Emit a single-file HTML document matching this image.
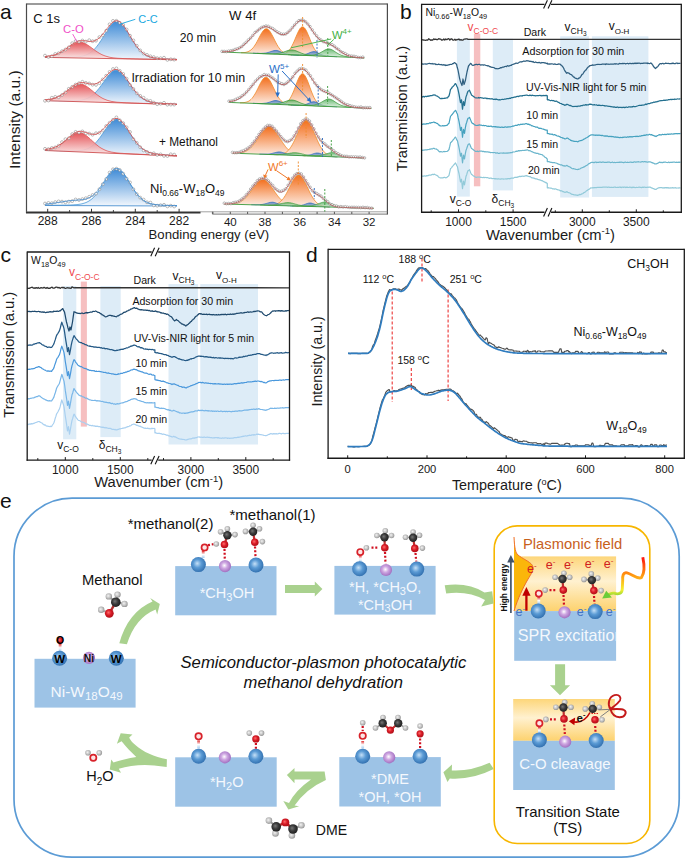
<!DOCTYPE html>
<html><head><meta charset="utf-8"><style>
html,body{margin:0;padding:0;background:#fff;}
svg{display:block;}
text{font-family:"Liberation Sans", sans-serif;}
</style></head><body>
<svg width="685" height="859" viewBox="0 0 685 859" font-family='"Liberation Sans", sans-serif'>
<rect width="685" height="859" fill="#fff"/>
<defs>
<linearGradient id="gRed" x1="0" y1="0" x2="0" y2="1"><stop offset="0" stop-color="#e2464a"/><stop offset="1" stop-color="#fdf1f1"/></linearGradient>
<linearGradient id="gBlue" x1="0" y1="0" x2="0" y2="1"><stop offset="0" stop-color="#3f8bd6"/><stop offset="1" stop-color="#f2f7fd"/></linearGradient>
<linearGradient id="gOr" x1="0" y1="0" x2="0" y2="1"><stop offset="0" stop-color="#f36f1e"/><stop offset="1" stop-color="#fdeee6"/></linearGradient>
<linearGradient id="gGr" x1="0" y1="0" x2="0" y2="1"><stop offset="0" stop-color="#2f9e3c"/><stop offset="1" stop-color="#e4f3e4"/></linearGradient>
<linearGradient id="gBl2" x1="0" y1="0" x2="0" y2="1"><stop offset="0" stop-color="#2060b8"/><stop offset="1" stop-color="#b0c8e8"/></linearGradient>
</defs>
<path d="M45,57.2 L46,57.2 L47,57.2 L48,57.2 L49,57.2 L50,57.2 L51,57.2 L52,57.2 L53,57.2 L54,57.2 L55,57.3 L56,57.3 L57,57.3 L58,57.3 L59,57.3 L60,57.3 L61,57.3 L62,57.3 L63,57.3 L64,57.3 L65,57.3 L66,57.3 L67,57.3 L68,57.3 L69,57.3 L70,57.2 L71,57.2 L72,57.2 L73,57.2 L74,57.1 L75,57.1 L76,57 L77,56.9 L78,56.8 L79,56.7 L80,56.6 L81,56.4 L82,56.2 L83,56 L84,55.7 L85,55.4 L86,55 L87,54.6 L88,54.1 L89,53.6 L90,52.9 L91,52.2 L92,51.4 L93,50.6 L94,49.6 L95,48.6 L96,47.4 L97,46.2 L98,44.9 L99,43.5 L100,42 L101,40.5 L102,38.9 L103,37.2 L104,35.6 L105,33.9 L106,32.3 L107,30.7 L108,29.1 L109,27.6 L110,26.2 L111,25 L112,23.9 L113,22.9 L114,22.2 L115,21.6 L116,21.3 L117,21.2 L118,21.3 L119,21.7 L120,22.3 L121,23.1 L122,24 L123,25.2 L124,26.5 L125,27.9 L126,29.4 L127,31 L128,32.7 L129,34.4 L130,36.1 L131,37.8 L132,39.4 L133,41 L134,42.6 L135,44.1 L136,45.6 L137,46.9 L138,48.2 L139,49.4 L140,50.4 L141,51.4 L142,52.3 L143,53.2 L144,53.9 L145,54.6 L146,55.2 L147,55.7 L148,56.2 L149,56.6 L150,56.9 L151,57.2 L152,57.5 L153,57.7 L154,57.9 L155,58.1 L156,58.3 L157,58.4 L158,58.5 L159,58.6 L160,58.7 L161,58.8 L162,58.8 L163,58.9 L164,59 L165,59 L166,59.1 L167,59.1 L168,59.1 L169,59.2 L170,59.2 L171,59.3 L172,59.3 L173,59.3 L174,59.4 L175,59.4 L176,59.4 L177,59.4 L177,59.8 L176,59.8 L175,59.8 L174,59.7 L173,59.7 L172,59.7 L171,59.7 L170,59.7 L169,59.7 L168,59.6 L167,59.6 L166,59.6 L165,59.6 L164,59.6 L163,59.5 L162,59.5 L161,59.5 L160,59.5 L159,59.5 L158,59.5 L157,59.4 L156,59.4 L155,59.4 L154,59.4 L153,59.4 L152,59.3 L151,59.3 L150,59.3 L149,59.3 L148,59.3 L147,59.3 L146,59.2 L145,59.2 L144,59.2 L143,59.2 L142,59.2 L141,59.1 L140,59.1 L139,59.1 L138,59.1 L137,59.1 L136,59.1 L135,59 L134,59 L133,59 L132,59 L131,59 L130,58.9 L129,58.9 L128,58.9 L127,58.9 L126,58.9 L125,58.9 L124,58.8 L123,58.8 L122,58.8 L121,58.8 L120,58.8 L119,58.7 L118,58.7 L117,58.7 L116,58.7 L115,58.7 L114,58.7 L113,58.6 L112,58.6 L111,58.6 L110,58.6 L109,58.6 L108,58.5 L107,58.5 L106,58.5 L105,58.5 L104,58.5 L103,58.5 L102,58.4 L101,58.4 L100,58.4 L99,58.4 L98,58.4 L97,58.3 L96,58.3 L95,58.3 L94,58.3 L93,58.3 L92,58.3 L91,58.2 L90,58.2 L89,58.2 L88,58.2 L87,58.2 L86,58.1 L85,58.1 L84,58.1 L83,58.1 L82,58.1 L81,58.1 L80,58 L79,58 L78,58 L77,58 L76,58 L75,57.9 L74,57.9 L73,57.9 L72,57.9 L71,57.9 L70,57.9 L69,57.8 L68,57.8 L67,57.8 L66,57.8 L65,57.8 L64,57.7 L63,57.7 L62,57.7 L61,57.7 L60,57.7 L59,57.7 L58,57.6 L57,57.6 L56,57.6 L55,57.6 L54,57.6 L53,57.5 L52,57.5 L51,57.5 L50,57.5 L49,57.5 L48,57.5 L47,57.4 L46,57.4 L45,57.4Z" fill="url(#gBlue)" stroke="none"/>
<polyline points="45,57.2 46,57.2 47,57.2 48,57.2 49,57.2 50,57.2 51,57.2 52,57.2 53,57.2 54,57.2 55,57.3 56,57.3 57,57.3 58,57.3 59,57.3 60,57.3 61,57.3 62,57.3 63,57.3 64,57.3 65,57.3 66,57.3 67,57.3 68,57.3 69,57.3 70,57.2 71,57.2 72,57.2 73,57.2 74,57.1 75,57.1 76,57 77,56.9 78,56.8 79,56.7 80,56.6 81,56.4 82,56.2 83,56 84,55.7 85,55.4 86,55 87,54.6 88,54.1 89,53.6 90,52.9 91,52.2 92,51.4 93,50.6 94,49.6 95,48.6 96,47.4 97,46.2 98,44.9 99,43.5 100,42 101,40.5 102,38.9 103,37.2 104,35.6 105,33.9 106,32.3 107,30.7 108,29.1 109,27.6 110,26.2 111,25 112,23.9 113,22.9 114,22.2 115,21.6 116,21.3 117,21.2 118,21.3 119,21.7 120,22.3 121,23.1 122,24 123,25.2 124,26.5 125,27.9 126,29.4 127,31 128,32.7 129,34.4 130,36.1 131,37.8 132,39.4 133,41 134,42.6 135,44.1 136,45.6 137,46.9 138,48.2 139,49.4 140,50.4 141,51.4 142,52.3 143,53.2 144,53.9 145,54.6 146,55.2 147,55.7 148,56.2 149,56.6 150,56.9 151,57.2 152,57.5 153,57.7 154,57.9 155,58.1 156,58.3 157,58.4 158,58.5 159,58.6 160,58.7 161,58.8 162,58.8 163,58.9 164,59 165,59 166,59.1 167,59.1 168,59.1 169,59.2 170,59.2 171,59.3 172,59.3 173,59.3 174,59.4 175,59.4 176,59.4 177,59.4" fill="none" stroke="#4a9ad8" stroke-width="0.8" stroke-linejoin="round" />
<path d="M45,56.7 L46,56.7 L47,56.6 L48,56.5 L49,56.3 L50,56.2 L51,56 L52,55.8 L53,55.6 L54,55.3 L55,55 L56,54.7 L57,54.3 L58,53.9 L59,53.4 L60,52.9 L61,52.4 L62,51.8 L63,51.2 L64,50.5 L65,49.9 L66,49.2 L67,48.5 L68,47.8 L69,47 L70,46.3 L71,45.7 L72,45 L73,44.4 L74,43.9 L75,43.4 L76,43 L77,42.6 L78,42.4 L79,42.3 L80,42.2 L81,42.3 L82,42.5 L83,42.7 L84,43.1 L85,43.6 L86,44.1 L87,44.7 L88,45.3 L89,46 L90,46.7 L91,47.4 L92,48.2 L93,48.9 L94,49.7 L95,50.4 L96,51.1 L97,51.8 L98,52.4 L99,53.1 L100,53.6 L101,54.2 L102,54.7 L103,55.1 L104,55.5 L105,55.9 L106,56.2 L107,56.5 L108,56.8 L109,57.1 L110,57.3 L111,57.5 L112,57.6 L113,57.8 L114,57.9 L115,58 L116,58.1 L117,58.2 L118,58.3 L119,58.3 L120,58.4 L121,58.4 L122,58.5 L123,58.5 L124,58.6 L125,58.6 L126,58.6 L127,58.7 L128,58.7 L129,58.7 L130,58.7 L131,58.8 L132,58.8 L133,58.8 L134,58.8 L135,58.9 L136,58.9 L137,58.9 L138,58.9 L139,59 L140,59 L141,59 L142,59 L143,59.1 L144,59.1 L145,59.1 L146,59.1 L147,59.1 L148,59.2 L149,59.2 L150,59.2 L151,59.2 L152,59.2 L153,59.3 L154,59.3 L155,59.3 L156,59.3 L157,59.3 L158,59.4 L159,59.4 L160,59.4 L160,59.5 L159,59.5 L158,59.5 L157,59.4 L156,59.4 L155,59.4 L154,59.4 L153,59.4 L152,59.3 L151,59.3 L150,59.3 L149,59.3 L148,59.3 L147,59.3 L146,59.2 L145,59.2 L144,59.2 L143,59.2 L142,59.2 L141,59.1 L140,59.1 L139,59.1 L138,59.1 L137,59.1 L136,59.1 L135,59 L134,59 L133,59 L132,59 L131,59 L130,58.9 L129,58.9 L128,58.9 L127,58.9 L126,58.9 L125,58.9 L124,58.8 L123,58.8 L122,58.8 L121,58.8 L120,58.8 L119,58.7 L118,58.7 L117,58.7 L116,58.7 L115,58.7 L114,58.7 L113,58.6 L112,58.6 L111,58.6 L110,58.6 L109,58.6 L108,58.5 L107,58.5 L106,58.5 L105,58.5 L104,58.5 L103,58.5 L102,58.4 L101,58.4 L100,58.4 L99,58.4 L98,58.4 L97,58.3 L96,58.3 L95,58.3 L94,58.3 L93,58.3 L92,58.3 L91,58.2 L90,58.2 L89,58.2 L88,58.2 L87,58.2 L86,58.1 L85,58.1 L84,58.1 L83,58.1 L82,58.1 L81,58.1 L80,58 L79,58 L78,58 L77,58 L76,58 L75,57.9 L74,57.9 L73,57.9 L72,57.9 L71,57.9 L70,57.9 L69,57.8 L68,57.8 L67,57.8 L66,57.8 L65,57.8 L64,57.7 L63,57.7 L62,57.7 L61,57.7 L60,57.7 L59,57.7 L58,57.6 L57,57.6 L56,57.6 L55,57.6 L54,57.6 L53,57.5 L52,57.5 L51,57.5 L50,57.5 L49,57.5 L48,57.5 L47,57.4 L46,57.4 L45,57.4Z" fill="url(#gRed)" fill-opacity="0.92" stroke="none"/>
<polyline points="45,56.7 46,56.7 47,56.6 48,56.5 49,56.3 50,56.2 51,56 52,55.8 53,55.6 54,55.3 55,55 56,54.7 57,54.3 58,53.9 59,53.4 60,52.9 61,52.4 62,51.8 63,51.2 64,50.5 65,49.9 66,49.2 67,48.5 68,47.8 69,47 70,46.3 71,45.7 72,45 73,44.4 74,43.9 75,43.4 76,43 77,42.6 78,42.4 79,42.3 80,42.2 81,42.3 82,42.5 83,42.7 84,43.1 85,43.6 86,44.1 87,44.7 88,45.3 89,46 90,46.7 91,47.4 92,48.2 93,48.9 94,49.7 95,50.4 96,51.1 97,51.8 98,52.4 99,53.1 100,53.6 101,54.2 102,54.7 103,55.1 104,55.5 105,55.9 106,56.2 107,56.5 108,56.8 109,57.1 110,57.3 111,57.5 112,57.6 113,57.8 114,57.9 115,58 116,58.1 117,58.2 118,58.3 119,58.3 120,58.4 121,58.4 122,58.5 123,58.5 124,58.6 125,58.6 126,58.6 127,58.7 128,58.7 129,58.7 130,58.7 131,58.8 132,58.8 133,58.8 134,58.8 135,58.9 136,58.9 137,58.9 138,58.9 139,59 140,59 141,59 142,59 143,59.1 144,59.1 145,59.1 146,59.1 147,59.1 148,59.2 149,59.2 150,59.2 151,59.2 152,59.2 153,59.3 154,59.3 155,59.3 156,59.3 157,59.3 158,59.4 159,59.4 160,59.4 161,59.4 162,59.5 163,59.5 164,59.5 165,59.5 166,59.5 167,59.5 168,59.6 169,59.6 170,59.6 171,59.6 172,59.6 173,59.7 174,59.7 175,59.7 176,59.7 177,59.7" fill="none" stroke="#e05858" stroke-width="0.8" stroke-linejoin="round" />
<polyline points="45,57.4 177,59.8" fill="none" stroke="#d05050" stroke-width="0.9" stroke-linejoin="round" />
<g fill="#fff" fill-opacity="0.85" stroke="#7a7a7a" stroke-width="0.5"><circle cx="45" cy="55.6" r="1.45"/><circle cx="48.4" cy="57" r="1.45"/><circle cx="51.8" cy="56.2" r="1.45"/><circle cx="55.2" cy="54" r="1.45"/><circle cx="58.6" cy="53.2" r="1.45"/><circle cx="62" cy="51.2" r="1.45"/><circle cx="65.4" cy="49.5" r="1.45"/><circle cx="68.8" cy="47.3" r="1.45"/><circle cx="72.2" cy="43.2" r="1.45"/><circle cx="75.6" cy="41.1" r="1.45"/><circle cx="79" cy="41.8" r="1.45"/><circle cx="82.4" cy="40.5" r="1.45"/><circle cx="85.8" cy="41.6" r="1.45"/><circle cx="89.2" cy="40.2" r="1.45"/><circle cx="92.6" cy="41.2" r="1.45"/><circle cx="96" cy="40.7" r="1.45"/><circle cx="99.4" cy="37.1" r="1.45"/><circle cx="102.8" cy="35.2" r="1.45"/><circle cx="106.2" cy="30.7" r="1.45"/><circle cx="109.6" cy="24.3" r="1.45"/><circle cx="113" cy="20.9" r="1.45"/><circle cx="116.4" cy="20.8" r="1.45"/><circle cx="119.8" cy="22.8" r="1.45"/><circle cx="123.2" cy="24.9" r="1.45"/><circle cx="126.6" cy="29.5" r="1.45"/><circle cx="130" cy="35.7" r="1.45"/><circle cx="133.4" cy="40.4" r="1.45"/><circle cx="136.8" cy="45.8" r="1.45"/><circle cx="140.2" cy="50.4" r="1.45"/><circle cx="143.6" cy="53.5" r="1.45"/><circle cx="147" cy="54.9" r="1.45"/><circle cx="150.4" cy="56.3" r="1.45"/><circle cx="153.8" cy="57.1" r="1.45"/><circle cx="157.2" cy="58.2" r="1.45"/><circle cx="160.6" cy="58.2" r="1.45"/><circle cx="164" cy="57.7" r="1.45"/><circle cx="167.4" cy="59.9" r="1.45"/><circle cx="170.8" cy="59.3" r="1.45"/><circle cx="174.2" cy="59.6" r="1.45"/></g>
<polyline points="45,56.5 46,56.4 47,56.3 48,56.2 49,56 50,55.9 51,55.7 52,55.5 53,55.3 54,55 55,54.7 56,54.3 57,53.9 58,53.5 59,53 60,52.5 61,52 62,51.4 63,50.7 64,50.1 65,49.4 66,48.7 67,48 68,47.2 69,46.5 70,45.7 71,45 72,44.3 73,43.7 74,43.1 75,42.5 76,42 77,41.6 78,41.2 79,41 80,40.8 81,40.7 82,40.6 83,40.6 84,40.7 85,40.8 86,41 87,41.1 88,41.2 89,41.4 90,41.4 91,41.4 92,41.4 93,41.2 94,41 95,40.7 96,40.2 97,39.6 98,38.9 99,38.1 100,37.2 101,36.2 102,35.1 103,33.9 104,32.7 105,31.3 106,30 107,28.7 108,27.4 109,26.1 110,24.9 111,23.8 112,22.9 113,22.1 114,21.4 115,21 116,20.7 117,20.7 118,20.9 119,21.3 120,21.9 121,22.7 122,23.7 123,24.9 124,26.2 125,27.6 126,29.2 127,30.8 128,32.5 129,34.2 130,35.9 131,37.6 132,39.2 133,40.9 134,42.4 135,44 136,45.4 137,46.8 138,48 139,49.2 140,50.3 141,51.3 142,52.2 143,53 144,53.8 145,54.5 146,55.1 147,55.6 148,56 149,56.5 150,56.8 151,57.1 152,57.4 153,57.6 154,57.8 155,58 156,58.2 157,58.3 158,58.4 159,58.5 160,58.6 161,58.7 162,58.8 163,58.8 164,58.9 165,58.9 166,59 167,59 168,59.1 169,59.1 170,59.2 171,59.2 172,59.2 173,59.3 174,59.3 175,59.3 176,59.4 177,59.4" fill="none" stroke="#d84848" stroke-width="0.75" stroke-linejoin="round" />
<path d="M45,100.5 L46,100.5 L47,100.5 L48,100.5 L49,100.6 L50,100.6 L51,100.6 L52,100.6 L53,100.7 L54,100.7 L55,100.7 L56,100.7 L57,100.7 L58,100.7 L59,100.8 L60,100.8 L61,100.8 L62,100.8 L63,100.8 L64,100.8 L65,100.9 L66,100.9 L67,100.9 L68,100.9 L69,100.9 L70,100.9 L71,100.9 L72,100.8 L73,100.8 L74,100.8 L75,100.8 L76,100.7 L77,100.6 L78,100.6 L79,100.5 L80,100.3 L81,100.2 L82,100 L83,99.8 L84,99.5 L85,99.2 L86,98.9 L87,98.5 L88,98.1 L89,97.5 L90,97 L91,96.3 L92,95.6 L93,94.8 L94,93.9 L95,93 L96,91.9 L97,90.8 L98,89.6 L99,88.4 L100,87.1 L101,85.7 L102,84.3 L103,82.9 L104,81.5 L105,80.1 L106,78.7 L107,77.3 L108,76 L109,74.8 L110,73.7 L111,72.7 L112,71.8 L113,71.1 L114,70.6 L115,70.3 L116,70.2 L117,70.2 L118,70.5 L119,71 L120,71.6 L121,72.4 L122,73.4 L123,74.5 L124,75.7 L125,77 L126,78.4 L127,79.8 L128,81.3 L129,82.8 L130,84.3 L131,85.7 L132,87.2 L133,88.6 L134,89.9 L135,91.2 L136,92.4 L137,93.5 L138,94.6 L139,95.6 L140,96.5 L141,97.3 L142,98.1 L143,98.7 L144,99.4 L145,99.9 L146,100.4 L147,100.8 L148,101.2 L149,101.5 L150,101.8 L151,102.1 L152,102.3 L153,102.5 L154,102.7 L155,102.8 L156,103 L157,103.1 L158,103.2 L159,103.3 L160,103.4 L161,103.4 L162,103.5 L163,103.6 L164,103.6 L165,103.7 L166,103.7 L167,103.8 L168,103.8 L169,103.9 L170,103.9 L171,104 L172,104 L173,104 L174,104.1 L175,104.1 L176,104.2 L177,104.2 L177,104.5 L176,104.5 L175,104.4 L174,104.4 L173,104.4 L172,104.4 L171,104.3 L170,104.3 L169,104.3 L168,104.2 L167,104.2 L166,104.2 L165,104.2 L164,104.1 L163,104.1 L162,104.1 L161,104 L160,104 L159,104 L158,104 L157,103.9 L156,103.9 L155,103.9 L154,103.8 L153,103.8 L152,103.8 L151,103.8 L150,103.7 L149,103.7 L148,103.7 L147,103.6 L146,103.6 L145,103.6 L144,103.5 L143,103.5 L142,103.5 L141,103.5 L140,103.4 L139,103.4 L138,103.4 L137,103.3 L136,103.3 L135,103.3 L134,103.3 L133,103.2 L132,103.2 L131,103.2 L130,103.1 L129,103.1 L128,103.1 L127,103.1 L126,103 L125,103 L124,103 L123,102.9 L122,102.9 L121,102.9 L120,102.9 L119,102.8 L118,102.8 L117,102.8 L116,102.7 L115,102.7 L114,102.7 L113,102.7 L112,102.6 L111,102.6 L110,102.6 L109,102.5 L108,102.5 L107,102.5 L106,102.5 L105,102.4 L104,102.4 L103,102.4 L102,102.3 L101,102.3 L100,102.3 L99,102.3 L98,102.2 L97,102.2 L96,102.2 L95,102.1 L94,102.1 L93,102.1 L92,102.1 L91,102 L90,102 L89,102 L88,101.9 L87,101.9 L86,101.9 L85,101.9 L84,101.8 L83,101.8 L82,101.8 L81,101.7 L80,101.7 L79,101.7 L78,101.7 L77,101.6 L76,101.6 L75,101.6 L74,101.5 L73,101.5 L72,101.5 L71,101.4 L70,101.4 L69,101.4 L68,101.4 L67,101.3 L66,101.3 L65,101.3 L64,101.2 L63,101.2 L62,101.2 L61,101.2 L60,101.1 L59,101.1 L58,101.1 L57,101 L56,101 L55,101 L54,101 L53,100.9 L52,100.9 L51,100.9 L50,100.8 L49,100.8 L48,100.8 L47,100.8 L46,100.7 L45,100.7Z" fill="url(#gBlue)" stroke="none"/>
<polyline points="45,100.5 46,100.5 47,100.5 48,100.5 49,100.6 50,100.6 51,100.6 52,100.6 53,100.7 54,100.7 55,100.7 56,100.7 57,100.7 58,100.7 59,100.8 60,100.8 61,100.8 62,100.8 63,100.8 64,100.8 65,100.9 66,100.9 67,100.9 68,100.9 69,100.9 70,100.9 71,100.9 72,100.8 73,100.8 74,100.8 75,100.8 76,100.7 77,100.6 78,100.6 79,100.5 80,100.3 81,100.2 82,100 83,99.8 84,99.5 85,99.2 86,98.9 87,98.5 88,98.1 89,97.5 90,97 91,96.3 92,95.6 93,94.8 94,93.9 95,93 96,91.9 97,90.8 98,89.6 99,88.4 100,87.1 101,85.7 102,84.3 103,82.9 104,81.5 105,80.1 106,78.7 107,77.3 108,76 109,74.8 110,73.7 111,72.7 112,71.8 113,71.1 114,70.6 115,70.3 116,70.2 117,70.2 118,70.5 119,71 120,71.6 121,72.4 122,73.4 123,74.5 124,75.7 125,77 126,78.4 127,79.8 128,81.3 129,82.8 130,84.3 131,85.7 132,87.2 133,88.6 134,89.9 135,91.2 136,92.4 137,93.5 138,94.6 139,95.6 140,96.5 141,97.3 142,98.1 143,98.7 144,99.4 145,99.9 146,100.4 147,100.8 148,101.2 149,101.5 150,101.8 151,102.1 152,102.3 153,102.5 154,102.7 155,102.8 156,103 157,103.1 158,103.2 159,103.3 160,103.4 161,103.4 162,103.5 163,103.6 164,103.6 165,103.7 166,103.7 167,103.8 168,103.8 169,103.9 170,103.9 171,104 172,104 173,104 174,104.1 175,104.1 176,104.2 177,104.2" fill="none" stroke="#4a9ad8" stroke-width="0.8" stroke-linejoin="round" />
<path d="M45,100 L46,99.9 L47,99.8 L48,99.7 L49,99.6 L50,99.4 L51,99.3 L52,99.1 L53,98.8 L54,98.5 L55,98.2 L56,97.9 L57,97.5 L58,97 L59,96.5 L60,96 L61,95.4 L62,94.8 L63,94.1 L64,93.4 L65,92.7 L66,92 L67,91.2 L68,90.4 L69,89.6 L70,88.8 L71,88.1 L72,87.4 L73,86.7 L74,86.1 L75,85.5 L76,85 L77,84.6 L78,84.4 L79,84.2 L80,84.1 L81,84.2 L82,84.3 L83,84.6 L84,85 L85,85.5 L86,86 L87,86.7 L88,87.4 L89,88.1 L90,88.9 L91,89.8 L92,90.6 L93,91.4 L94,92.3 L95,93.1 L96,93.9 L97,94.7 L98,95.4 L99,96.1 L100,96.8 L101,97.4 L102,98 L103,98.5 L104,99 L105,99.4 L106,99.8 L107,100.2 L108,100.5 L109,100.8 L110,101 L111,101.3 L112,101.5 L113,101.6 L114,101.8 L115,101.9 L116,102.1 L117,102.2 L118,102.3 L119,102.3 L120,102.4 L121,102.5 L122,102.5 L123,102.6 L124,102.7 L125,102.7 L126,102.8 L127,102.8 L128,102.8 L129,102.9 L130,102.9 L131,103 L132,103 L133,103 L134,103.1 L135,103.1 L136,103.1 L137,103.2 L138,103.2 L139,103.2 L140,103.3 L141,103.3 L142,103.3 L143,103.4 L144,103.4 L145,103.4 L146,103.5 L147,103.5 L148,103.5 L149,103.6 L150,103.6 L151,103.6 L152,103.7 L153,103.7 L154,103.7 L155,103.8 L156,103.8 L157,103.8 L158,103.9 L159,103.9 L160,103.9 L161,104 L162,104 L163,104 L164,104 L165,104.1 L165,104.2 L164,104.1 L163,104.1 L162,104.1 L161,104 L160,104 L159,104 L158,104 L157,103.9 L156,103.9 L155,103.9 L154,103.8 L153,103.8 L152,103.8 L151,103.8 L150,103.7 L149,103.7 L148,103.7 L147,103.6 L146,103.6 L145,103.6 L144,103.5 L143,103.5 L142,103.5 L141,103.5 L140,103.4 L139,103.4 L138,103.4 L137,103.3 L136,103.3 L135,103.3 L134,103.3 L133,103.2 L132,103.2 L131,103.2 L130,103.1 L129,103.1 L128,103.1 L127,103.1 L126,103 L125,103 L124,103 L123,102.9 L122,102.9 L121,102.9 L120,102.9 L119,102.8 L118,102.8 L117,102.8 L116,102.7 L115,102.7 L114,102.7 L113,102.7 L112,102.6 L111,102.6 L110,102.6 L109,102.5 L108,102.5 L107,102.5 L106,102.5 L105,102.4 L104,102.4 L103,102.4 L102,102.3 L101,102.3 L100,102.3 L99,102.3 L98,102.2 L97,102.2 L96,102.2 L95,102.1 L94,102.1 L93,102.1 L92,102.1 L91,102 L90,102 L89,102 L88,101.9 L87,101.9 L86,101.9 L85,101.9 L84,101.8 L83,101.8 L82,101.8 L81,101.7 L80,101.7 L79,101.7 L78,101.7 L77,101.6 L76,101.6 L75,101.6 L74,101.5 L73,101.5 L72,101.5 L71,101.4 L70,101.4 L69,101.4 L68,101.4 L67,101.3 L66,101.3 L65,101.3 L64,101.2 L63,101.2 L62,101.2 L61,101.2 L60,101.1 L59,101.1 L58,101.1 L57,101 L56,101 L55,101 L54,101 L53,100.9 L52,100.9 L51,100.9 L50,100.8 L49,100.8 L48,100.8 L47,100.8 L46,100.7 L45,100.7Z" fill="url(#gRed)" fill-opacity="0.92" stroke="none"/>
<polyline points="45,100 46,99.9 47,99.8 48,99.7 49,99.6 50,99.4 51,99.3 52,99.1 53,98.8 54,98.5 55,98.2 56,97.9 57,97.5 58,97 59,96.5 60,96 61,95.4 62,94.8 63,94.1 64,93.4 65,92.7 66,92 67,91.2 68,90.4 69,89.6 70,88.8 71,88.1 72,87.4 73,86.7 74,86.1 75,85.5 76,85 77,84.6 78,84.4 79,84.2 80,84.1 81,84.2 82,84.3 83,84.6 84,85 85,85.5 86,86 87,86.7 88,87.4 89,88.1 90,88.9 91,89.8 92,90.6 93,91.4 94,92.3 95,93.1 96,93.9 97,94.7 98,95.4 99,96.1 100,96.8 101,97.4 102,98 103,98.5 104,99 105,99.4 106,99.8 107,100.2 108,100.5 109,100.8 110,101 111,101.3 112,101.5 113,101.6 114,101.8 115,101.9 116,102.1 117,102.2 118,102.3 119,102.3 120,102.4 121,102.5 122,102.5 123,102.6 124,102.7 125,102.7 126,102.8 127,102.8 128,102.8 129,102.9 130,102.9 131,103 132,103 133,103 134,103.1 135,103.1 136,103.1 137,103.2 138,103.2 139,103.2 140,103.3 141,103.3 142,103.3 143,103.4 144,103.4 145,103.4 146,103.5 147,103.5 148,103.5 149,103.6 150,103.6 151,103.6 152,103.7 153,103.7 154,103.7 155,103.8 156,103.8 157,103.8 158,103.9 159,103.9 160,103.9 161,104 162,104 163,104 164,104 165,104.1 166,104.1 167,104.1 168,104.2 169,104.2 170,104.2 171,104.3 172,104.3 173,104.3 174,104.3 175,104.4 176,104.4 177,104.4" fill="none" stroke="#e05858" stroke-width="0.8" stroke-linejoin="round" />
<polyline points="45,100.7 177,104.5" fill="none" stroke="#d05050" stroke-width="0.9" stroke-linejoin="round" />
<g fill="#fff" fill-opacity="0.85" stroke="#7a7a7a" stroke-width="0.5"><circle cx="45" cy="100.8" r="1.45"/><circle cx="48.4" cy="100.5" r="1.45"/><circle cx="51.8" cy="97.8" r="1.45"/><circle cx="55.2" cy="96.9" r="1.45"/><circle cx="58.6" cy="97.2" r="1.45"/><circle cx="62" cy="95" r="1.45"/><circle cx="65.4" cy="92.4" r="1.45"/><circle cx="68.8" cy="88.8" r="1.45"/><circle cx="72.2" cy="86.8" r="1.45"/><circle cx="75.6" cy="84.6" r="1.45"/><circle cx="79" cy="83.2" r="1.45"/><circle cx="82.4" cy="81.8" r="1.45"/><circle cx="85.8" cy="82.9" r="1.45"/><circle cx="89.2" cy="83.5" r="1.45"/><circle cx="92.6" cy="84.7" r="1.45"/><circle cx="96" cy="84.9" r="1.45"/><circle cx="99.4" cy="83.1" r="1.45"/><circle cx="102.8" cy="79.4" r="1.45"/><circle cx="106.2" cy="75.7" r="1.45"/><circle cx="109.6" cy="71.9" r="1.45"/><circle cx="113" cy="69" r="1.45"/><circle cx="116.4" cy="68.4" r="1.45"/><circle cx="119.8" cy="70.9" r="1.45"/><circle cx="123.2" cy="73.9" r="1.45"/><circle cx="126.6" cy="78.7" r="1.45"/><circle cx="130" cy="85" r="1.45"/><circle cx="133.4" cy="89" r="1.45"/><circle cx="136.8" cy="93.3" r="1.45"/><circle cx="140.2" cy="95.9" r="1.45"/><circle cx="143.6" cy="97.8" r="1.45"/><circle cx="147" cy="100.3" r="1.45"/><circle cx="150.4" cy="100.9" r="1.45"/><circle cx="153.8" cy="102.6" r="1.45"/><circle cx="157.2" cy="104.2" r="1.45"/><circle cx="160.6" cy="103.7" r="1.45"/><circle cx="164" cy="102.8" r="1.45"/><circle cx="167.4" cy="104.7" r="1.45"/><circle cx="170.8" cy="104.6" r="1.45"/><circle cx="174.2" cy="104.6" r="1.45"/></g>
<polyline points="45,99.8 46,99.7 47,99.6 48,99.5 49,99.3 50,99.2 51,99 52,98.8 53,98.5 54,98.2 55,97.9 56,97.6 57,97.1 58,96.7 59,96.2 60,95.6 61,95.1 62,94.4 63,93.7 64,93 65,92.3 66,91.5 67,90.7 68,89.9 69,89.1 70,88.3 71,87.5 72,86.7 73,86 74,85.3 75,84.7 76,84.1 77,83.7 78,83.3 79,83 80,82.7 81,82.6 82,82.6 83,82.6 84,82.7 85,82.9 86,83.1 87,83.3 88,83.5 89,83.7 90,83.9 91,84.1 92,84.1 93,84.2 94,84.1 95,83.9 96,83.7 97,83.3 98,82.8 99,82.3 100,81.6 101,80.8 102,80 103,79.1 104,78.1 105,77.1 106,76 107,75 108,74 109,73 110,72.1 111,71.3 112,70.7 113,70.1 114,69.7 115,69.5 116,69.5 117,69.6 118,69.9 119,70.5 120,71.1 121,72 122,73 123,74.1 124,75.4 125,76.7 126,78.1 127,79.6 128,81.1 129,82.6 130,84.1 131,85.5 132,87 133,88.4 134,89.7 135,91 136,92.2 137,93.4 138,94.4 139,95.4 140,96.3 141,97.2 142,97.9 143,98.6 144,99.2 145,99.8 146,100.3 147,100.7 148,101.1 149,101.4 150,101.7 151,102 152,102.2 153,102.4 154,102.6 155,102.7 156,102.9 157,103 158,103.1 159,103.2 160,103.3 161,103.3 162,103.4 163,103.5 164,103.5 165,103.6 166,103.6 167,103.7 168,103.8 169,103.8 170,103.8 171,103.9 172,103.9 173,104 174,104 175,104.1 176,104.1 177,104.1" fill="none" stroke="#d84848" stroke-width="0.75" stroke-linejoin="round" />
<path d="M45,150.3 L46,150.3 L47,150.3 L48,150.4 L49,150.4 L50,150.4 L51,150.5 L52,150.5 L53,150.5 L54,150.6 L55,150.6 L56,150.6 L57,150.7 L58,150.7 L59,150.7 L60,150.8 L61,150.8 L62,150.8 L63,150.8 L64,150.9 L65,150.9 L66,150.9 L67,150.9 L68,151 L69,151 L70,151 L71,151 L72,151 L73,151 L74,151 L75,150.9 L76,150.9 L77,150.9 L78,150.8 L79,150.7 L80,150.6 L81,150.5 L82,150.3 L83,150.1 L84,149.9 L85,149.6 L86,149.3 L87,148.9 L88,148.5 L89,148 L90,147.4 L91,146.8 L92,146.1 L93,145.3 L94,144.4 L95,143.4 L96,142.4 L97,141.3 L98,140.1 L99,138.8 L100,137.5 L101,136.1 L102,134.6 L103,133.2 L104,131.7 L105,130.2 L106,128.7 L107,127.2 L108,125.8 L109,124.5 L110,123.3 L111,122.2 L112,121.2 L113,120.4 L114,119.8 L115,119.4 L116,119.1 L117,119.1 L118,119.3 L119,119.7 L120,120.3 L121,121.1 L122,122 L123,123.1 L124,124.4 L125,125.7 L126,127.2 L127,128.7 L128,130.2 L129,131.8 L130,133.4 L131,134.9 L132,136.5 L133,138 L134,139.4 L135,140.8 L136,142.2 L137,143.4 L138,144.6 L139,145.7 L140,146.7 L141,147.6 L142,148.4 L143,149.2 L144,149.9 L145,150.5 L146,151.1 L147,151.6 L148,152 L149,152.4 L150,152.7 L151,153 L152,153.3 L153,153.5 L154,153.7 L155,153.9 L156,154.1 L157,154.2 L158,154.4 L159,154.5 L160,154.6 L161,154.7 L162,154.8 L163,154.8 L164,154.9 L165,155 L166,155 L167,155.1 L168,155.2 L169,155.2 L170,155.3 L171,155.4 L172,155.4 L173,155.5 L174,155.5 L175,155.6 L176,155.6 L177,155.7 L177,156 L176,156 L175,155.9 L174,155.9 L173,155.8 L172,155.8 L171,155.8 L170,155.7 L169,155.7 L168,155.6 L167,155.6 L166,155.5 L165,155.5 L164,155.5 L163,155.4 L162,155.4 L161,155.3 L160,155.3 L159,155.2 L158,155.2 L157,155.2 L156,155.1 L155,155.1 L154,155 L153,155 L152,155 L151,154.9 L150,154.9 L149,154.8 L148,154.8 L147,154.8 L146,154.7 L145,154.7 L144,154.6 L143,154.6 L142,154.5 L141,154.5 L140,154.5 L139,154.4 L138,154.4 L137,154.3 L136,154.3 L135,154.2 L134,154.2 L133,154.2 L132,154.1 L131,154.1 L130,154 L129,154 L128,154 L127,153.9 L126,153.9 L125,153.8 L124,153.8 L123,153.8 L122,153.7 L121,153.7 L120,153.6 L119,153.6 L118,153.5 L117,153.5 L116,153.5 L115,153.4 L114,153.4 L113,153.3 L112,153.3 L111,153.2 L110,153.2 L109,153.2 L108,153.1 L107,153.1 L106,153 L105,153 L104,153 L103,152.9 L102,152.9 L101,152.8 L100,152.8 L99,152.8 L98,152.7 L97,152.7 L96,152.6 L95,152.6 L94,152.5 L93,152.5 L92,152.5 L91,152.4 L90,152.4 L89,152.3 L88,152.3 L87,152.2 L86,152.2 L85,152.2 L84,152.1 L83,152.1 L82,152 L81,152 L80,152 L79,151.9 L78,151.9 L77,151.8 L76,151.8 L75,151.8 L74,151.7 L73,151.7 L72,151.6 L71,151.6 L70,151.5 L69,151.5 L68,151.5 L67,151.4 L66,151.4 L65,151.3 L64,151.3 L63,151.2 L62,151.2 L61,151.2 L60,151.1 L59,151.1 L58,151 L57,151 L56,151 L55,150.9 L54,150.9 L53,150.8 L52,150.8 L51,150.8 L50,150.7 L49,150.7 L48,150.6 L47,150.6 L46,150.5 L45,150.5Z" fill="url(#gBlue)" stroke="none"/>
<polyline points="45,150.3 46,150.3 47,150.3 48,150.4 49,150.4 50,150.4 51,150.5 52,150.5 53,150.5 54,150.6 55,150.6 56,150.6 57,150.7 58,150.7 59,150.7 60,150.8 61,150.8 62,150.8 63,150.8 64,150.9 65,150.9 66,150.9 67,150.9 68,151 69,151 70,151 71,151 72,151 73,151 74,151 75,150.9 76,150.9 77,150.9 78,150.8 79,150.7 80,150.6 81,150.5 82,150.3 83,150.1 84,149.9 85,149.6 86,149.3 87,148.9 88,148.5 89,148 90,147.4 91,146.8 92,146.1 93,145.3 94,144.4 95,143.4 96,142.4 97,141.3 98,140.1 99,138.8 100,137.5 101,136.1 102,134.6 103,133.2 104,131.7 105,130.2 106,128.7 107,127.2 108,125.8 109,124.5 110,123.3 111,122.2 112,121.2 113,120.4 114,119.8 115,119.4 116,119.1 117,119.1 118,119.3 119,119.7 120,120.3 121,121.1 122,122 123,123.1 124,124.4 125,125.7 126,127.2 127,128.7 128,130.2 129,131.8 130,133.4 131,134.9 132,136.5 133,138 134,139.4 135,140.8 136,142.2 137,143.4 138,144.6 139,145.7 140,146.7 141,147.6 142,148.4 143,149.2 144,149.9 145,150.5 146,151.1 147,151.6 148,152 149,152.4 150,152.7 151,153 152,153.3 153,153.5 154,153.7 155,153.9 156,154.1 157,154.2 158,154.4 159,154.5 160,154.6 161,154.7 162,154.8 163,154.8 164,154.9 165,155 166,155 167,155.1 168,155.2 169,155.2 170,155.3 171,155.4 172,155.4 173,155.5 174,155.5 175,155.6 176,155.6 177,155.7" fill="none" stroke="#4a9ad8" stroke-width="0.8" stroke-linejoin="round" />
<path d="M45,149.6 L46,149.5 L47,149.4 L48,149.3 L49,149.1 L50,149 L51,148.8 L52,148.5 L53,148.2 L54,147.9 L55,147.5 L56,147.1 L57,146.6 L58,146.1 L59,145.5 L60,144.9 L61,144.2 L62,143.5 L63,142.8 L64,142 L65,141.2 L66,140.3 L67,139.5 L68,138.6 L69,137.8 L70,137 L71,136.2 L72,135.4 L73,134.8 L74,134.1 L75,133.6 L76,133.2 L77,132.9 L78,132.7 L79,132.6 L80,132.7 L81,132.9 L82,133.2 L83,133.6 L84,134.1 L85,134.7 L86,135.4 L87,136.2 L88,137.1 L89,137.9 L90,138.8 L91,139.8 L92,140.7 L93,141.6 L94,142.5 L95,143.4 L96,144.3 L97,145.1 L98,145.9 L99,146.7 L100,147.4 L101,148 L102,148.6 L103,149.1 L104,149.6 L105,150.1 L106,150.5 L107,150.9 L108,151.2 L109,151.5 L110,151.7 L111,152 L112,152.2 L113,152.3 L114,152.5 L115,152.6 L116,152.8 L117,152.9 L118,153 L119,153.1 L120,153.2 L121,153.3 L122,153.3 L123,153.4 L124,153.5 L125,153.5 L126,153.6 L127,153.6 L128,153.7 L129,153.7 L130,153.8 L131,153.9 L132,153.9 L133,154 L134,154 L135,154.1 L136,154.1 L137,154.1 L138,154.2 L139,154.2 L140,154.3 L141,154.3 L142,154.4 L143,154.4 L144,154.5 L145,154.5 L146,154.6 L147,154.6 L148,154.7 L149,154.7 L150,154.7 L151,154.8 L152,154.8 L153,154.9 L154,154.9 L155,155 L156,155 L157,155.1 L158,155.1 L159,155.2 L160,155.2 L161,155.2 L162,155.3 L163,155.3 L164,155.4 L165,155.4 L166,155.5 L167,155.5 L168,155.5 L168,155.6 L167,155.6 L166,155.5 L165,155.5 L164,155.5 L163,155.4 L162,155.4 L161,155.3 L160,155.3 L159,155.2 L158,155.2 L157,155.2 L156,155.1 L155,155.1 L154,155 L153,155 L152,155 L151,154.9 L150,154.9 L149,154.8 L148,154.8 L147,154.8 L146,154.7 L145,154.7 L144,154.6 L143,154.6 L142,154.5 L141,154.5 L140,154.5 L139,154.4 L138,154.4 L137,154.3 L136,154.3 L135,154.2 L134,154.2 L133,154.2 L132,154.1 L131,154.1 L130,154 L129,154 L128,154 L127,153.9 L126,153.9 L125,153.8 L124,153.8 L123,153.8 L122,153.7 L121,153.7 L120,153.6 L119,153.6 L118,153.5 L117,153.5 L116,153.5 L115,153.4 L114,153.4 L113,153.3 L112,153.3 L111,153.2 L110,153.2 L109,153.2 L108,153.1 L107,153.1 L106,153 L105,153 L104,153 L103,152.9 L102,152.9 L101,152.8 L100,152.8 L99,152.8 L98,152.7 L97,152.7 L96,152.6 L95,152.6 L94,152.5 L93,152.5 L92,152.5 L91,152.4 L90,152.4 L89,152.3 L88,152.3 L87,152.2 L86,152.2 L85,152.2 L84,152.1 L83,152.1 L82,152 L81,152 L80,152 L79,151.9 L78,151.9 L77,151.8 L76,151.8 L75,151.8 L74,151.7 L73,151.7 L72,151.6 L71,151.6 L70,151.5 L69,151.5 L68,151.5 L67,151.4 L66,151.4 L65,151.3 L64,151.3 L63,151.2 L62,151.2 L61,151.2 L60,151.1 L59,151.1 L58,151 L57,151 L56,151 L55,150.9 L54,150.9 L53,150.8 L52,150.8 L51,150.8 L50,150.7 L49,150.7 L48,150.6 L47,150.6 L46,150.5 L45,150.5Z" fill="url(#gRed)" fill-opacity="0.92" stroke="none"/>
<polyline points="45,149.6 46,149.5 47,149.4 48,149.3 49,149.1 50,149 51,148.8 52,148.5 53,148.2 54,147.9 55,147.5 56,147.1 57,146.6 58,146.1 59,145.5 60,144.9 61,144.2 62,143.5 63,142.8 64,142 65,141.2 66,140.3 67,139.5 68,138.6 69,137.8 70,137 71,136.2 72,135.4 73,134.8 74,134.1 75,133.6 76,133.2 77,132.9 78,132.7 79,132.6 80,132.7 81,132.9 82,133.2 83,133.6 84,134.1 85,134.7 86,135.4 87,136.2 88,137.1 89,137.9 90,138.8 91,139.8 92,140.7 93,141.6 94,142.5 95,143.4 96,144.3 97,145.1 98,145.9 99,146.7 100,147.4 101,148 102,148.6 103,149.1 104,149.6 105,150.1 106,150.5 107,150.9 108,151.2 109,151.5 110,151.7 111,152 112,152.2 113,152.3 114,152.5 115,152.6 116,152.8 117,152.9 118,153 119,153.1 120,153.2 121,153.3 122,153.3 123,153.4 124,153.5 125,153.5 126,153.6 127,153.6 128,153.7 129,153.7 130,153.8 131,153.9 132,153.9 133,154 134,154 135,154.1 136,154.1 137,154.1 138,154.2 139,154.2 140,154.3 141,154.3 142,154.4 143,154.4 144,154.5 145,154.5 146,154.6 147,154.6 148,154.7 149,154.7 150,154.7 151,154.8 152,154.8 153,154.9 154,154.9 155,155 156,155 157,155.1 158,155.1 159,155.2 160,155.2 161,155.2 162,155.3 163,155.3 164,155.4 165,155.4 166,155.5 167,155.5 168,155.5 169,155.6 170,155.6 171,155.7 172,155.7 173,155.8 174,155.8 175,155.8 176,155.9 177,155.9" fill="none" stroke="#e05858" stroke-width="0.8" stroke-linejoin="round" />
<polyline points="45,150.5 177,156" fill="none" stroke="#d05050" stroke-width="0.9" stroke-linejoin="round" />
<g fill="#fff" fill-opacity="0.85" stroke="#7a7a7a" stroke-width="0.5"><circle cx="45" cy="148.8" r="1.45"/><circle cx="48.4" cy="149.1" r="1.45"/><circle cx="51.8" cy="148" r="1.45"/><circle cx="55.2" cy="147.4" r="1.45"/><circle cx="58.6" cy="145.7" r="1.45"/><circle cx="62" cy="142.1" r="1.45"/><circle cx="65.4" cy="139.2" r="1.45"/><circle cx="68.8" cy="138.2" r="1.45"/><circle cx="72.2" cy="134.1" r="1.45"/><circle cx="75.6" cy="131.9" r="1.45"/><circle cx="79" cy="132.6" r="1.45"/><circle cx="82.4" cy="131.4" r="1.45"/><circle cx="85.8" cy="133.2" r="1.45"/><circle cx="89.2" cy="133.6" r="1.45"/><circle cx="92.6" cy="134.7" r="1.45"/><circle cx="96" cy="133.2" r="1.45"/><circle cx="99.4" cy="132.8" r="1.45"/><circle cx="102.8" cy="130.5" r="1.45"/><circle cx="106.2" cy="126" r="1.45"/><circle cx="109.6" cy="122.8" r="1.45"/><circle cx="113" cy="119.8" r="1.45"/><circle cx="116.4" cy="117.4" r="1.45"/><circle cx="119.8" cy="120.3" r="1.45"/><circle cx="123.2" cy="123.2" r="1.45"/><circle cx="126.6" cy="127.3" r="1.45"/><circle cx="130" cy="132" r="1.45"/><circle cx="133.4" cy="139.2" r="1.45"/><circle cx="136.8" cy="142.9" r="1.45"/><circle cx="140.2" cy="147.2" r="1.45"/><circle cx="143.6" cy="150.4" r="1.45"/><circle cx="147" cy="151.9" r="1.45"/><circle cx="150.4" cy="153.7" r="1.45"/><circle cx="153.8" cy="153.3" r="1.45"/><circle cx="157.2" cy="154.9" r="1.45"/><circle cx="160.6" cy="154.4" r="1.45"/><circle cx="164" cy="155.9" r="1.45"/><circle cx="167.4" cy="156" r="1.45"/><circle cx="170.8" cy="154.3" r="1.45"/><circle cx="174.2" cy="154.6" r="1.45"/></g>
<polyline points="45,149.4 46,149.3 47,149.2 48,149.1 49,148.9 50,148.7 51,148.5 52,148.2 53,147.9 54,147.6 55,147.2 56,146.8 57,146.3 58,145.7 59,145.2 60,144.5 61,143.9 62,143.1 63,142.4 64,141.6 65,140.7 66,139.9 67,139 68,138.1 69,137.3 70,136.4 71,135.6 72,134.8 73,134.1 74,133.4 75,132.8 76,132.3 77,131.9 78,131.6 79,131.4 80,131.3 81,131.3 82,131.4 83,131.6 84,131.9 85,132.2 86,132.5 87,132.9 88,133.2 89,133.6 90,133.9 91,134.1 92,134.3 93,134.4 94,134.4 95,134.3 96,134.1 97,133.7 98,133.3 99,132.7 100,132 101,131.2 102,130.3 103,129.4 104,128.3 105,127.2 106,126.1 107,125 108,123.9 109,122.8 110,121.8 111,120.9 112,120.1 113,119.4 114,118.9 115,118.6 116,118.4 117,118.5 118,118.7 119,119.2 120,119.8 121,120.7 122,121.6 123,122.8 124,124 125,125.4 126,126.9 127,128.4 128,129.9 129,131.5 130,133.1 131,134.7 132,136.3 133,137.8 134,139.2 135,140.6 136,142 137,143.2 138,144.4 139,145.5 140,146.5 141,147.4 142,148.3 143,149.1 144,149.8 145,150.4 146,150.9 147,151.4 148,151.9 149,152.3 150,152.6 151,152.9 152,153.2 153,153.4 154,153.6 155,153.8 156,154 157,154.1 158,154.2 159,154.4 160,154.5 161,154.6 162,154.7 163,154.7 164,154.8 165,154.9 166,155 167,155 168,155.1 169,155.2 170,155.2 171,155.3 172,155.3 173,155.4 174,155.4 175,155.5 176,155.6 177,155.6" fill="none" stroke="#d84848" stroke-width="0.75" stroke-linejoin="round" />
<path d="M45,205.3 L46,205.2 L47,205.2 L48,205.2 L49,205.2 L50,205.2 L51,205.2 L52,205.2 L53,205.2 L54,205.2 L55,205.2 L56,205.2 L57,205.2 L58,205.2 L59,205.2 L60,205.2 L61,205.2 L62,205.1 L63,205.1 L64,205.1 L65,205.1 L66,205.1 L67,205.1 L68,205 L69,205 L70,205 L71,205 L72,204.9 L73,204.9 L74,204.8 L75,204.7 L76,204.7 L77,204.6 L78,204.5 L79,204.3 L80,204.2 L81,204 L82,203.8 L83,203.5 L84,203.2 L85,202.9 L86,202.5 L87,202.1 L88,201.5 L89,201 L90,200.3 L91,199.6 L92,198.8 L93,197.9 L94,196.9 L95,195.8 L96,194.7 L97,193.4 L98,192.1 L99,190.7 L100,189.2 L101,187.7 L102,186.1 L103,184.5 L104,182.8 L105,181.2 L106,179.5 L107,177.9 L108,176.4 L109,174.9 L110,173.6 L111,172.3 L112,171.3 L113,170.4 L114,169.6 L115,169.1 L116,168.8 L117,168.8 L118,168.9 L119,169.3 L120,169.9 L121,170.7 L122,171.7 L123,172.9 L124,174.2 L125,175.6 L126,177.1 L127,178.6 L128,180.3 L129,181.9 L130,183.6 L131,185.2 L132,186.9 L133,188.4 L134,190 L135,191.4 L136,192.8 L137,194.1 L138,195.3 L139,196.4 L140,197.5 L141,198.4 L142,199.3 L143,200.1 L144,200.8 L145,201.4 L146,202 L147,202.5 L148,202.9 L149,203.3 L150,203.6 L151,203.9 L152,204.1 L153,204.3 L154,204.5 L155,204.7 L156,204.8 L157,204.9 L158,205 L159,205.1 L160,205.2 L161,205.2 L162,205.3 L163,205.3 L164,205.4 L165,205.4 L166,205.4 L167,205.5 L168,205.5 L169,205.5 L170,205.5 L171,205.6 L172,205.6 L173,205.6 L174,205.6 L175,205.6 L176,205.6 L177,205.7 L177,206 L176,206 L175,206 L174,206 L173,206 L172,206 L171,206 L170,206 L169,206 L168,206 L167,206 L166,206 L165,206 L164,206 L163,205.9 L162,205.9 L161,205.9 L160,205.9 L159,205.9 L158,205.9 L157,205.9 L156,205.9 L155,205.9 L154,205.9 L153,205.9 L152,205.9 L151,205.9 L150,205.9 L149,205.9 L148,205.9 L147,205.9 L146,205.9 L145,205.9 L144,205.9 L143,205.9 L142,205.9 L141,205.9 L140,205.9 L139,205.9 L138,205.9 L137,205.8 L136,205.8 L135,205.8 L134,205.8 L133,205.8 L132,205.8 L131,205.8 L130,205.8 L129,205.8 L128,205.8 L127,205.8 L126,205.8 L125,205.8 L124,205.8 L123,205.8 L122,205.8 L121,205.8 L120,205.8 L119,205.8 L118,205.8 L117,205.8 L116,205.8 L115,205.8 L114,205.8 L113,205.8 L112,205.8 L111,205.8 L110,205.7 L109,205.7 L108,205.7 L107,205.7 L106,205.7 L105,205.7 L104,205.7 L103,205.7 L102,205.7 L101,205.7 L100,205.7 L99,205.7 L98,205.7 L97,205.7 L96,205.7 L95,205.7 L94,205.7 L93,205.7 L92,205.7 L91,205.7 L90,205.7 L89,205.7 L88,205.7 L87,205.7 L86,205.7 L85,205.7 L84,205.6 L83,205.6 L82,205.6 L81,205.6 L80,205.6 L79,205.6 L78,205.6 L77,205.6 L76,205.6 L75,205.6 L74,205.6 L73,205.6 L72,205.6 L71,205.6 L70,205.6 L69,205.6 L68,205.6 L67,205.6 L66,205.6 L65,205.6 L64,205.6 L63,205.6 L62,205.6 L61,205.6 L60,205.6 L59,205.6 L58,205.5 L57,205.5 L56,205.5 L55,205.5 L54,205.5 L53,205.5 L52,205.5 L51,205.5 L50,205.5 L49,205.5 L48,205.5 L47,205.5 L46,205.5 L45,205.5Z" fill="url(#gBlue)" stroke="none"/>
<polyline points="45,205.3 46,205.2 47,205.2 48,205.2 49,205.2 50,205.2 51,205.2 52,205.2 53,205.2 54,205.2 55,205.2 56,205.2 57,205.2 58,205.2 59,205.2 60,205.2 61,205.2 62,205.1 63,205.1 64,205.1 65,205.1 66,205.1 67,205.1 68,205 69,205 70,205 71,205 72,204.9 73,204.9 74,204.8 75,204.7 76,204.7 77,204.6 78,204.5 79,204.3 80,204.2 81,204 82,203.8 83,203.5 84,203.2 85,202.9 86,202.5 87,202.1 88,201.5 89,201 90,200.3 91,199.6 92,198.8 93,197.9 94,196.9 95,195.8 96,194.7 97,193.4 98,192.1 99,190.7 100,189.2 101,187.7 102,186.1 103,184.5 104,182.8 105,181.2 106,179.5 107,177.9 108,176.4 109,174.9 110,173.6 111,172.3 112,171.3 113,170.4 114,169.6 115,169.1 116,168.8 117,168.8 118,168.9 119,169.3 120,169.9 121,170.7 122,171.7 123,172.9 124,174.2 125,175.6 126,177.1 127,178.6 128,180.3 129,181.9 130,183.6 131,185.2 132,186.9 133,188.4 134,190 135,191.4 136,192.8 137,194.1 138,195.3 139,196.4 140,197.5 141,198.4 142,199.3 143,200.1 144,200.8 145,201.4 146,202 147,202.5 148,202.9 149,203.3 150,203.6 151,203.9 152,204.1 153,204.3 154,204.5 155,204.7 156,204.8 157,204.9 158,205 159,205.1 160,205.2 161,205.2 162,205.3 163,205.3 164,205.4 165,205.4 166,205.4 167,205.5 168,205.5 169,205.5 170,205.5 171,205.6 172,205.6 173,205.6 174,205.6 175,205.6 176,205.6 177,205.7" fill="none" stroke="#4a9ad8" stroke-width="0.8" stroke-linejoin="round" />
<polyline points="45,205.5 177,206" fill="none" stroke="#4a90d0" stroke-width="0.9" stroke-linejoin="round" />
<g fill="#fff" fill-opacity="0.85" stroke="#7a7a7a" stroke-width="0.5"><circle cx="45" cy="203.5" r="1.45"/><circle cx="48.4" cy="202.9" r="1.45"/><circle cx="51.8" cy="203.2" r="1.45"/><circle cx="55.2" cy="202.1" r="1.45"/><circle cx="58.6" cy="201.4" r="1.45"/><circle cx="62" cy="201.6" r="1.45"/><circle cx="65.4" cy="202.3" r="1.45"/><circle cx="68.8" cy="201.6" r="1.45"/><circle cx="72.2" cy="201.1" r="1.45"/><circle cx="75.6" cy="199.5" r="1.45"/><circle cx="79" cy="200" r="1.45"/><circle cx="82.4" cy="199.1" r="1.45"/><circle cx="85.8" cy="198.2" r="1.45"/><circle cx="89.2" cy="196.8" r="1.45"/><circle cx="92.6" cy="195" r="1.45"/><circle cx="96" cy="193.6" r="1.45"/><circle cx="99.4" cy="189.2" r="1.45"/><circle cx="102.8" cy="184.2" r="1.45"/><circle cx="106.2" cy="179" r="1.45"/><circle cx="109.6" cy="172.6" r="1.45"/><circle cx="113" cy="169.3" r="1.45"/><circle cx="116.4" cy="168.7" r="1.45"/><circle cx="119.8" cy="170" r="1.45"/><circle cx="123.2" cy="173.7" r="1.45"/><circle cx="126.6" cy="178.7" r="1.45"/><circle cx="130" cy="182.4" r="1.45"/><circle cx="133.4" cy="189.2" r="1.45"/><circle cx="136.8" cy="194.1" r="1.45"/><circle cx="140.2" cy="197.6" r="1.45"/><circle cx="143.6" cy="199.6" r="1.45"/><circle cx="147" cy="202.3" r="1.45"/><circle cx="150.4" cy="202.6" r="1.45"/><circle cx="153.8" cy="205.4" r="1.45"/><circle cx="157.2" cy="205.7" r="1.45"/><circle cx="160.6" cy="205.2" r="1.45"/><circle cx="164" cy="204.8" r="1.45"/><circle cx="167.4" cy="206.4" r="1.45"/><circle cx="170.8" cy="205.7" r="1.45"/><circle cx="174.2" cy="206.5" r="1.45"/></g>
<polyline points="45,204.2 46,204.1 47,204 48,203.9 49,203.8 50,203.6 51,203.5 52,203.4 53,203.2 54,203.1 55,203 56,202.8 57,202.7 58,202.5 59,202.3 60,202.2 61,202 62,201.8 63,201.7 64,201.5 65,201.4 66,201.2 67,201.1 68,200.9 69,200.8 70,200.7 71,200.6 72,200.5 73,200.4 74,200.3 75,200.2 76,200.2 77,200.1 78,200 79,200 80,199.9 81,199.8 82,199.7 83,199.5 84,199.4 85,199.2 86,198.9 87,198.6 88,198.2 89,197.8 90,197.3 91,196.7 92,196.1 93,195.4 94,194.5 95,193.6 96,192.6 97,191.5 98,190.3 99,189 100,187.6 101,186.2 102,184.7 103,183.2 104,181.7 105,180.1 106,178.5 107,177 108,175.5 109,174.2 110,172.9 111,171.7 112,170.7 113,169.8 114,169.1 115,168.7 116,168.4 117,168.4 118,168.6 119,169 120,169.6 121,170.4 122,171.4 123,172.6 124,173.9 125,175.3 126,176.9 127,178.4 128,180.1 129,181.7 130,183.4 131,185.1 132,186.7 133,188.3 134,189.8 135,191.3 136,192.7 137,194 138,195.2 139,196.3 140,197.4 141,198.3 142,199.2 143,200 144,200.7 145,201.3 146,201.9 147,202.4 148,202.8 149,203.2 150,203.5 151,203.8 152,204 153,204.2 154,204.4 155,204.6 156,204.7 157,204.8 158,204.9 159,205 160,205.1 161,205.2 162,205.2 163,205.3 164,205.3 165,205.3 166,205.4 167,205.4 168,205.4 169,205.4 170,205.5 171,205.5 172,205.5 173,205.5 174,205.6 175,205.6 176,205.6 177,205.6" fill="none" stroke="#3b88d0" stroke-width="0.75" stroke-linejoin="round" />
<text x="33.3" y="23.3" font-size="13" fill="#111" text-anchor="start" >C 1s</text>
<text x="63" y="32.5" font-size="11.3" fill="#f050c8" text-anchor="start" >C-O</text>
<line x1="72.7" y1="34.1" x2="76.7" y2="41.3" stroke="#f050c8" stroke-width="0.9" />
<text x="138.2" y="22.5" font-size="11" fill="#19a7e0" text-anchor="start" >C-C</text>
<line x1="120" y1="24.1" x2="135.3" y2="19.3" stroke="#19a7e0" stroke-width="0.9" />
<text x="179.7" y="41.9" font-size="12.4" fill="#111" text-anchor="start" textLength="36.4" lengthAdjust="spacingAndGlyphs" >20 min</text>
<text x="131.4" y="81.8" font-size="12.3" fill="#111" text-anchor="start" textLength="113.7" lengthAdjust="spacingAndGlyphs" >Irradiation  for 10 min</text>
<text x="159" y="146.3" font-size="12" fill="#111" text-anchor="start" textLength="59" lengthAdjust="spacingAndGlyphs" >+ Methanol</text>
<text x="150" y="192.8" font-size="13" fill="#111" text-anchor="start" >Ni<tspan font-size="8.5" dy="3">0.66</tspan><tspan dy="-3">-W</tspan><tspan font-size="8.5" dy="3">18</tspan><tspan dy="-3">O</tspan><tspan font-size="8.5" dy="3">49</tspan></text>
<path d="M241,52.7 L242,52.7 L243,52.6 L244,52.6 L245,52.5 L246,52.3 L247,52 L248,51.7 L249,51.2 L250,50.6 L251,49.9 L252,49 L253,47.9 L254,46.6 L255,45.1 L256,43.5 L257,41.7 L258,39.8 L259,37.8 L260,35.9 L261,34.1 L262,32.4 L263,31 L264,29.8 L265,29.1 L266,28.8 L267,28.8 L268,29.3 L269,30.3 L270,31.5 L271,33.1 L272,34.9 L273,36.8 L274,38.8 L275,40.9 L276,42.8 L277,44.7 L278,46.4 L279,47.9 L280,49.2 L281,50.4 L282,51.4 L283,52.2 L284,52.8 L285,53.3 L286,53.7 L287,54 L288,54.3 L289,54.5 L290,54.6 L291,54.7 L292,54.8 L292,54.9 L291,54.9 L290,54.8 L289,54.8 L288,54.7 L287,54.7 L286,54.6 L285,54.6 L284,54.6 L283,54.5 L282,54.5 L281,54.4 L280,54.4 L279,54.4 L278,54.3 L277,54.3 L276,54.2 L275,54.2 L274,54.2 L273,54.1 L272,54.1 L271,54 L270,54 L269,53.9 L268,53.9 L267,53.9 L266,53.8 L265,53.8 L264,53.7 L263,53.7 L262,53.7 L261,53.6 L260,53.6 L259,53.5 L258,53.5 L257,53.4 L256,53.4 L255,53.4 L254,53.3 L253,53.3 L252,53.2 L251,53.2 L250,53.2 L249,53.1 L248,53.1 L247,53 L246,53 L245,53 L244,52.9 L243,52.9 L242,52.8 L241,52.8Z" fill="url(#gOr)" stroke="none"/>
<polyline points="241,52.7 242,52.7 243,52.6 244,52.6 245,52.5 246,52.3 247,52 248,51.7 249,51.2 250,50.6 251,49.9 252,49 253,47.9 254,46.6 255,45.1 256,43.5 257,41.7 258,39.8 259,37.8 260,35.9 261,34.1 262,32.4 263,31 264,29.8 265,29.1 266,28.8 267,28.8 268,29.3 269,30.3 270,31.5 271,33.1 272,34.9 273,36.8 274,38.8 275,40.9 276,42.8 277,44.7 278,46.4 279,47.9 280,49.2 281,50.4 282,51.4 283,52.2 284,52.8 285,53.3 286,53.7 287,54 288,54.3 289,54.5 290,54.6 291,54.7 292,54.8" fill="none" stroke="#f08a2a" stroke-width="0.8" stroke-linejoin="round" />
<path d="M279,54.3 L280,54.2 L281,54.2 L282,54.1 L283,54 L284,53.7 L285,53.4 L286,52.9 L287,52.3 L288,51.5 L289,50.4 L290,49.2 L291,47.6 L292,45.8 L293,43.8 L294,41.6 L295,39.2 L296,36.8 L297,34.4 L298,32.2 L299,30.2 L300,28.6 L301,27.5 L302,26.9 L303,26.9 L304,27.5 L305,28.6 L306,30.1 L307,32.1 L308,34.4 L309,36.8 L310,39.3 L311,41.8 L312,44.1 L313,46.3 L314,48.2 L315,49.9 L316,51.3 L317,52.5 L318,53.4 L319,54.2 L320,54.8 L321,55.2 L322,55.5 L323,55.8 L324,56 L325,56.1 L326,56.2 L326,56.3 L325,56.3 L324,56.2 L323,56.2 L322,56.1 L321,56.1 L320,56.1 L319,56 L318,56 L317,55.9 L316,55.9 L315,55.9 L314,55.8 L313,55.8 L312,55.7 L311,55.7 L310,55.6 L309,55.6 L308,55.6 L307,55.5 L306,55.5 L305,55.4 L304,55.4 L303,55.4 L302,55.3 L301,55.3 L300,55.2 L299,55.2 L298,55.1 L297,55.1 L296,55.1 L295,55 L294,55 L293,54.9 L292,54.9 L291,54.9 L290,54.8 L289,54.8 L288,54.7 L287,54.7 L286,54.6 L285,54.6 L284,54.6 L283,54.5 L282,54.5 L281,54.4 L280,54.4 L279,54.4Z" fill="url(#gOr)" stroke="none"/>
<polyline points="279,54.3 280,54.2 281,54.2 282,54.1 283,54 284,53.7 285,53.4 286,52.9 287,52.3 288,51.5 289,50.4 290,49.2 291,47.6 292,45.8 293,43.8 294,41.6 295,39.2 296,36.8 297,34.4 298,32.2 299,30.2 300,28.6 301,27.5 302,26.9 303,26.9 304,27.5 305,28.6 306,30.1 307,32.1 308,34.4 309,36.8 310,39.3 311,41.8 312,44.1 313,46.3 314,48.2 315,49.9 316,51.3 317,52.5 318,53.4 319,54.2 320,54.8 321,55.2 322,55.5 323,55.8 324,56 325,56.1 326,56.2" fill="none" stroke="#f08a2a" stroke-width="0.8" stroke-linejoin="round" />
<path d="M253,53.2 L254,53.2 L255,53.3 L256,53.3 L257,53.3 L258,53.3 L259,53.4 L260,53.4 L261,53.4 L262,53.3 L263,53.3 L264,53.2 L265,53.1 L266,53 L267,52.8 L268,52.5 L269,52.2 L270,51.9 L271,51.5 L272,51.2 L273,50.9 L274,50.6 L275,50.5 L276,50.4 L277,50.5 L278,50.8 L279,51.1 L280,51.5 L281,52 L282,52.4 L283,52.8 L284,53.2 L285,53.5 L286,53.8 L287,54 L288,54.2 L289,54.4 L290,54.5 L291,54.6 L292,54.7 L293,54.8 L294,54.8 L295,54.9 L296,55 L297,55 L298,55.1 L299,55.1 L299,55.2 L298,55.1 L297,55.1 L296,55.1 L295,55 L294,55 L293,54.9 L292,54.9 L291,54.9 L290,54.8 L289,54.8 L288,54.7 L287,54.7 L286,54.6 L285,54.6 L284,54.6 L283,54.5 L282,54.5 L281,54.4 L280,54.4 L279,54.4 L278,54.3 L277,54.3 L276,54.2 L275,54.2 L274,54.2 L273,54.1 L272,54.1 L271,54 L270,54 L269,53.9 L268,53.9 L267,53.9 L266,53.8 L265,53.8 L264,53.7 L263,53.7 L262,53.7 L261,53.6 L260,53.6 L259,53.5 L258,53.5 L257,53.4 L256,53.4 L255,53.4 L254,53.3 L253,53.3Z" fill="url(#gBl2)" fill-opacity="0.7" stroke="none"/>
<polyline points="253,53.2 254,53.2 255,53.3 256,53.3 257,53.3 258,53.3 259,53.4 260,53.4 261,53.4 262,53.3 263,53.3 264,53.2 265,53.1 266,53 267,52.8 268,52.5 269,52.2 270,51.9 271,51.5 272,51.2 273,50.9 274,50.6 275,50.5 276,50.4 277,50.5 278,50.8 279,51.1 280,51.5 281,52 282,52.4 283,52.8 284,53.2 285,53.5 286,53.8 287,54 288,54.2 289,54.4 290,54.5 291,54.6 292,54.7 293,54.8 294,54.8 295,54.9 296,55 297,55 298,55.1 299,55.1" fill="none" stroke="#2a68c0" stroke-width="0.7" stroke-linejoin="round" />
<path d="M291,54.8 L292,54.8 L293,54.8 L294,54.9 L295,54.9 L296,54.9 L297,55 L298,55 L299,55 L300,55 L301,54.9 L302,54.9 L303,54.8 L304,54.6 L305,54.4 L306,54.2 L307,53.8 L308,53.5 L309,53 L310,52.6 L311,52.2 L312,51.9 L313,51.7 L314,51.6 L315,51.7 L316,52 L317,52.5 L318,52.9 L319,53.5 L320,54 L321,54.4 L322,54.8 L323,55.2 L324,55.5 L325,55.7 L326,55.9 L327,56 L328,56.1 L329,56.2 L330,56.3 L331,56.4 L332,56.4 L333,56.5 L334,56.5 L335,56.6 L336,56.6 L337,56.7 L337,56.8 L336,56.7 L335,56.7 L334,56.6 L333,56.6 L332,56.6 L331,56.5 L330,56.5 L329,56.4 L328,56.4 L327,56.3 L326,56.3 L325,56.3 L324,56.2 L323,56.2 L322,56.1 L321,56.1 L320,56.1 L319,56 L318,56 L317,55.9 L316,55.9 L315,55.9 L314,55.8 L313,55.8 L312,55.7 L311,55.7 L310,55.6 L309,55.6 L308,55.6 L307,55.5 L306,55.5 L305,55.4 L304,55.4 L303,55.4 L302,55.3 L301,55.3 L300,55.2 L299,55.2 L298,55.1 L297,55.1 L296,55.1 L295,55 L294,55 L293,54.9 L292,54.9 L291,54.9Z" fill="url(#gBl2)" fill-opacity="0.7" stroke="none"/>
<polyline points="291,54.8 292,54.8 293,54.8 294,54.9 295,54.9 296,54.9 297,55 298,55 299,55 300,55 301,54.9 302,54.9 303,54.8 304,54.6 305,54.4 306,54.2 307,53.8 308,53.5 309,53 310,52.6 311,52.2 312,51.9 313,51.7 314,51.6 315,51.7 316,52 317,52.5 318,52.9 319,53.5 320,54 321,54.4 322,54.8 323,55.2 324,55.5 325,55.7 326,55.9 327,56 328,56.1 329,56.2 330,56.3 331,56.4 332,56.4 333,56.5 334,56.5 335,56.6 336,56.6 337,56.7" fill="none" stroke="#2a68c0" stroke-width="0.7" stroke-linejoin="round" />
<path d="M257,53.4 L258,53.4 L259,53.4 L260,53.5 L261,53.5 L262,53.5 L263,53.6 L264,53.6 L265,53.6 L266,53.7 L267,53.7 L268,53.7 L269,53.7 L270,53.8 L271,53.8 L272,53.8 L273,53.8 L274,53.7 L275,53.7 L276,53.6 L277,53.5 L278,53.4 L279,53.2 L280,53 L281,52.8 L282,52.5 L283,52.2 L284,51.9 L285,51.5 L286,51.2 L287,50.8 L288,50.5 L289,50.2 L290,50 L291,49.9 L292,49.9 L293,50 L294,50.2 L295,50.5 L296,50.8 L297,51.2 L298,51.7 L299,52.1 L300,52.5 L301,53 L302,53.3 L303,53.7 L304,54 L305,54.3 L306,54.5 L307,54.8 L308,54.9 L309,55.1 L310,55.2 L311,55.3 L312,55.4 L313,55.5 L314,55.6 L315,55.6 L316,55.7 L317,55.8 L318,55.8 L319,55.9 L320,55.9 L321,56 L322,56 L323,56.1 L324,56.1 L325,56.2 L326,56.2 L327,56.3 L327,56.3 L326,56.3 L325,56.3 L324,56.2 L323,56.2 L322,56.1 L321,56.1 L320,56.1 L319,56 L318,56 L317,55.9 L316,55.9 L315,55.9 L314,55.8 L313,55.8 L312,55.7 L311,55.7 L310,55.6 L309,55.6 L308,55.6 L307,55.5 L306,55.5 L305,55.4 L304,55.4 L303,55.4 L302,55.3 L301,55.3 L300,55.2 L299,55.2 L298,55.1 L297,55.1 L296,55.1 L295,55 L294,55 L293,54.9 L292,54.9 L291,54.9 L290,54.8 L289,54.8 L288,54.7 L287,54.7 L286,54.6 L285,54.6 L284,54.6 L283,54.5 L282,54.5 L281,54.4 L280,54.4 L279,54.4 L278,54.3 L277,54.3 L276,54.2 L275,54.2 L274,54.2 L273,54.1 L272,54.1 L271,54 L270,54 L269,53.9 L268,53.9 L267,53.9 L266,53.8 L265,53.8 L264,53.7 L263,53.7 L262,53.7 L261,53.6 L260,53.6 L259,53.5 L258,53.5 L257,53.4Z" fill="url(#gGr)" fill-opacity="0.7" stroke="none"/>
<polyline points="257,53.4 258,53.4 259,53.4 260,53.5 261,53.5 262,53.5 263,53.6 264,53.6 265,53.6 266,53.7 267,53.7 268,53.7 269,53.7 270,53.8 271,53.8 272,53.8 273,53.8 274,53.7 275,53.7 276,53.6 277,53.5 278,53.4 279,53.2 280,53 281,52.8 282,52.5 283,52.2 284,51.9 285,51.5 286,51.2 287,50.8 288,50.5 289,50.2 290,50 291,49.9 292,49.9 293,50 294,50.2 295,50.5 296,50.8 297,51.2 298,51.7 299,52.1 300,52.5 301,53 302,53.3 303,53.7 304,54 305,54.3 306,54.5 307,54.8 308,54.9 309,55.1 310,55.2 311,55.3 312,55.4 313,55.5 314,55.6 315,55.6 316,55.7 317,55.8 318,55.8 319,55.9 320,55.9 321,56 322,56 323,56.1 324,56.1 325,56.2 326,56.2 327,56.3" fill="none" stroke="#3a9a3a" stroke-width="0.7" stroke-linejoin="round" />
<path d="M288,54.7 L289,54.7 L290,54.7 L291,54.8 L292,54.8 L293,54.8 L294,54.9 L295,54.9 L296,54.9 L297,55 L298,55 L299,55 L300,55.1 L301,55.1 L302,55.1 L303,55.2 L304,55.2 L305,55.2 L306,55.2 L307,55.2 L308,55.2 L309,55.2 L310,55.2 L311,55.2 L312,55.1 L313,55 L314,54.9 L315,54.7 L316,54.4 L317,54.1 L318,53.8 L319,53.4 L320,52.9 L321,52.3 L322,51.8 L323,51.2 L324,50.6 L325,50 L326,49.6 L327,49.2 L328,49 L329,48.9 L330,49.1 L331,49.4 L332,49.8 L333,50.4 L334,51 L335,51.7 L336,52.4 L337,53 L338,53.6 L339,54.2 L340,54.7 L341,55.1 L342,55.5 L343,55.8 L344,56.1 L345,56.3 L346,56.5 L347,56.6 L348,56.8 L349,56.9 L350,57 L351,57.1 L352,57.1 L353,57.2 L354,57.3 L355,57.3 L356,57.4 L357,57.4 L358,57.5 L359,57.5 L360,57.6 L361,57.6 L362,57.7 L363,57.7 L364,57.8 L364,57.9 L363,57.8 L362,57.8 L361,57.8 L360,57.7 L359,57.7 L358,57.6 L357,57.6 L356,57.5 L355,57.5 L354,57.5 L353,57.4 L352,57.4 L351,57.3 L350,57.3 L349,57.3 L348,57.2 L347,57.2 L346,57.1 L345,57.1 L344,57.1 L343,57 L342,57 L341,56.9 L340,56.9 L339,56.8 L338,56.8 L337,56.8 L336,56.7 L335,56.7 L334,56.6 L333,56.6 L332,56.6 L331,56.5 L330,56.5 L329,56.4 L328,56.4 L327,56.3 L326,56.3 L325,56.3 L324,56.2 L323,56.2 L322,56.1 L321,56.1 L320,56.1 L319,56 L318,56 L317,55.9 L316,55.9 L315,55.9 L314,55.8 L313,55.8 L312,55.7 L311,55.7 L310,55.6 L309,55.6 L308,55.6 L307,55.5 L306,55.5 L305,55.4 L304,55.4 L303,55.4 L302,55.3 L301,55.3 L300,55.2 L299,55.2 L298,55.1 L297,55.1 L296,55.1 L295,55 L294,55 L293,54.9 L292,54.9 L291,54.9 L290,54.8 L289,54.8 L288,54.7Z" fill="url(#gGr)" fill-opacity="0.7" stroke="none"/>
<polyline points="288,54.7 289,54.7 290,54.7 291,54.8 292,54.8 293,54.8 294,54.9 295,54.9 296,54.9 297,55 298,55 299,55 300,55.1 301,55.1 302,55.1 303,55.2 304,55.2 305,55.2 306,55.2 307,55.2 308,55.2 309,55.2 310,55.2 311,55.2 312,55.1 313,55 314,54.9 315,54.7 316,54.4 317,54.1 318,53.8 319,53.4 320,52.9 321,52.3 322,51.8 323,51.2 324,50.6 325,50 326,49.6 327,49.2 328,49 329,48.9 330,49.1 331,49.4 332,49.8 333,50.4 334,51 335,51.7 336,52.4 337,53 338,53.6 339,54.2 340,54.7 341,55.1 342,55.5 343,55.8 344,56.1 345,56.3 346,56.5 347,56.6 348,56.8 349,56.9 350,57 351,57.1 352,57.1 353,57.2 354,57.3 355,57.3 356,57.4 357,57.4 358,57.5 359,57.5 360,57.6 361,57.6 362,57.7 363,57.7 364,57.8" fill="none" stroke="#3a9a3a" stroke-width="0.7" stroke-linejoin="round" />
<polyline points="222,52 364.5,57.9" fill="none" stroke="#3a9a3a" stroke-width="0.9" stroke-linejoin="round" />
<g fill="#fff" fill-opacity="0.85" stroke="#7a7a7a" stroke-width="0.5"><circle cx="222" cy="51.4" r="1.3"/><circle cx="224.2" cy="51.4" r="1.3"/><circle cx="226.4" cy="51.6" r="1.3"/><circle cx="228.6" cy="51.1" r="1.3"/><circle cx="230.8" cy="50.8" r="1.3"/><circle cx="233" cy="50.4" r="1.3"/><circle cx="235.2" cy="49.4" r="1.3"/><circle cx="237.4" cy="48.8" r="1.3"/><circle cx="239.6" cy="47.8" r="1.3"/><circle cx="241.8" cy="46.5" r="1.3"/><circle cx="244" cy="44.2" r="1.3"/><circle cx="246.2" cy="42.3" r="1.3"/><circle cx="248.4" cy="39.9" r="1.3"/><circle cx="250.6" cy="38" r="1.3"/><circle cx="252.8" cy="35.4" r="1.3"/><circle cx="255" cy="32.5" r="1.3"/><circle cx="257.2" cy="31" r="1.3"/><circle cx="259.4" cy="29.1" r="1.3"/><circle cx="261.6" cy="27.5" r="1.3"/><circle cx="263.8" cy="26.6" r="1.3"/><circle cx="266" cy="26" r="1.3"/><circle cx="268.2" cy="26.3" r="1.3"/><circle cx="270.4" cy="27.6" r="1.3"/><circle cx="272.6" cy="28.5" r="1.3"/><circle cx="274.8" cy="30.2" r="1.3"/><circle cx="277" cy="31.8" r="1.3"/><circle cx="279.2" cy="32.9" r="1.3"/><circle cx="281.4" cy="34.1" r="1.3"/><circle cx="283.6" cy="34.2" r="1.3"/><circle cx="285.8" cy="33.9" r="1.3"/><circle cx="288" cy="32.2" r="1.3"/><circle cx="290.2" cy="30.2" r="1.3"/><circle cx="292.4" cy="27.6" r="1.3"/><circle cx="294.6" cy="25" r="1.3"/><circle cx="296.8" cy="22.5" r="1.3"/><circle cx="299" cy="20.6" r="1.3"/><circle cx="301.2" cy="20.3" r="1.3"/><circle cx="303.4" cy="20.5" r="1.3"/><circle cx="305.6" cy="21.8" r="1.3"/><circle cx="307.8" cy="24" r="1.3"/><circle cx="310" cy="26.6" r="1.3"/><circle cx="312.2" cy="29.9" r="1.3"/><circle cx="314.4" cy="33.1" r="1.3"/><circle cx="316.6" cy="35.8" r="1.3"/><circle cx="318.8" cy="38.6" r="1.3"/><circle cx="321" cy="40" r="1.3"/><circle cx="323.2" cy="41.6" r="1.3"/><circle cx="325.4" cy="42.1" r="1.3"/><circle cx="327.6" cy="43.4" r="1.3"/><circle cx="329.8" cy="44.1" r="1.3"/><circle cx="332" cy="44.6" r="1.3"/><circle cx="334.2" cy="46.1" r="1.3"/><circle cx="336.4" cy="48.2" r="1.3"/><circle cx="338.6" cy="49.5" r="1.3"/><circle cx="340.8" cy="51.6" r="1.3"/><circle cx="343" cy="52.6" r="1.3"/><circle cx="345.2" cy="53.6" r="1.3"/><circle cx="347.4" cy="55" r="1.3"/><circle cx="349.6" cy="55.9" r="1.3"/><circle cx="351.8" cy="56.1" r="1.3"/><circle cx="354" cy="56.3" r="1.3"/><circle cx="356.2" cy="56.8" r="1.3"/><circle cx="358.4" cy="57.5" r="1.3"/><circle cx="360.6" cy="57.5" r="1.3"/><circle cx="362.8" cy="57.1" r="1.3"/></g>
<polyline points="222,51.8 223,51.8 224,51.8 225,51.7 226,51.7 227,51.6 228,51.6 229,51.5 230,51.3 231,51.2 232,51 233,50.7 234,50.5 235,50.2 236,49.8 237,49.4 238,48.9 239,48.4 240,47.8 241,47.2 242,46.5 243,45.7 244,44.9 245,44 246,43.1 247,42.1 248,41 249,40 250,38.9 251,37.7 252,36.6 253,35.5 254,34.3 255,33.3 256,32.2 257,31.2 258,30.3 259,29.5 260,28.7 261,28.1 262,27.5 263,27.1 264,26.9 265,26.7 266,26.7 267,26.8 268,27 269,27.3 270,27.8 271,28.3 272,28.9 273,29.6 274,30.3 275,31 276,31.7 277,32.4 278,33 279,33.6 280,34.1 281,34.4 282,34.6 283,34.7 284,34.6 285,34.4 286,33.9 287,33.4 288,32.6 289,31.7 290,30.7 291,29.6 292,28.5 293,27.2 294,26 295,24.8 296,23.7 297,22.7 298,21.8 299,21.1 300,20.6 301,20.3 302,20.2 303,20.4 304,20.8 305,21.4 306,22.3 307,23.3 308,24.5 309,25.8 310,27.2 311,28.7 312,30.2 313,31.7 314,33.1 315,34.5 316,35.8 317,37 318,38.1 319,39 320,39.8 321,40.5 322,41.1 323,41.6 324,42.1 325,42.5 326,42.8 327,43.2 328,43.5 329,43.9 330,44.4 331,44.8 332,45.4 333,46 334,46.6 335,47.3 336,48 337,48.7 338,49.5 339,50.2 340,51 341,51.7 342,52.4 343,53.1 344,53.7 345,54.2 346,54.7 347,55.2 348,55.6 349,55.9 350,56.2 351,56.5 352,56.7 353,56.9 354,57.1 355,57.2 356,57.3 357,57.4 358,57.5 359,57.6 360,57.6 361,57.7 362,57.8 363,57.8 364,57.9" fill="none" stroke="#b04848" stroke-width="0.75" stroke-linejoin="round" />
<path d="M240,102.8 L241,102.8 L242,102.7 L243,102.7 L244,102.6 L245,102.4 L246,102.2 L247,101.9 L248,101.5 L249,101 L250,100.3 L251,99.4 L252,98.4 L253,97.1 L254,95.6 L255,94 L256,92.2 L257,90.2 L258,88.2 L259,86.1 L260,84.1 L261,82.2 L262,80.5 L263,79.1 L264,78 L265,77.4 L266,77.2 L267,77.5 L268,78.2 L269,79.3 L270,80.8 L271,82.6 L272,84.6 L273,86.7 L274,88.8 L275,91 L276,93 L277,94.9 L278,96.6 L279,98.2 L280,99.5 L281,100.7 L282,101.6 L283,102.4 L284,103 L285,103.5 L286,103.9 L287,104.2 L288,104.4 L289,104.6 L290,104.7 L291,104.8 L292,104.9 L292,105 L291,105 L290,104.9 L289,104.9 L288,104.8 L287,104.8 L286,104.8 L285,104.7 L284,104.7 L283,104.6 L282,104.6 L281,104.6 L280,104.5 L279,104.5 L278,104.4 L277,104.4 L276,104.3 L275,104.3 L274,104.3 L273,104.2 L272,104.2 L271,104.1 L270,104.1 L269,104.1 L268,104 L267,104 L266,103.9 L265,103.9 L264,103.8 L263,103.8 L262,103.8 L261,103.7 L260,103.7 L259,103.6 L258,103.6 L257,103.6 L256,103.5 L255,103.5 L254,103.4 L253,103.4 L252,103.4 L251,103.3 L250,103.3 L249,103.2 L248,103.2 L247,103.1 L246,103.1 L245,103.1 L244,103 L243,103 L242,102.9 L241,102.9 L240,102.9Z" fill="url(#gOr)" stroke="none"/>
<polyline points="240,102.8 241,102.8 242,102.7 243,102.7 244,102.6 245,102.4 246,102.2 247,101.9 248,101.5 249,101 250,100.3 251,99.4 252,98.4 253,97.1 254,95.6 255,94 256,92.2 257,90.2 258,88.2 259,86.1 260,84.1 261,82.2 262,80.5 263,79.1 264,78 265,77.4 266,77.2 267,77.5 268,78.2 269,79.3 270,80.8 271,82.6 272,84.6 273,86.7 274,88.8 275,91 276,93 277,94.9 278,96.6 279,98.2 280,99.5 281,100.7 282,101.6 283,102.4 284,103 285,103.5 286,103.9 287,104.2 288,104.4 289,104.6 290,104.7 291,104.8 292,104.9" fill="none" stroke="#f08a2a" stroke-width="0.8" stroke-linejoin="round" />
<path d="M279,104.4 L280,104.3 L281,104.3 L282,104.2 L283,104 L284,103.7 L285,103.4 L286,102.8 L287,102.1 L288,101.2 L289,100.1 L290,98.6 L291,96.9 L292,94.9 L293,92.6 L294,90.2 L295,87.5 L296,84.8 L297,82.2 L298,79.7 L299,77.5 L300,75.7 L301,74.5 L302,73.8 L303,73.8 L304,74.4 L305,75.7 L306,77.4 L307,79.6 L308,82.1 L309,84.8 L310,87.6 L311,90.3 L312,92.9 L313,95.3 L314,97.5 L315,99.3 L316,100.9 L317,102.2 L318,103.3 L319,104.1 L320,104.7 L321,105.2 L322,105.6 L323,105.8 L324,106 L325,106.2 L326,106.3 L326,106.4 L325,106.4 L324,106.3 L323,106.3 L322,106.3 L321,106.2 L320,106.2 L319,106.1 L318,106.1 L317,106 L316,106 L315,106 L314,105.9 L313,105.9 L312,105.8 L311,105.8 L310,105.8 L309,105.7 L308,105.7 L307,105.6 L306,105.6 L305,105.5 L304,105.5 L303,105.5 L302,105.4 L301,105.4 L300,105.3 L299,105.3 L298,105.3 L297,105.2 L296,105.2 L295,105.1 L294,105.1 L293,105 L292,105 L291,105 L290,104.9 L289,104.9 L288,104.8 L287,104.8 L286,104.8 L285,104.7 L284,104.7 L283,104.6 L282,104.6 L281,104.6 L280,104.5 L279,104.5Z" fill="url(#gOr)" stroke="none"/>
<polyline points="279,104.4 280,104.3 281,104.3 282,104.2 283,104 284,103.7 285,103.4 286,102.8 287,102.1 288,101.2 289,100.1 290,98.6 291,96.9 292,94.9 293,92.6 294,90.2 295,87.5 296,84.8 297,82.2 298,79.7 299,77.5 300,75.7 301,74.5 302,73.8 303,73.8 304,74.4 305,75.7 306,77.4 307,79.6 308,82.1 309,84.8 310,87.6 311,90.3 312,92.9 313,95.3 314,97.5 315,99.3 316,100.9 317,102.2 318,103.3 319,104.1 320,104.7 321,105.2 322,105.6 323,105.8 324,106 325,106.2 326,106.3" fill="none" stroke="#f08a2a" stroke-width="0.8" stroke-linejoin="round" />
<path d="M253,103.3 L254,103.3 L255,103.4 L256,103.4 L257,103.4 L258,103.5 L259,103.5 L260,103.5 L261,103.5 L262,103.5 L263,103.4 L264,103.3 L265,103.2 L266,103.1 L267,102.9 L268,102.6 L269,102.3 L270,102 L271,101.7 L272,101.3 L273,101 L274,100.7 L275,100.6 L276,100.5 L277,100.7 L278,100.9 L279,101.2 L280,101.6 L281,102.1 L282,102.5 L283,102.9 L284,103.3 L285,103.6 L286,103.9 L287,104.1 L288,104.3 L289,104.5 L290,104.6 L291,104.7 L292,104.8 L293,104.9 L294,104.9 L295,105 L296,105.1 L297,105.1 L298,105.2 L299,105.2 L299,105.3 L298,105.3 L297,105.2 L296,105.2 L295,105.1 L294,105.1 L293,105 L292,105 L291,105 L290,104.9 L289,104.9 L288,104.8 L287,104.8 L286,104.8 L285,104.7 L284,104.7 L283,104.6 L282,104.6 L281,104.6 L280,104.5 L279,104.5 L278,104.4 L277,104.4 L276,104.3 L275,104.3 L274,104.3 L273,104.2 L272,104.2 L271,104.1 L270,104.1 L269,104.1 L268,104 L267,104 L266,103.9 L265,103.9 L264,103.8 L263,103.8 L262,103.8 L261,103.7 L260,103.7 L259,103.6 L258,103.6 L257,103.6 L256,103.5 L255,103.5 L254,103.4 L253,103.4Z" fill="url(#gBl2)" fill-opacity="0.7" stroke="none"/>
<polyline points="253,103.3 254,103.3 255,103.4 256,103.4 257,103.4 258,103.5 259,103.5 260,103.5 261,103.5 262,103.5 263,103.4 264,103.3 265,103.2 266,103.1 267,102.9 268,102.6 269,102.3 270,102 271,101.7 272,101.3 273,101 274,100.7 275,100.6 276,100.5 277,100.7 278,100.9 279,101.2 280,101.6 281,102.1 282,102.5 283,102.9 284,103.3 285,103.6 286,103.9 287,104.1 288,104.3 289,104.5 290,104.6 291,104.7 292,104.8 293,104.9 294,104.9 295,105 296,105.1 297,105.1 298,105.2 299,105.2" fill="none" stroke="#2a68c0" stroke-width="0.7" stroke-linejoin="round" />
<path d="M291,104.9 L292,104.9 L293,105 L294,105 L295,105 L296,105 L297,105.1 L298,105.1 L299,105.1 L300,105.1 L301,105 L302,105 L303,104.9 L304,104.7 L305,104.5 L306,104.3 L307,104 L308,103.6 L309,103.2 L310,102.7 L311,102.3 L312,102 L313,101.8 L314,101.7 L315,101.9 L316,102.1 L317,102.6 L318,103.1 L319,103.6 L320,104.1 L321,104.5 L322,104.9 L323,105.3 L324,105.6 L325,105.8 L326,106 L327,106.1 L328,106.2 L329,106.3 L330,106.4 L331,106.5 L332,106.5 L333,106.6 L334,106.6 L335,106.7 L336,106.7 L337,106.8 L337,106.9 L336,106.8 L335,106.8 L334,106.7 L333,106.7 L332,106.7 L331,106.6 L330,106.6 L329,106.5 L328,106.5 L327,106.5 L326,106.4 L325,106.4 L324,106.3 L323,106.3 L322,106.3 L321,106.2 L320,106.2 L319,106.1 L318,106.1 L317,106 L316,106 L315,106 L314,105.9 L313,105.9 L312,105.8 L311,105.8 L310,105.8 L309,105.7 L308,105.7 L307,105.6 L306,105.6 L305,105.5 L304,105.5 L303,105.5 L302,105.4 L301,105.4 L300,105.3 L299,105.3 L298,105.3 L297,105.2 L296,105.2 L295,105.1 L294,105.1 L293,105 L292,105 L291,105Z" fill="url(#gBl2)" fill-opacity="0.7" stroke="none"/>
<polyline points="291,104.9 292,104.9 293,105 294,105 295,105 296,105 297,105.1 298,105.1 299,105.1 300,105.1 301,105 302,105 303,104.9 304,104.7 305,104.5 306,104.3 307,104 308,103.6 309,103.2 310,102.7 311,102.3 312,102 313,101.8 314,101.7 315,101.9 316,102.1 317,102.6 318,103.1 319,103.6 320,104.1 321,104.5 322,104.9 323,105.3 324,105.6 325,105.8 326,106 327,106.1 328,106.2 329,106.3 330,106.4 331,106.5 332,106.5 333,106.6 334,106.6 335,106.7 336,106.7 337,106.8" fill="none" stroke="#2a68c0" stroke-width="0.7" stroke-linejoin="round" />
<path d="M257,103.5 L258,103.5 L259,103.5 L260,103.6 L261,103.6 L262,103.7 L263,103.7 L264,103.7 L265,103.8 L266,103.8 L267,103.8 L268,103.8 L269,103.9 L270,103.9 L271,103.9 L272,103.9 L273,103.9 L274,103.8 L275,103.8 L276,103.7 L277,103.6 L278,103.5 L279,103.3 L280,103.1 L281,102.9 L282,102.6 L283,102.3 L284,102 L285,101.6 L286,101.3 L287,100.9 L288,100.6 L289,100.3 L290,100.1 L291,100 L292,100 L293,100.1 L294,100.3 L295,100.6 L296,100.9 L297,101.3 L298,101.8 L299,102.2 L300,102.7 L301,103.1 L302,103.5 L303,103.8 L304,104.1 L305,104.4 L306,104.7 L307,104.9 L308,105 L309,105.2 L310,105.3 L311,105.4 L312,105.5 L313,105.6 L314,105.7 L315,105.8 L316,105.8 L317,105.9 L318,105.9 L319,106 L320,106 L321,106.1 L322,106.1 L323,106.2 L324,106.2 L325,106.3 L326,106.3 L327,106.4 L327,106.5 L326,106.4 L325,106.4 L324,106.3 L323,106.3 L322,106.3 L321,106.2 L320,106.2 L319,106.1 L318,106.1 L317,106 L316,106 L315,106 L314,105.9 L313,105.9 L312,105.8 L311,105.8 L310,105.8 L309,105.7 L308,105.7 L307,105.6 L306,105.6 L305,105.5 L304,105.5 L303,105.5 L302,105.4 L301,105.4 L300,105.3 L299,105.3 L298,105.3 L297,105.2 L296,105.2 L295,105.1 L294,105.1 L293,105 L292,105 L291,105 L290,104.9 L289,104.9 L288,104.8 L287,104.8 L286,104.8 L285,104.7 L284,104.7 L283,104.6 L282,104.6 L281,104.6 L280,104.5 L279,104.5 L278,104.4 L277,104.4 L276,104.3 L275,104.3 L274,104.3 L273,104.2 L272,104.2 L271,104.1 L270,104.1 L269,104.1 L268,104 L267,104 L266,103.9 L265,103.9 L264,103.8 L263,103.8 L262,103.8 L261,103.7 L260,103.7 L259,103.6 L258,103.6 L257,103.6Z" fill="url(#gGr)" fill-opacity="0.7" stroke="none"/>
<polyline points="257,103.5 258,103.5 259,103.5 260,103.6 261,103.6 262,103.7 263,103.7 264,103.7 265,103.8 266,103.8 267,103.8 268,103.8 269,103.9 270,103.9 271,103.9 272,103.9 273,103.9 274,103.8 275,103.8 276,103.7 277,103.6 278,103.5 279,103.3 280,103.1 281,102.9 282,102.6 283,102.3 284,102 285,101.6 286,101.3 287,100.9 288,100.6 289,100.3 290,100.1 291,100 292,100 293,100.1 294,100.3 295,100.6 296,100.9 297,101.3 298,101.8 299,102.2 300,102.7 301,103.1 302,103.5 303,103.8 304,104.1 305,104.4 306,104.7 307,104.9 308,105 309,105.2 310,105.3 311,105.4 312,105.5 313,105.6 314,105.7 315,105.8 316,105.8 317,105.9 318,105.9 319,106 320,106 321,106.1 322,106.1 323,106.2 324,106.2 325,106.3 326,106.3 327,106.4" fill="none" stroke="#3a9a3a" stroke-width="0.7" stroke-linejoin="round" />
<path d="M288,104.8 L289,104.8 L290,104.8 L291,104.9 L292,104.9 L293,104.9 L294,105 L295,105 L296,105 L297,105.1 L298,105.1 L299,105.1 L300,105.2 L301,105.2 L302,105.2 L303,105.3 L304,105.3 L305,105.3 L306,105.3 L307,105.3 L308,105.3 L309,105.3 L310,105.3 L311,105.3 L312,105.2 L313,105.1 L314,105 L315,104.8 L316,104.5 L317,104.2 L318,103.9 L319,103.5 L320,103 L321,102.5 L322,101.9 L323,101.3 L324,100.7 L325,100.2 L326,99.7 L327,99.3 L328,99.1 L329,99 L330,99.2 L331,99.5 L332,99.9 L333,100.5 L334,101.1 L335,101.8 L336,102.5 L337,103.1 L338,103.7 L339,104.3 L340,104.8 L341,105.2 L342,105.6 L343,105.9 L344,106.2 L345,106.4 L346,106.6 L347,106.8 L348,106.9 L349,107 L350,107.1 L351,107.2 L352,107.2 L353,107.3 L354,107.4 L355,107.4 L356,107.5 L357,107.5 L358,107.6 L359,107.6 L360,107.7 L361,107.7 L362,107.8 L363,107.8 L364,107.9 L365,107.9 L366,108 L367,108 L368,108.1 L369,108.1 L370,108.2 L370,108.2 L369,108.2 L368,108.2 L367,108.1 L366,108.1 L365,108 L364,108 L363,107.9 L362,107.9 L361,107.9 L360,107.8 L359,107.8 L358,107.7 L357,107.7 L356,107.7 L355,107.6 L354,107.6 L353,107.5 L352,107.5 L351,107.5 L350,107.4 L349,107.4 L348,107.3 L347,107.3 L346,107.2 L345,107.2 L344,107.2 L343,107.1 L342,107.1 L341,107 L340,107 L339,107 L338,106.9 L337,106.9 L336,106.8 L335,106.8 L334,106.7 L333,106.7 L332,106.7 L331,106.6 L330,106.6 L329,106.5 L328,106.5 L327,106.5 L326,106.4 L325,106.4 L324,106.3 L323,106.3 L322,106.3 L321,106.2 L320,106.2 L319,106.1 L318,106.1 L317,106 L316,106 L315,106 L314,105.9 L313,105.9 L312,105.8 L311,105.8 L310,105.8 L309,105.7 L308,105.7 L307,105.6 L306,105.6 L305,105.5 L304,105.5 L303,105.5 L302,105.4 L301,105.4 L300,105.3 L299,105.3 L298,105.3 L297,105.2 L296,105.2 L295,105.1 L294,105.1 L293,105 L292,105 L291,105 L290,104.9 L289,104.9 L288,104.8Z" fill="url(#gGr)" fill-opacity="0.7" stroke="none"/>
<polyline points="288,104.8 289,104.8 290,104.8 291,104.9 292,104.9 293,104.9 294,105 295,105 296,105 297,105.1 298,105.1 299,105.1 300,105.2 301,105.2 302,105.2 303,105.3 304,105.3 305,105.3 306,105.3 307,105.3 308,105.3 309,105.3 310,105.3 311,105.3 312,105.2 313,105.1 314,105 315,104.8 316,104.5 317,104.2 318,103.9 319,103.5 320,103 321,102.5 322,101.9 323,101.3 324,100.7 325,100.2 326,99.7 327,99.3 328,99.1 329,99 330,99.2 331,99.5 332,99.9 333,100.5 334,101.1 335,101.8 336,102.5 337,103.1 338,103.7 339,104.3 340,104.8 341,105.2 342,105.6 343,105.9 344,106.2 345,106.4 346,106.6 347,106.8 348,106.9 349,107 350,107.1 351,107.2 352,107.2 353,107.3 354,107.4 355,107.4 356,107.5 357,107.5 358,107.6 359,107.6 360,107.7 361,107.7 362,107.8 363,107.8 364,107.9 365,107.9 366,108 367,108 368,108.1 369,108.1 370,108.2" fill="none" stroke="#3a9a3a" stroke-width="0.7" stroke-linejoin="round" />
<polyline points="229,102.4 371.5,108.3" fill="none" stroke="#3a9a3a" stroke-width="0.9" stroke-linejoin="round" />
<g fill="#fff" fill-opacity="0.85" stroke="#7a7a7a" stroke-width="0.5"><circle cx="229" cy="101.2" r="1.3"/><circle cx="231.2" cy="101" r="1.3"/><circle cx="233.4" cy="100.6" r="1.3"/><circle cx="235.6" cy="99.5" r="1.3"/><circle cx="237.8" cy="98.4" r="1.3"/><circle cx="240" cy="97.5" r="1.3"/><circle cx="242.2" cy="95.8" r="1.3"/><circle cx="244.4" cy="94.3" r="1.3"/><circle cx="246.6" cy="92" r="1.3"/><circle cx="248.8" cy="89.5" r="1.3"/><circle cx="251" cy="86.8" r="1.3"/><circle cx="253.2" cy="84.2" r="1.3"/><circle cx="255.4" cy="81.2" r="1.3"/><circle cx="257.6" cy="79.1" r="1.3"/><circle cx="259.8" cy="76.9" r="1.3"/><circle cx="262" cy="76.1" r="1.3"/><circle cx="264.2" cy="74.6" r="1.3"/><circle cx="266.4" cy="75.2" r="1.3"/><circle cx="268.6" cy="75.2" r="1.3"/><circle cx="270.8" cy="76.9" r="1.3"/><circle cx="273" cy="78.2" r="1.3"/><circle cx="275.2" cy="80" r="1.3"/><circle cx="277.4" cy="82.1" r="1.3"/><circle cx="279.6" cy="82.9" r="1.3"/><circle cx="281.8" cy="83.7" r="1.3"/><circle cx="284" cy="84.5" r="1.3"/><circle cx="286.2" cy="83.3" r="1.3"/><circle cx="288.4" cy="81.4" r="1.3"/><circle cx="290.6" cy="79.7" r="1.3"/><circle cx="292.8" cy="76.9" r="1.3"/><circle cx="295" cy="73.3" r="1.3"/><circle cx="297.2" cy="71.1" r="1.3"/><circle cx="299.4" cy="69" r="1.3"/><circle cx="301.6" cy="68.4" r="1.3"/><circle cx="303.8" cy="69" r="1.3"/><circle cx="306" cy="70.2" r="1.3"/><circle cx="308.2" cy="73.2" r="1.3"/><circle cx="310.4" cy="75.8" r="1.3"/><circle cx="312.6" cy="79.3" r="1.3"/><circle cx="314.8" cy="83" r="1.3"/><circle cx="317" cy="85.6" r="1.3"/><circle cx="319.2" cy="87.9" r="1.3"/><circle cx="321.4" cy="89.7" r="1.3"/><circle cx="323.6" cy="90.8" r="1.3"/><circle cx="325.8" cy="91.7" r="1.3"/><circle cx="328" cy="92.4" r="1.3"/><circle cx="330.2" cy="94" r="1.3"/><circle cx="332.4" cy="95.4" r="1.3"/><circle cx="334.6" cy="96.9" r="1.3"/><circle cx="336.8" cy="98.3" r="1.3"/><circle cx="339" cy="99.8" r="1.3"/><circle cx="341.2" cy="101.4" r="1.3"/><circle cx="343.4" cy="103.1" r="1.3"/><circle cx="345.6" cy="104.4" r="1.3"/><circle cx="347.8" cy="104.9" r="1.3"/><circle cx="350" cy="105.7" r="1.3"/><circle cx="352.2" cy="106.3" r="1.3"/><circle cx="354.4" cy="106.8" r="1.3"/><circle cx="356.6" cy="107.3" r="1.3"/><circle cx="358.8" cy="107.3" r="1.3"/><circle cx="361" cy="107" r="1.3"/><circle cx="363.2" cy="107.8" r="1.3"/><circle cx="365.4" cy="107.6" r="1.3"/><circle cx="367.6" cy="107.7" r="1.3"/><circle cx="369.8" cy="107.6" r="1.3"/></g>
<polyline points="229,101.6 230,101.5 231,101.3 232,101.2 233,100.9 234,100.7 235,100.4 236,100 237,99.6 238,99.1 239,98.6 240,98 241,97.3 242,96.5 243,95.7 244,94.9 245,93.9 246,92.9 247,91.9 248,90.7 249,89.6 250,88.4 251,87.2 252,86 253,84.7 254,83.5 255,82.3 256,81.2 257,80.1 258,79.1 259,78.2 260,77.4 261,76.7 262,76.2 263,75.7 264,75.4 265,75.3 266,75.3 267,75.4 268,75.7 269,76.1 270,76.6 271,77.3 272,78 273,78.7 274,79.5 275,80.4 276,81.2 277,81.9 278,82.7 279,83.3 280,83.8 281,84.3 282,84.5 283,84.6 284,84.5 285,84.3 286,83.8 287,83.2 288,82.4 289,81.5 290,80.4 291,79.2 292,78 293,76.7 294,75.3 295,74 296,72.8 297,71.7 298,70.8 299,70 300,69.4 301,69 302,68.9 303,69.1 304,69.4 305,70.1 306,70.9 307,71.9 308,73.2 309,74.5 310,75.9 311,77.5 312,79 313,80.5 314,82 315,83.5 316,84.8 317,86 318,87.2 319,88.1 320,89 321,89.7 322,90.4 323,91 324,91.4 325,91.9 326,92.3 327,92.7 328,93.1 329,93.6 330,94.1 331,94.6 332,95.2 333,95.8 334,96.5 335,97.2 336,98 337,98.7 338,99.5 339,100.3 340,101.1 341,101.8 342,102.5 343,103.1 344,103.7 345,104.3 346,104.8 347,105.3 348,105.7 349,106 350,106.3 351,106.6 352,106.8 353,107 354,107.2 355,107.3 356,107.4 357,107.5 358,107.6 359,107.7 360,107.8 361,107.8 362,107.9 363,107.9 364,108 365,108 366,108.1 367,108.1 368,108.2 369,108.2 370,108.2 371,108.3" fill="none" stroke="#b04848" stroke-width="0.75" stroke-linejoin="round" />
<path d="M233.5,153.1 L234.5,153.1 L235.5,153.1 L236.5,153.1 L237.5,153.1 L238.5,153 L239.5,152.9 L240.5,152.8 L241.5,152.6 L242.5,152.4 L243.5,152.1 L244.5,151.8 L245.5,151.4 L246.5,150.9 L247.5,150.3 L248.5,149.6 L249.5,148.9 L250.5,148 L251.5,147 L252.5,145.9 L253.5,144.7 L254.5,143.4 L255.5,142 L256.5,140.5 L257.5,139 L258.5,137.5 L259.5,135.9 L260.5,134.4 L261.5,132.9 L262.5,131.6 L263.5,130.3 L264.5,129.2 L265.5,128.3 L266.5,127.6 L267.5,127.1 L268.5,126.8 L269.5,126.8 L270.5,127.1 L271.5,127.5 L272.5,128.2 L273.5,129.1 L274.5,130.2 L275.5,131.5 L276.5,132.9 L277.5,134.4 L278.5,136 L279.5,137.6 L280.5,139.2 L281.5,140.8 L282.5,142.3 L283.5,143.8 L284.5,145.2 L285.5,146.6 L286.5,147.8 L287.5,148.9 L288.5,149.9 L289.5,150.8 L290.5,151.6 L291.5,152.3 L292.5,152.8 L293.5,153.4 L294.5,153.8 L295.5,154.2 L296.5,154.5 L297.5,154.7 L298.5,154.9 L299.5,155.1 L300.5,155.3 L301.5,155.4 L302.5,155.5 L303.5,155.6 L304.5,155.7 L305.5,155.7 L305.5,155.8 L304.5,155.8 L303.5,155.7 L302.5,155.7 L301.5,155.7 L300.5,155.6 L299.5,155.6 L298.5,155.6 L297.5,155.5 L296.5,155.5 L295.5,155.4 L294.5,155.4 L293.5,155.4 L292.5,155.3 L291.5,155.3 L290.5,155.3 L289.5,155.2 L288.5,155.2 L287.5,155.2 L286.5,155.1 L285.5,155.1 L284.5,155.1 L283.5,155 L282.5,155 L281.5,154.9 L280.5,154.9 L279.5,154.9 L278.5,154.8 L277.5,154.8 L276.5,154.8 L275.5,154.7 L274.5,154.7 L273.5,154.7 L272.5,154.6 L271.5,154.6 L270.5,154.6 L269.5,154.5 L268.5,154.5 L267.5,154.4 L266.5,154.4 L265.5,154.4 L264.5,154.3 L263.5,154.3 L262.5,154.3 L261.5,154.2 L260.5,154.2 L259.5,154.2 L258.5,154.1 L257.5,154.1 L256.5,154.1 L255.5,154 L254.5,154 L253.5,153.9 L252.5,153.9 L251.5,153.9 L250.5,153.8 L249.5,153.8 L248.5,153.8 L247.5,153.7 L246.5,153.7 L245.5,153.7 L244.5,153.6 L243.5,153.6 L242.5,153.6 L241.5,153.5 L240.5,153.5 L239.5,153.4 L238.5,153.4 L237.5,153.4 L236.5,153.3 L235.5,153.3 L234.5,153.3 L233.5,153.2Z" fill="url(#gOr)" stroke="none"/>
<polyline points="233.5,153.1 234.5,153.1 235.5,153.1 236.5,153.1 237.5,153.1 238.5,153 239.5,152.9 240.5,152.8 241.5,152.6 242.5,152.4 243.5,152.1 244.5,151.8 245.5,151.4 246.5,150.9 247.5,150.3 248.5,149.6 249.5,148.9 250.5,148 251.5,147 252.5,145.9 253.5,144.7 254.5,143.4 255.5,142 256.5,140.5 257.5,139 258.5,137.5 259.5,135.9 260.5,134.4 261.5,132.9 262.5,131.6 263.5,130.3 264.5,129.2 265.5,128.3 266.5,127.6 267.5,127.1 268.5,126.8 269.5,126.8 270.5,127.1 271.5,127.5 272.5,128.2 273.5,129.1 274.5,130.2 275.5,131.5 276.5,132.9 277.5,134.4 278.5,136 279.5,137.6 280.5,139.2 281.5,140.8 282.5,142.3 283.5,143.8 284.5,145.2 285.5,146.6 286.5,147.8 287.5,148.9 288.5,149.9 289.5,150.8 290.5,151.6 291.5,152.3 292.5,152.8 293.5,153.4 294.5,153.8 295.5,154.2 296.5,154.5 297.5,154.7 298.5,154.9 299.5,155.1 300.5,155.3 301.5,155.4 302.5,155.5 303.5,155.6 304.5,155.7 305.5,155.7" fill="none" stroke="#f08a2a" stroke-width="0.8" stroke-linejoin="round" />
<path d="M275.5,154.6 L276.5,154.6 L277.5,154.6 L278.5,154.5 L279.5,154.5 L280.5,154.3 L281.5,154.2 L282.5,153.9 L283.5,153.6 L284.5,153.2 L285.5,152.6 L286.5,152 L287.5,151.1 L288.5,150.2 L289.5,149 L290.5,147.6 L291.5,146.1 L292.5,144.3 L293.5,142.4 L294.5,140.3 L295.5,138 L296.5,135.7 L297.5,133.3 L298.5,131 L299.5,128.7 L300.5,126.6 L301.5,124.8 L302.5,123.2 L303.5,121.9 L304.5,121 L305.5,120.6 L306.5,120.6 L307.5,121 L308.5,121.9 L309.5,123.1 L310.5,124.7 L311.5,126.6 L312.5,128.8 L313.5,131.1 L314.5,133.5 L315.5,135.9 L316.5,138.3 L317.5,140.6 L318.5,142.8 L319.5,144.9 L320.5,146.7 L321.5,148.4 L322.5,149.9 L323.5,151.2 L324.5,152.3 L325.5,153.2 L326.5,154 L327.5,154.6 L328.5,155.1 L329.5,155.5 L330.5,155.9 L331.5,156.1 L332.5,156.3 L333.5,156.5 L334.5,156.6 L335.5,156.7 L336.5,156.8 L336.5,156.9 L335.5,156.9 L334.5,156.8 L333.5,156.8 L332.5,156.8 L331.5,156.7 L330.5,156.7 L329.5,156.7 L328.5,156.6 L327.5,156.6 L326.5,156.5 L325.5,156.5 L324.5,156.5 L323.5,156.4 L322.5,156.4 L321.5,156.4 L320.5,156.3 L319.5,156.3 L318.5,156.3 L317.5,156.2 L316.5,156.2 L315.5,156.2 L314.5,156.1 L313.5,156.1 L312.5,156 L311.5,156 L310.5,156 L309.5,155.9 L308.5,155.9 L307.5,155.9 L306.5,155.8 L305.5,155.8 L304.5,155.8 L303.5,155.7 L302.5,155.7 L301.5,155.7 L300.5,155.6 L299.5,155.6 L298.5,155.6 L297.5,155.5 L296.5,155.5 L295.5,155.4 L294.5,155.4 L293.5,155.4 L292.5,155.3 L291.5,155.3 L290.5,155.3 L289.5,155.2 L288.5,155.2 L287.5,155.2 L286.5,155.1 L285.5,155.1 L284.5,155.1 L283.5,155 L282.5,155 L281.5,154.9 L280.5,154.9 L279.5,154.9 L278.5,154.8 L277.5,154.8 L276.5,154.8 L275.5,154.7Z" fill="url(#gOr)" stroke="none"/>
<polyline points="275.5,154.6 276.5,154.6 277.5,154.6 278.5,154.5 279.5,154.5 280.5,154.3 281.5,154.2 282.5,153.9 283.5,153.6 284.5,153.2 285.5,152.6 286.5,152 287.5,151.1 288.5,150.2 289.5,149 290.5,147.6 291.5,146.1 292.5,144.3 293.5,142.4 294.5,140.3 295.5,138 296.5,135.7 297.5,133.3 298.5,131 299.5,128.7 300.5,126.6 301.5,124.8 302.5,123.2 303.5,121.9 304.5,121 305.5,120.6 306.5,120.6 307.5,121 308.5,121.9 309.5,123.1 310.5,124.7 311.5,126.6 312.5,128.8 313.5,131.1 314.5,133.5 315.5,135.9 316.5,138.3 317.5,140.6 318.5,142.8 319.5,144.9 320.5,146.7 321.5,148.4 322.5,149.9 323.5,151.2 324.5,152.3 325.5,153.2 326.5,154 327.5,154.6 328.5,155.1 329.5,155.5 330.5,155.9 331.5,156.1 332.5,156.3 333.5,156.5 334.5,156.6 335.5,156.7 336.5,156.8" fill="none" stroke="#f08a2a" stroke-width="0.8" stroke-linejoin="round" />
<path d="M259.5,154.1 L260.5,154.1 L261.5,154.1 L262.5,154.1 L263.5,154.1 L264.5,154.1 L265.5,154.1 L266.5,154.1 L267.5,154.1 L268.5,154 L269.5,153.9 L270.5,153.7 L271.5,153.5 L272.5,153.3 L273.5,153 L274.5,152.8 L275.5,152.5 L276.5,152.3 L277.5,152.1 L278.5,151.9 L279.5,151.9 L280.5,152 L281.5,152.2 L282.5,152.5 L283.5,152.8 L284.5,153.1 L285.5,153.5 L286.5,153.8 L287.5,154.1 L288.5,154.3 L289.5,154.6 L290.5,154.8 L291.5,154.9 L292.5,155 L293.5,155.1 L294.5,155.2 L295.5,155.3 L296.5,155.3 L297.5,155.4 L298.5,155.5 L299.5,155.5 L299.5,155.6 L298.5,155.6 L297.5,155.5 L296.5,155.5 L295.5,155.4 L294.5,155.4 L293.5,155.4 L292.5,155.3 L291.5,155.3 L290.5,155.3 L289.5,155.2 L288.5,155.2 L287.5,155.2 L286.5,155.1 L285.5,155.1 L284.5,155.1 L283.5,155 L282.5,155 L281.5,154.9 L280.5,154.9 L279.5,154.9 L278.5,154.8 L277.5,154.8 L276.5,154.8 L275.5,154.7 L274.5,154.7 L273.5,154.7 L272.5,154.6 L271.5,154.6 L270.5,154.6 L269.5,154.5 L268.5,154.5 L267.5,154.4 L266.5,154.4 L265.5,154.4 L264.5,154.3 L263.5,154.3 L262.5,154.3 L261.5,154.2 L260.5,154.2 L259.5,154.2Z" fill="url(#gBl2)" fill-opacity="0.7" stroke="none"/>
<polyline points="259.5,154.1 260.5,154.1 261.5,154.1 262.5,154.1 263.5,154.1 264.5,154.1 265.5,154.1 266.5,154.1 267.5,154.1 268.5,154 269.5,153.9 270.5,153.7 271.5,153.5 272.5,153.3 273.5,153 274.5,152.8 275.5,152.5 276.5,152.3 277.5,152.1 278.5,151.9 279.5,151.9 280.5,152 281.5,152.2 282.5,152.5 283.5,152.8 284.5,153.1 285.5,153.5 286.5,153.8 287.5,154.1 288.5,154.3 289.5,154.6 290.5,154.8 291.5,154.9 292.5,155 293.5,155.1 294.5,155.2 295.5,155.3 296.5,155.3 297.5,155.4 298.5,155.5 299.5,155.5" fill="none" stroke="#2a68c0" stroke-width="0.7" stroke-linejoin="round" />
<path d="M297.5,155.4 L298.5,155.5 L299.5,155.5 L300.5,155.5 L301.5,155.5 L302.5,155.5 L303.5,155.5 L304.5,155.5 L305.5,155.5 L306.5,155.4 L307.5,155.3 L308.5,155.1 L309.5,154.9 L310.5,154.7 L311.5,154.4 L312.5,154.1 L313.5,153.7 L314.5,153.4 L315.5,153.2 L316.5,153 L317.5,153 L318.5,153.1 L319.5,153.3 L320.5,153.6 L321.5,154 L322.5,154.4 L323.5,154.8 L324.5,155.2 L325.5,155.5 L326.5,155.8 L327.5,156 L328.5,156.2 L329.5,156.3 L330.5,156.4 L331.5,156.5 L332.5,156.6 L333.5,156.7 L334.5,156.7 L335.5,156.8 L336.5,156.8 L337.5,156.9 L337.5,156.9 L336.5,156.9 L335.5,156.9 L334.5,156.8 L333.5,156.8 L332.5,156.8 L331.5,156.7 L330.5,156.7 L329.5,156.7 L328.5,156.6 L327.5,156.6 L326.5,156.5 L325.5,156.5 L324.5,156.5 L323.5,156.4 L322.5,156.4 L321.5,156.4 L320.5,156.3 L319.5,156.3 L318.5,156.3 L317.5,156.2 L316.5,156.2 L315.5,156.2 L314.5,156.1 L313.5,156.1 L312.5,156 L311.5,156 L310.5,156 L309.5,155.9 L308.5,155.9 L307.5,155.9 L306.5,155.8 L305.5,155.8 L304.5,155.8 L303.5,155.7 L302.5,155.7 L301.5,155.7 L300.5,155.6 L299.5,155.6 L298.5,155.6 L297.5,155.5Z" fill="url(#gBl2)" fill-opacity="0.7" stroke="none"/>
<polyline points="297.5,155.4 298.5,155.5 299.5,155.5 300.5,155.5 301.5,155.5 302.5,155.5 303.5,155.5 304.5,155.5 305.5,155.5 306.5,155.4 307.5,155.3 308.5,155.1 309.5,154.9 310.5,154.7 311.5,154.4 312.5,154.1 313.5,153.7 314.5,153.4 315.5,153.2 316.5,153 317.5,153 318.5,153.1 319.5,153.3 320.5,153.6 321.5,154 322.5,154.4 323.5,154.8 324.5,155.2 325.5,155.5 326.5,155.8 327.5,156 328.5,156.2 329.5,156.3 330.5,156.4 331.5,156.5 332.5,156.6 333.5,156.7 334.5,156.7 335.5,156.8 336.5,156.8 337.5,156.9" fill="none" stroke="#2a68c0" stroke-width="0.7" stroke-linejoin="round" />
<path d="M269.5,154.4 L270.5,154.5 L271.5,154.5 L272.5,154.5 L273.5,154.5 L274.5,154.6 L275.5,154.6 L276.5,154.6 L277.5,154.6 L278.5,154.6 L279.5,154.5 L280.5,154.5 L281.5,154.4 L282.5,154.4 L283.5,154.3 L284.5,154.1 L285.5,154 L286.5,153.8 L287.5,153.7 L288.5,153.5 L289.5,153.3 L290.5,153.1 L291.5,153 L292.5,152.8 L293.5,152.7 L294.5,152.7 L295.5,152.7 L296.5,152.8 L297.5,152.9 L298.5,153.1 L299.5,153.3 L300.5,153.5 L301.5,153.7 L302.5,154 L303.5,154.2 L304.5,154.5 L305.5,154.7 L306.5,154.9 L307.5,155.1 L308.5,155.3 L309.5,155.4 L310.5,155.6 L311.5,155.7 L312.5,155.8 L313.5,155.8 L314.5,155.9 L315.5,156 L316.5,156 L317.5,156.1 L318.5,156.2 L319.5,156.2 L320.5,156.2 L321.5,156.3 L321.5,156.4 L320.5,156.3 L319.5,156.3 L318.5,156.3 L317.5,156.2 L316.5,156.2 L315.5,156.2 L314.5,156.1 L313.5,156.1 L312.5,156 L311.5,156 L310.5,156 L309.5,155.9 L308.5,155.9 L307.5,155.9 L306.5,155.8 L305.5,155.8 L304.5,155.8 L303.5,155.7 L302.5,155.7 L301.5,155.7 L300.5,155.6 L299.5,155.6 L298.5,155.6 L297.5,155.5 L296.5,155.5 L295.5,155.4 L294.5,155.4 L293.5,155.4 L292.5,155.3 L291.5,155.3 L290.5,155.3 L289.5,155.2 L288.5,155.2 L287.5,155.2 L286.5,155.1 L285.5,155.1 L284.5,155.1 L283.5,155 L282.5,155 L281.5,154.9 L280.5,154.9 L279.5,154.9 L278.5,154.8 L277.5,154.8 L276.5,154.8 L275.5,154.7 L274.5,154.7 L273.5,154.7 L272.5,154.6 L271.5,154.6 L270.5,154.6 L269.5,154.5Z" fill="url(#gGr)" fill-opacity="0.7" stroke="none"/>
<polyline points="269.5,154.4 270.5,154.5 271.5,154.5 272.5,154.5 273.5,154.5 274.5,154.6 275.5,154.6 276.5,154.6 277.5,154.6 278.5,154.6 279.5,154.5 280.5,154.5 281.5,154.4 282.5,154.4 283.5,154.3 284.5,154.1 285.5,154 286.5,153.8 287.5,153.7 288.5,153.5 289.5,153.3 290.5,153.1 291.5,153 292.5,152.8 293.5,152.7 294.5,152.7 295.5,152.7 296.5,152.8 297.5,152.9 298.5,153.1 299.5,153.3 300.5,153.5 301.5,153.7 302.5,154 303.5,154.2 304.5,154.5 305.5,154.7 306.5,154.9 307.5,155.1 308.5,155.3 309.5,155.4 310.5,155.6 311.5,155.7 312.5,155.8 313.5,155.8 314.5,155.9 315.5,156 316.5,156 317.5,156.1 318.5,156.2 319.5,156.2 320.5,156.2 321.5,156.3" fill="none" stroke="#3a9a3a" stroke-width="0.7" stroke-linejoin="round" />
<path d="M302.5,155.6 L303.5,155.6 L304.5,155.7 L305.5,155.7 L306.5,155.7 L307.5,155.8 L308.5,155.8 L309.5,155.8 L310.5,155.8 L311.5,155.8 L312.5,155.8 L313.5,155.8 L314.5,155.8 L315.5,155.8 L316.5,155.8 L317.5,155.7 L318.5,155.6 L319.5,155.5 L320.5,155.3 L321.5,155.2 L322.5,154.9 L323.5,154.7 L324.5,154.4 L325.5,154.1 L326.5,153.8 L327.5,153.5 L328.5,153.2 L329.5,152.9 L330.5,152.8 L331.5,152.7 L332.5,152.6 L333.5,152.7 L334.5,152.9 L335.5,153.2 L336.5,153.5 L337.5,153.8 L338.5,154.2 L339.5,154.6 L340.5,155 L341.5,155.3 L342.5,155.7 L343.5,155.9 L344.5,156.2 L345.5,156.4 L346.5,156.6 L347.5,156.8 L348.5,156.9 L349.5,157 L350.5,157.1 L351.5,157.2 L352.5,157.3 L353.5,157.3 L354.5,157.4 L355.5,157.4 L356.5,157.5 L357.5,157.5 L358.5,157.6 L359.5,157.6 L360.5,157.7 L361.5,157.7 L362.5,157.7 L362.5,157.8 L361.5,157.8 L360.5,157.8 L359.5,157.7 L358.5,157.7 L357.5,157.7 L356.5,157.6 L355.5,157.6 L354.5,157.5 L353.5,157.5 L352.5,157.5 L351.5,157.4 L350.5,157.4 L349.5,157.4 L348.5,157.3 L347.5,157.3 L346.5,157.3 L345.5,157.2 L344.5,157.2 L343.5,157.2 L342.5,157.1 L341.5,157.1 L340.5,157 L339.5,157 L338.5,157 L337.5,156.9 L336.5,156.9 L335.5,156.9 L334.5,156.8 L333.5,156.8 L332.5,156.8 L331.5,156.7 L330.5,156.7 L329.5,156.7 L328.5,156.6 L327.5,156.6 L326.5,156.5 L325.5,156.5 L324.5,156.5 L323.5,156.4 L322.5,156.4 L321.5,156.4 L320.5,156.3 L319.5,156.3 L318.5,156.3 L317.5,156.2 L316.5,156.2 L315.5,156.2 L314.5,156.1 L313.5,156.1 L312.5,156 L311.5,156 L310.5,156 L309.5,155.9 L308.5,155.9 L307.5,155.9 L306.5,155.8 L305.5,155.8 L304.5,155.8 L303.5,155.7 L302.5,155.7Z" fill="url(#gGr)" fill-opacity="0.7" stroke="none"/>
<polyline points="302.5,155.6 303.5,155.6 304.5,155.7 305.5,155.7 306.5,155.7 307.5,155.8 308.5,155.8 309.5,155.8 310.5,155.8 311.5,155.8 312.5,155.8 313.5,155.8 314.5,155.8 315.5,155.8 316.5,155.8 317.5,155.7 318.5,155.6 319.5,155.5 320.5,155.3 321.5,155.2 322.5,154.9 323.5,154.7 324.5,154.4 325.5,154.1 326.5,153.8 327.5,153.5 328.5,153.2 329.5,152.9 330.5,152.8 331.5,152.7 332.5,152.6 333.5,152.7 334.5,152.9 335.5,153.2 336.5,153.5 337.5,153.8 338.5,154.2 339.5,154.6 340.5,155 341.5,155.3 342.5,155.7 343.5,155.9 344.5,156.2 345.5,156.4 346.5,156.6 347.5,156.8 348.5,156.9 349.5,157 350.5,157.1 351.5,157.2 352.5,157.3 353.5,157.3 354.5,157.4 355.5,157.4 356.5,157.5 357.5,157.5 358.5,157.6 359.5,157.6 360.5,157.7 361.5,157.7 362.5,157.7" fill="none" stroke="#3a9a3a" stroke-width="0.7" stroke-linejoin="round" />
<polyline points="232.5,153.2 364.5,157.9" fill="none" stroke="#3a9a3a" stroke-width="0.9" stroke-linejoin="round" />
<g fill="#fff" fill-opacity="0.85" stroke="#7a7a7a" stroke-width="0.5"><circle cx="232.5" cy="152.4" r="1.3"/><circle cx="234.7" cy="152.7" r="1.3"/><circle cx="236.9" cy="152.6" r="1.3"/><circle cx="239.1" cy="152.4" r="1.3"/><circle cx="241.3" cy="151.4" r="1.3"/><circle cx="243.5" cy="150.7" r="1.3"/><circle cx="245.7" cy="149.5" r="1.3"/><circle cx="247.9" cy="148.1" r="1.3"/><circle cx="250.1" cy="146.5" r="1.3"/><circle cx="252.3" cy="143.6" r="1.3"/><circle cx="254.5" cy="141.1" r="1.3"/><circle cx="256.7" cy="137.7" r="1.3"/><circle cx="258.9" cy="134.5" r="1.3"/><circle cx="261.1" cy="131.6" r="1.3"/><circle cx="263.3" cy="129.2" r="1.3"/><circle cx="265.5" cy="127" r="1.3"/><circle cx="267.7" cy="125.4" r="1.3"/><circle cx="269.9" cy="125.5" r="1.3"/><circle cx="272.1" cy="126.3" r="1.3"/><circle cx="274.3" cy="128.6" r="1.3"/><circle cx="276.5" cy="131" r="1.3"/><circle cx="278.7" cy="133.9" r="1.3"/><circle cx="280.9" cy="136.7" r="1.3"/><circle cx="283.1" cy="139.1" r="1.3"/><circle cx="285.3" cy="141" r="1.3"/><circle cx="287.5" cy="141.6" r="1.3"/><circle cx="289.7" cy="140.6" r="1.3"/><circle cx="291.9" cy="139.2" r="1.3"/><circle cx="294.1" cy="135.9" r="1.3"/><circle cx="296.3" cy="132.3" r="1.3"/><circle cx="298.5" cy="127.9" r="1.3"/><circle cx="300.7" cy="123.8" r="1.3"/><circle cx="302.9" cy="120.8" r="1.3"/><circle cx="305.1" cy="119.3" r="1.3"/><circle cx="307.3" cy="119.3" r="1.3"/><circle cx="309.5" cy="121.1" r="1.3"/><circle cx="311.7" cy="124.9" r="1.3"/><circle cx="313.9" cy="128.9" r="1.3"/><circle cx="316.1" cy="133.3" r="1.3"/><circle cx="318.3" cy="137" r="1.3"/><circle cx="320.5" cy="140" r="1.3"/><circle cx="322.7" cy="142.6" r="1.3"/><circle cx="324.9" cy="144" r="1.3"/><circle cx="327.1" cy="146.1" r="1.3"/><circle cx="329.3" cy="147.5" r="1.3"/><circle cx="331.5" cy="149" r="1.3"/><circle cx="333.7" cy="150.8" r="1.3"/><circle cx="335.9" cy="152.7" r="1.3"/><circle cx="338.1" cy="153.8" r="1.3"/><circle cx="340.3" cy="155.1" r="1.3"/><circle cx="342.5" cy="156" r="1.3"/><circle cx="344.7" cy="156.3" r="1.3"/><circle cx="346.9" cy="156.4" r="1.3"/><circle cx="349.1" cy="156.9" r="1.3"/><circle cx="351.3" cy="156.8" r="1.3"/><circle cx="353.5" cy="156.9" r="1.3"/><circle cx="355.7" cy="156.9" r="1.3"/><circle cx="357.9" cy="157.2" r="1.3"/><circle cx="360.1" cy="157" r="1.3"/><circle cx="362.3" cy="157.5" r="1.3"/><circle cx="364.5" cy="157.9" r="1.3"/></g>
<polyline points="232.5,153 233.5,153 234.5,153 235.5,152.9 236.5,152.9 237.5,152.8 238.5,152.6 239.5,152.5 240.5,152.2 241.5,152 242.5,151.7 243.5,151.3 244.5,150.8 245.5,150.3 246.5,149.7 247.5,149 248.5,148.2 249.5,147.3 250.5,146.3 251.5,145.2 252.5,144 253.5,142.8 254.5,141.5 255.5,140.1 256.5,138.6 257.5,137.2 258.5,135.7 259.5,134.2 260.5,132.8 261.5,131.5 262.5,130.2 263.5,129.1 264.5,128.1 265.5,127.3 266.5,126.7 267.5,126.2 268.5,126 269.5,126 270.5,126.2 271.5,126.6 272.5,127.2 273.5,128 274.5,128.9 275.5,130 276.5,131.2 277.5,132.5 278.5,133.8 279.5,135.1 280.5,136.4 281.5,137.6 282.5,138.7 283.5,139.7 284.5,140.6 285.5,141.2 286.5,141.6 287.5,141.8 288.5,141.7 289.5,141.3 290.5,140.7 291.5,139.8 292.5,138.6 293.5,137.3 294.5,135.7 295.5,133.9 296.5,132.1 297.5,130.1 298.5,128.2 299.5,126.4 300.5,124.6 301.5,123 302.5,121.7 303.5,120.7 304.5,120 305.5,119.6 306.5,119.6 307.5,120 308.5,120.7 309.5,121.8 310.5,123.1 311.5,124.7 312.5,126.5 313.5,128.3 314.5,130.3 315.5,132.2 316.5,134.1 317.5,135.9 318.5,137.5 319.5,139 320.5,140.4 321.5,141.6 322.5,142.6 323.5,143.6 324.5,144.4 325.5,145.2 326.5,145.9 327.5,146.7 328.5,147.4 329.5,148.1 330.5,148.9 331.5,149.7 332.5,150.5 333.5,151.3 334.5,152 335.5,152.8 336.5,153.5 337.5,154.1 338.5,154.7 339.5,155.2 340.5,155.6 341.5,156 342.5,156.3 343.5,156.5 344.5,156.7 345.5,156.9 346.5,157 347.5,157.1 348.5,157.2 349.5,157.3 350.5,157.4 351.5,157.4 352.5,157.5 353.5,157.5 354.5,157.5 355.5,157.6 356.5,157.6 357.5,157.6 358.5,157.7 359.5,157.7 360.5,157.8 361.5,157.8 362.5,157.8 363.5,157.9 364.5,157.9" fill="none" stroke="#b04848" stroke-width="0.75" stroke-linejoin="round" />
<path d="M227.3,204 L228.3,204 L229.3,204 L230.3,203.9 L231.3,203.9 L232.3,203.8 L233.3,203.7 L234.3,203.6 L235.3,203.4 L236.3,203.2 L237.3,203 L238.3,202.7 L239.3,202.3 L240.3,201.8 L241.3,201.3 L242.3,200.6 L243.3,199.9 L244.3,199.1 L245.3,198.1 L246.3,197.1 L247.3,196 L248.3,194.7 L249.3,193.4 L250.3,192.1 L251.3,190.7 L252.3,189.3 L253.3,187.8 L254.3,186.4 L255.3,185.1 L256.3,183.8 L257.3,182.7 L258.3,181.7 L259.3,180.8 L260.3,180.2 L261.3,179.8 L262.3,179.5 L263.3,179.5 L264.3,179.8 L265.3,180.2 L266.3,180.9 L267.3,181.7 L268.3,182.8 L269.3,183.9 L270.3,185.2 L271.3,186.6 L272.3,188.1 L273.3,189.6 L274.3,191.1 L275.3,192.5 L276.3,194 L277.3,195.3 L278.3,196.6 L279.3,197.8 L280.3,198.9 L281.3,199.9 L282.3,200.8 L283.3,201.7 L284.3,202.4 L285.3,203 L286.3,203.5 L287.3,204 L288.3,204.4 L289.3,204.7 L290.3,205 L291.3,205.2 L292.3,205.4 L293.3,205.6 L294.3,205.7 L295.3,205.8 L296.3,205.9 L297.3,206 L298.3,206 L298.3,206.1 L297.3,206.1 L296.3,206.1 L295.3,206 L294.3,206 L293.3,206 L292.3,206 L291.3,205.9 L290.3,205.9 L289.3,205.9 L288.3,205.8 L287.3,205.8 L286.3,205.8 L285.3,205.8 L284.3,205.7 L283.3,205.7 L282.3,205.7 L281.3,205.6 L280.3,205.6 L279.3,205.6 L278.3,205.6 L277.3,205.5 L276.3,205.5 L275.3,205.5 L274.3,205.4 L273.3,205.4 L272.3,205.4 L271.3,205.4 L270.3,205.3 L269.3,205.3 L268.3,205.3 L267.3,205.2 L266.3,205.2 L265.3,205.2 L264.3,205.2 L263.3,205.1 L262.3,205.1 L261.3,205.1 L260.3,205 L259.3,205 L258.3,205 L257.3,204.9 L256.3,204.9 L255.3,204.9 L254.3,204.9 L253.3,204.8 L252.3,204.8 L251.3,204.8 L250.3,204.7 L249.3,204.7 L248.3,204.7 L247.3,204.7 L246.3,204.6 L245.3,204.6 L244.3,204.6 L243.3,204.5 L242.3,204.5 L241.3,204.5 L240.3,204.5 L239.3,204.4 L238.3,204.4 L237.3,204.4 L236.3,204.3 L235.3,204.3 L234.3,204.3 L233.3,204.3 L232.3,204.2 L231.3,204.2 L230.3,204.2 L229.3,204.1 L228.3,204.1 L227.3,204.1Z" fill="url(#gOr)" stroke="none"/>
<polyline points="227.3,204 228.3,204 229.3,204 230.3,203.9 231.3,203.9 232.3,203.8 233.3,203.7 234.3,203.6 235.3,203.4 236.3,203.2 237.3,203 238.3,202.7 239.3,202.3 240.3,201.8 241.3,201.3 242.3,200.6 243.3,199.9 244.3,199.1 245.3,198.1 246.3,197.1 247.3,196 248.3,194.7 249.3,193.4 250.3,192.1 251.3,190.7 252.3,189.3 253.3,187.8 254.3,186.4 255.3,185.1 256.3,183.8 257.3,182.7 258.3,181.7 259.3,180.8 260.3,180.2 261.3,179.8 262.3,179.5 263.3,179.5 264.3,179.8 265.3,180.2 266.3,180.9 267.3,181.7 268.3,182.8 269.3,183.9 270.3,185.2 271.3,186.6 272.3,188.1 273.3,189.6 274.3,191.1 275.3,192.5 276.3,194 277.3,195.3 278.3,196.6 279.3,197.8 280.3,198.9 281.3,199.9 282.3,200.8 283.3,201.7 284.3,202.4 285.3,203 286.3,203.5 287.3,204 288.3,204.4 289.3,204.7 290.3,205 291.3,205.2 292.3,205.4 293.3,205.6 294.3,205.7 295.3,205.8 296.3,205.9 297.3,206 298.3,206" fill="none" stroke="#f08a2a" stroke-width="0.8" stroke-linejoin="round" />
<path d="M268.3,205.2 L269.3,205.2 L270.3,205.1 L271.3,205.1 L272.3,205 L273.3,204.9 L274.3,204.7 L275.3,204.4 L276.3,204.1 L277.3,203.7 L278.3,203.2 L279.3,202.6 L280.3,201.8 L281.3,200.9 L282.3,199.8 L283.3,198.5 L284.3,197.1 L285.3,195.5 L286.3,193.7 L287.3,191.8 L288.3,189.8 L289.3,187.8 L290.3,185.7 L291.3,183.6 L292.3,181.6 L293.3,179.8 L294.3,178.2 L295.3,176.9 L296.3,175.9 L297.3,175.2 L298.3,174.9 L299.3,175.1 L300.3,175.5 L301.3,176.4 L302.3,177.6 L303.3,179.1 L304.3,180.9 L305.3,182.8 L306.3,184.9 L307.3,187 L308.3,189.1 L309.3,191.3 L310.3,193.3 L311.3,195.2 L312.3,196.9 L313.3,198.5 L314.3,200 L315.3,201.2 L316.3,202.3 L317.3,203.2 L318.3,204 L319.3,204.6 L320.3,205.1 L321.3,205.6 L322.3,205.9 L323.3,206.2 L324.3,206.4 L325.3,206.6 L326.3,206.7 L327.3,206.8 L328.3,206.9 L329.3,206.9 L329.3,207 L328.3,207 L327.3,207 L326.3,206.9 L325.3,206.9 L324.3,206.9 L323.3,206.8 L322.3,206.8 L321.3,206.8 L320.3,206.8 L319.3,206.7 L318.3,206.7 L317.3,206.7 L316.3,206.6 L315.3,206.6 L314.3,206.6 L313.3,206.6 L312.3,206.5 L311.3,206.5 L310.3,206.5 L309.3,206.4 L308.3,206.4 L307.3,206.4 L306.3,206.4 L305.3,206.3 L304.3,206.3 L303.3,206.3 L302.3,206.2 L301.3,206.2 L300.3,206.2 L299.3,206.2 L298.3,206.1 L297.3,206.1 L296.3,206.1 L295.3,206 L294.3,206 L293.3,206 L292.3,206 L291.3,205.9 L290.3,205.9 L289.3,205.9 L288.3,205.8 L287.3,205.8 L286.3,205.8 L285.3,205.8 L284.3,205.7 L283.3,205.7 L282.3,205.7 L281.3,205.6 L280.3,205.6 L279.3,205.6 L278.3,205.6 L277.3,205.5 L276.3,205.5 L275.3,205.5 L274.3,205.4 L273.3,205.4 L272.3,205.4 L271.3,205.4 L270.3,205.3 L269.3,205.3 L268.3,205.3Z" fill="url(#gOr)" stroke="none"/>
<polyline points="268.3,205.2 269.3,205.2 270.3,205.1 271.3,205.1 272.3,205 273.3,204.9 274.3,204.7 275.3,204.4 276.3,204.1 277.3,203.7 278.3,203.2 279.3,202.6 280.3,201.8 281.3,200.9 282.3,199.8 283.3,198.5 284.3,197.1 285.3,195.5 286.3,193.7 287.3,191.8 288.3,189.8 289.3,187.8 290.3,185.7 291.3,183.6 292.3,181.6 293.3,179.8 294.3,178.2 295.3,176.9 296.3,175.9 297.3,175.2 298.3,174.9 299.3,175.1 300.3,175.5 301.3,176.4 302.3,177.6 303.3,179.1 304.3,180.9 305.3,182.8 306.3,184.9 307.3,187 308.3,189.1 309.3,191.3 310.3,193.3 311.3,195.2 312.3,196.9 313.3,198.5 314.3,200 315.3,201.2 316.3,202.3 317.3,203.2 318.3,204 319.3,204.6 320.3,205.1 321.3,205.6 322.3,205.9 323.3,206.2 324.3,206.4 325.3,206.6 326.3,206.7 327.3,206.8 328.3,206.9 329.3,206.9" fill="none" stroke="#f08a2a" stroke-width="0.8" stroke-linejoin="round" />
<path d="M251.3,204.7 L252.3,204.7 L253.3,204.7 L254.3,204.7 L255.3,204.8 L256.3,204.8 L257.3,204.7 L258.3,204.7 L259.3,204.7 L260.3,204.6 L261.3,204.5 L262.3,204.4 L263.3,204.2 L264.3,204 L265.3,203.7 L266.3,203.5 L267.3,203.2 L268.3,202.9 L269.3,202.6 L270.3,202.4 L271.3,202.3 L272.3,202.2 L273.3,202.3 L274.3,202.5 L275.3,202.8 L276.3,203.2 L277.3,203.5 L278.3,203.9 L279.3,204.2 L280.3,204.5 L281.3,204.8 L282.3,205 L283.3,205.2 L284.3,205.3 L285.3,205.4 L286.3,205.5 L287.3,205.6 L288.3,205.7 L289.3,205.7 L290.3,205.8 L291.3,205.8 L292.3,205.9 L293.3,205.9 L293.3,206 L292.3,206 L291.3,205.9 L290.3,205.9 L289.3,205.9 L288.3,205.8 L287.3,205.8 L286.3,205.8 L285.3,205.8 L284.3,205.7 L283.3,205.7 L282.3,205.7 L281.3,205.6 L280.3,205.6 L279.3,205.6 L278.3,205.6 L277.3,205.5 L276.3,205.5 L275.3,205.5 L274.3,205.4 L273.3,205.4 L272.3,205.4 L271.3,205.4 L270.3,205.3 L269.3,205.3 L268.3,205.3 L267.3,205.2 L266.3,205.2 L265.3,205.2 L264.3,205.2 L263.3,205.1 L262.3,205.1 L261.3,205.1 L260.3,205 L259.3,205 L258.3,205 L257.3,204.9 L256.3,204.9 L255.3,204.9 L254.3,204.9 L253.3,204.8 L252.3,204.8 L251.3,204.8Z" fill="url(#gBl2)" fill-opacity="0.7" stroke="none"/>
<polyline points="251.3,204.7 252.3,204.7 253.3,204.7 254.3,204.7 255.3,204.8 256.3,204.8 257.3,204.7 258.3,204.7 259.3,204.7 260.3,204.6 261.3,204.5 262.3,204.4 263.3,204.2 264.3,204 265.3,203.7 266.3,203.5 267.3,203.2 268.3,202.9 269.3,202.6 270.3,202.4 271.3,202.3 272.3,202.2 273.3,202.3 274.3,202.5 275.3,202.8 276.3,203.2 277.3,203.5 278.3,203.9 279.3,204.2 280.3,204.5 281.3,204.8 282.3,205 283.3,205.2 284.3,205.3 285.3,205.4 286.3,205.5 287.3,205.6 288.3,205.7 289.3,205.7 290.3,205.8 291.3,205.8 292.3,205.9 293.3,205.9" fill="none" stroke="#2a68c0" stroke-width="0.7" stroke-linejoin="round" />
<path d="M290.3,205.8 L291.3,205.8 L292.3,205.8 L293.3,205.9 L294.3,205.9 L295.3,205.9 L296.3,205.8 L297.3,205.8 L298.3,205.8 L299.3,205.7 L300.3,205.5 L301.3,205.4 L302.3,205.1 L303.3,204.9 L304.3,204.5 L305.3,204.2 L306.3,203.8 L307.3,203.5 L308.3,203.2 L309.3,203 L310.3,203 L311.3,203.1 L312.3,203.4 L313.3,203.7 L314.3,204.1 L315.3,204.5 L316.3,205 L317.3,205.3 L318.3,205.6 L319.3,205.9 L320.3,206.1 L321.3,206.3 L322.3,206.5 L323.3,206.6 L324.3,206.7 L325.3,206.7 L326.3,206.8 L327.3,206.8 L328.3,206.9 L329.3,206.9 L330.3,207 L330.3,207 L329.3,207 L328.3,207 L327.3,207 L326.3,206.9 L325.3,206.9 L324.3,206.9 L323.3,206.8 L322.3,206.8 L321.3,206.8 L320.3,206.8 L319.3,206.7 L318.3,206.7 L317.3,206.7 L316.3,206.6 L315.3,206.6 L314.3,206.6 L313.3,206.6 L312.3,206.5 L311.3,206.5 L310.3,206.5 L309.3,206.4 L308.3,206.4 L307.3,206.4 L306.3,206.4 L305.3,206.3 L304.3,206.3 L303.3,206.3 L302.3,206.2 L301.3,206.2 L300.3,206.2 L299.3,206.2 L298.3,206.1 L297.3,206.1 L296.3,206.1 L295.3,206 L294.3,206 L293.3,206 L292.3,206 L291.3,205.9 L290.3,205.9Z" fill="url(#gBl2)" fill-opacity="0.7" stroke="none"/>
<polyline points="290.3,205.8 291.3,205.8 292.3,205.8 293.3,205.9 294.3,205.9 295.3,205.9 296.3,205.8 297.3,205.8 298.3,205.8 299.3,205.7 300.3,205.5 301.3,205.4 302.3,205.1 303.3,204.9 304.3,204.5 305.3,204.2 306.3,203.8 307.3,203.5 308.3,203.2 309.3,203 310.3,203 311.3,203.1 312.3,203.4 313.3,203.7 314.3,204.1 315.3,204.5 316.3,205 317.3,205.3 318.3,205.6 319.3,205.9 320.3,206.1 321.3,206.3 322.3,206.5 323.3,206.6 324.3,206.7 325.3,206.7 326.3,206.8 327.3,206.8 328.3,206.9 329.3,206.9 330.3,207" fill="none" stroke="#2a68c0" stroke-width="0.7" stroke-linejoin="round" />
<path d="M260.3,205 L261.3,205 L262.3,205 L263.3,205 L264.3,205 L265.3,205 L266.3,205.1 L267.3,205.1 L268.3,205.1 L269.3,205.1 L270.3,205 L271.3,205 L272.3,205 L273.3,204.9 L274.3,204.8 L275.3,204.7 L276.3,204.6 L277.3,204.4 L278.3,204.3 L279.3,204.1 L280.3,203.8 L281.3,203.6 L282.3,203.4 L283.3,203.2 L284.3,203 L285.3,202.8 L286.3,202.7 L287.3,202.6 L288.3,202.6 L289.3,202.7 L290.3,202.8 L291.3,203 L292.3,203.2 L293.3,203.5 L294.3,203.8 L295.3,204.1 L296.3,204.3 L297.3,204.6 L298.3,204.9 L299.3,205.1 L300.3,205.3 L301.3,205.5 L302.3,205.6 L303.3,205.8 L304.3,205.9 L305.3,206 L306.3,206.1 L307.3,206.2 L308.3,206.2 L309.3,206.3 L310.3,206.3 L311.3,206.4 L312.3,206.4 L313.3,206.5 L314.3,206.5 L315.3,206.5 L316.3,206.6 L316.3,206.6 L315.3,206.6 L314.3,206.6 L313.3,206.6 L312.3,206.5 L311.3,206.5 L310.3,206.5 L309.3,206.4 L308.3,206.4 L307.3,206.4 L306.3,206.4 L305.3,206.3 L304.3,206.3 L303.3,206.3 L302.3,206.2 L301.3,206.2 L300.3,206.2 L299.3,206.2 L298.3,206.1 L297.3,206.1 L296.3,206.1 L295.3,206 L294.3,206 L293.3,206 L292.3,206 L291.3,205.9 L290.3,205.9 L289.3,205.9 L288.3,205.8 L287.3,205.8 L286.3,205.8 L285.3,205.8 L284.3,205.7 L283.3,205.7 L282.3,205.7 L281.3,205.6 L280.3,205.6 L279.3,205.6 L278.3,205.6 L277.3,205.5 L276.3,205.5 L275.3,205.5 L274.3,205.4 L273.3,205.4 L272.3,205.4 L271.3,205.4 L270.3,205.3 L269.3,205.3 L268.3,205.3 L267.3,205.2 L266.3,205.2 L265.3,205.2 L264.3,205.2 L263.3,205.1 L262.3,205.1 L261.3,205.1 L260.3,205Z" fill="url(#gGr)" fill-opacity="0.7" stroke="none"/>
<polyline points="260.3,205 261.3,205 262.3,205 263.3,205 264.3,205 265.3,205 266.3,205.1 267.3,205.1 268.3,205.1 269.3,205.1 270.3,205 271.3,205 272.3,205 273.3,204.9 274.3,204.8 275.3,204.7 276.3,204.6 277.3,204.4 278.3,204.3 279.3,204.1 280.3,203.8 281.3,203.6 282.3,203.4 283.3,203.2 284.3,203 285.3,202.8 286.3,202.7 287.3,202.6 288.3,202.6 289.3,202.7 290.3,202.8 291.3,203 292.3,203.2 293.3,203.5 294.3,203.8 295.3,204.1 296.3,204.3 297.3,204.6 298.3,204.9 299.3,205.1 300.3,205.3 301.3,205.5 302.3,205.6 303.3,205.8 304.3,205.9 305.3,206 306.3,206.1 307.3,206.2 308.3,206.2 309.3,206.3 310.3,206.3 311.3,206.4 312.3,206.4 313.3,206.5 314.3,206.5 315.3,206.5 316.3,206.6" fill="none" stroke="#3a9a3a" stroke-width="0.7" stroke-linejoin="round" />
<path d="M292.3,205.9 L293.3,205.9 L294.3,205.9 L295.3,205.9 L296.3,206 L297.3,206 L298.3,206 L299.3,206 L300.3,206 L301.3,206.1 L302.3,206.1 L303.3,206.1 L304.3,206.1 L305.3,206.1 L306.3,206.1 L307.3,206 L308.3,206 L309.3,205.9 L310.3,205.8 L311.3,205.7 L312.3,205.6 L313.3,205.4 L314.3,205.1 L315.3,204.9 L316.3,204.5 L317.3,204.2 L318.3,203.8 L319.3,203.4 L320.3,203.1 L321.3,202.7 L322.3,202.4 L323.3,202.2 L324.3,202 L325.3,202 L326.3,202.1 L327.3,202.3 L328.3,202.6 L329.3,203 L330.3,203.4 L331.3,203.9 L332.3,204.3 L333.3,204.7 L334.3,205.1 L335.3,205.5 L336.3,205.8 L337.3,206.1 L338.3,206.3 L339.3,206.6 L340.3,206.7 L341.3,206.9 L342.3,207 L343.3,207.1 L344.3,207.2 L345.3,207.2 L346.3,207.3 L347.3,207.4 L348.3,207.4 L349.3,207.4 L350.3,207.5 L351.3,207.5 L352.3,207.6 L353.3,207.6 L354.3,207.6 L355.3,207.7 L356.3,207.7 L357.3,207.7 L358.3,207.8 L358.3,207.9 L357.3,207.8 L356.3,207.8 L355.3,207.8 L354.3,207.7 L353.3,207.7 L352.3,207.7 L351.3,207.7 L350.3,207.6 L349.3,207.6 L348.3,207.6 L347.3,207.5 L346.3,207.5 L345.3,207.5 L344.3,207.5 L343.3,207.4 L342.3,207.4 L341.3,207.4 L340.3,207.3 L339.3,207.3 L338.3,207.3 L337.3,207.3 L336.3,207.2 L335.3,207.2 L334.3,207.2 L333.3,207.1 L332.3,207.1 L331.3,207.1 L330.3,207 L329.3,207 L328.3,207 L327.3,207 L326.3,206.9 L325.3,206.9 L324.3,206.9 L323.3,206.8 L322.3,206.8 L321.3,206.8 L320.3,206.8 L319.3,206.7 L318.3,206.7 L317.3,206.7 L316.3,206.6 L315.3,206.6 L314.3,206.6 L313.3,206.6 L312.3,206.5 L311.3,206.5 L310.3,206.5 L309.3,206.4 L308.3,206.4 L307.3,206.4 L306.3,206.4 L305.3,206.3 L304.3,206.3 L303.3,206.3 L302.3,206.2 L301.3,206.2 L300.3,206.2 L299.3,206.2 L298.3,206.1 L297.3,206.1 L296.3,206.1 L295.3,206 L294.3,206 L293.3,206 L292.3,206Z" fill="url(#gGr)" fill-opacity="0.7" stroke="none"/>
<polyline points="292.3,205.9 293.3,205.9 294.3,205.9 295.3,205.9 296.3,206 297.3,206 298.3,206 299.3,206 300.3,206 301.3,206.1 302.3,206.1 303.3,206.1 304.3,206.1 305.3,206.1 306.3,206.1 307.3,206 308.3,206 309.3,205.9 310.3,205.8 311.3,205.7 312.3,205.6 313.3,205.4 314.3,205.1 315.3,204.9 316.3,204.5 317.3,204.2 318.3,203.8 319.3,203.4 320.3,203.1 321.3,202.7 322.3,202.4 323.3,202.2 324.3,202 325.3,202 326.3,202.1 327.3,202.3 328.3,202.6 329.3,203 330.3,203.4 331.3,203.9 332.3,204.3 333.3,204.7 334.3,205.1 335.3,205.5 336.3,205.8 337.3,206.1 338.3,206.3 339.3,206.6 340.3,206.7 341.3,206.9 342.3,207 343.3,207.1 344.3,207.2 345.3,207.2 346.3,207.3 347.3,207.4 348.3,207.4 349.3,207.4 350.3,207.5 351.3,207.5 352.3,207.6 353.3,207.6 354.3,207.6 355.3,207.7 356.3,207.7 357.3,207.7 358.3,207.8" fill="none" stroke="#3a9a3a" stroke-width="0.7" stroke-linejoin="round" />
<polyline points="224.3,204 373.8,208.3" fill="none" stroke="#3a9a3a" stroke-width="0.9" stroke-linejoin="round" />
<g fill="#fff" fill-opacity="0.85" stroke="#7a7a7a" stroke-width="0.5"><circle cx="224.3" cy="203.2" r="1.3"/><circle cx="226.5" cy="203.7" r="1.3"/><circle cx="228.7" cy="203.5" r="1.3"/><circle cx="230.9" cy="203.6" r="1.3"/><circle cx="233.1" cy="202.8" r="1.3"/><circle cx="235.3" cy="202.3" r="1.3"/><circle cx="237.5" cy="201.9" r="1.3"/><circle cx="239.7" cy="200.7" r="1.3"/><circle cx="241.9" cy="199" r="1.3"/><circle cx="244.1" cy="197.4" r="1.3"/><circle cx="246.3" cy="194.8" r="1.3"/><circle cx="248.5" cy="192.4" r="1.3"/><circle cx="250.7" cy="189" r="1.3"/><circle cx="252.9" cy="186" r="1.3"/><circle cx="255.1" cy="183.7" r="1.3"/><circle cx="257.3" cy="180.8" r="1.3"/><circle cx="259.5" cy="179" r="1.3"/><circle cx="261.7" cy="178.4" r="1.3"/><circle cx="263.9" cy="178.3" r="1.3"/><circle cx="266.1" cy="178.8" r="1.3"/><circle cx="268.3" cy="180.9" r="1.3"/><circle cx="270.5" cy="183.3" r="1.3"/><circle cx="272.7" cy="185.4" r="1.3"/><circle cx="274.9" cy="188.3" r="1.3"/><circle cx="277.1" cy="189.9" r="1.3"/><circle cx="279.3" cy="191.3" r="1.3"/><circle cx="281.5" cy="191.2" r="1.3"/><circle cx="283.7" cy="190.3" r="1.3"/><circle cx="285.9" cy="188.8" r="1.3"/><circle cx="288.1" cy="185.2" r="1.3"/><circle cx="290.3" cy="182.1" r="1.3"/><circle cx="292.5" cy="178.1" r="1.3"/><circle cx="294.7" cy="175.2" r="1.3"/><circle cx="296.9" cy="173.6" r="1.3"/><circle cx="299.1" cy="173.2" r="1.3"/><circle cx="301.3" cy="174" r="1.3"/><circle cx="303.5" cy="177" r="1.3"/><circle cx="305.7" cy="180.5" r="1.3"/><circle cx="307.9" cy="183.9" r="1.3"/><circle cx="310.1" cy="187.2" r="1.3"/><circle cx="312.3" cy="190.6" r="1.3"/><circle cx="314.5" cy="192.3" r="1.3"/><circle cx="316.7" cy="193.5" r="1.3"/><circle cx="318.9" cy="195" r="1.3"/><circle cx="321.1" cy="196.2" r="1.3"/><circle cx="323.3" cy="198.4" r="1.3"/><circle cx="325.5" cy="200.1" r="1.3"/><circle cx="327.7" cy="201.7" r="1.3"/><circle cx="329.9" cy="204" r="1.3"/><circle cx="332.1" cy="204.7" r="1.3"/><circle cx="334.3" cy="205.7" r="1.3"/><circle cx="336.5" cy="206" r="1.3"/><circle cx="338.7" cy="206.9" r="1.3"/><circle cx="340.9" cy="206.6" r="1.3"/><circle cx="343.1" cy="207" r="1.3"/><circle cx="345.3" cy="206.7" r="1.3"/><circle cx="347.5" cy="207.1" r="1.3"/><circle cx="349.7" cy="207.4" r="1.3"/><circle cx="351.9" cy="207.3" r="1.3"/><circle cx="354.1" cy="207.3" r="1.3"/><circle cx="356.3" cy="207.4" r="1.3"/><circle cx="358.5" cy="207.4" r="1.3"/><circle cx="360.7" cy="207.6" r="1.3"/><circle cx="362.9" cy="207.3" r="1.3"/><circle cx="365.1" cy="207.6" r="1.3"/><circle cx="367.3" cy="207.5" r="1.3"/><circle cx="369.5" cy="208.1" r="1.3"/><circle cx="371.7" cy="208.2" r="1.3"/></g>
<polyline points="224.3,203.9 225.3,203.9 226.3,203.9 227.3,203.9 228.3,203.8 229.3,203.8 230.3,203.7 231.3,203.6 232.3,203.5 233.3,203.3 234.3,203.1 235.3,202.8 236.3,202.5 237.3,202.2 238.3,201.7 239.3,201.2 240.3,200.6 241.3,200 242.3,199.2 243.3,198.4 244.3,197.4 245.3,196.4 246.3,195.3 247.3,194.1 248.3,192.9 249.3,191.6 250.3,190.2 251.3,188.8 252.3,187.5 253.3,186.1 254.3,184.8 255.3,183.5 256.3,182.4 257.3,181.3 258.3,180.4 259.3,179.7 260.3,179.1 261.3,178.7 262.3,178.5 263.3,178.5 264.3,178.7 265.3,179.1 266.3,179.6 267.3,180.4 268.3,181.2 269.3,182.2 270.3,183.3 271.3,184.5 272.3,185.6 273.3,186.8 274.3,187.9 275.3,189 276.3,189.9 277.3,190.7 278.3,191.4 279.3,191.8 280.3,192 281.3,192 282.3,191.7 283.3,191.2 284.3,190.5 285.3,189.5 286.3,188.3 287.3,186.9 288.3,185.4 289.3,183.8 290.3,182.1 291.3,180.4 292.3,178.8 293.3,177.3 294.3,176 295.3,174.9 296.3,174.1 297.3,173.6 298.3,173.4 299.3,173.5 300.3,173.9 301.3,174.7 302.3,175.7 303.3,177 304.3,178.5 305.3,180.1 306.3,181.8 307.3,183.5 308.3,185.2 309.3,186.8 310.3,188.2 311.3,189.5 312.3,190.7 313.3,191.7 314.3,192.5 315.3,193.3 316.3,193.9 317.3,194.5 318.3,195.1 319.3,195.7 320.3,196.3 321.3,197 322.3,197.8 323.3,198.6 324.3,199.5 325.3,200.3 326.3,201.2 327.3,202.1 328.3,202.9 329.3,203.7 330.3,204.4 331.3,205 332.3,205.5 333.3,205.9 334.3,206.3 335.3,206.5 336.3,206.8 337.3,206.9 338.3,207.1 339.3,207.2 340.3,207.2 341.3,207.3 342.3,207.4 343.3,207.4 344.3,207.4 345.3,207.5 346.3,207.5 347.3,207.5 348.3,207.6 349.3,207.6 350.3,207.6 351.3,207.7 352.3,207.7 353.3,207.7 354.3,207.7 355.3,207.8 356.3,207.8 357.3,207.8 358.3,207.9 359.3,207.9 360.3,207.9 361.3,207.9 362.3,208 363.3,208 364.3,208 365.3,208.1 366.3,208.1 367.3,208.1 368.3,208.1 369.3,208.2 370.3,208.2 371.3,208.2 372.3,208.3 373.3,208.3" fill="none" stroke="#b04848" stroke-width="0.75" stroke-linejoin="round" />
<line x1="302.6" y1="17" x2="302.6" y2="48" stroke="#f08a2a" stroke-width="0.9" stroke-dasharray="2,1.5"/>
<line x1="317" y1="40" x2="317" y2="58" stroke="#2a68c0" stroke-width="0.9" stroke-dasharray="2,1.5"/>
<line x1="327.8" y1="38" x2="327.8" y2="56" stroke="#3a9a3a" stroke-width="0.9" stroke-dasharray="2,1.5"/>
<line x1="302.6" y1="64" x2="302.6" y2="92" stroke="#f08a2a" stroke-width="0.9" stroke-dasharray="2,1.5"/>
<line x1="318.2" y1="86" x2="318.2" y2="107" stroke="#2a68c0" stroke-width="0.9" stroke-dasharray="2,1.5"/>
<line x1="327.6" y1="86" x2="327.6" y2="104" stroke="#3a9a3a" stroke-width="0.9" stroke-dasharray="2,1.5"/>
<line x1="306.1" y1="113" x2="306.1" y2="138" stroke="#f08a2a" stroke-width="0.9" stroke-dasharray="2,1.5"/>
<line x1="322.5" y1="138" x2="322.5" y2="157" stroke="#2a68c0" stroke-width="0.9" stroke-dasharray="2,1.5"/>
<line x1="331.3" y1="140" x2="331.3" y2="156" stroke="#3a9a3a" stroke-width="0.9" stroke-dasharray="2,1.5"/>
<line x1="298.3" y1="161.5" x2="298.3" y2="186" stroke="#f08a2a" stroke-width="0.9" stroke-dasharray="2,1.5"/>
<line x1="314.3" y1="188" x2="314.3" y2="199" stroke="#2a68c0" stroke-width="0.9" stroke-dasharray="2,1.5"/>
<line x1="324.8" y1="189" x2="324.8" y2="212" stroke="#3a9a3a" stroke-width="0.9" stroke-dasharray="2,1.5"/>
<text x="229.1" y="20.3" font-size="13.2" fill="#111" text-anchor="start" >W 4f</text>
<text x="332" y="38.6" font-size="11.2" fill="#3cb043" text-anchor="start" >W<tspan font-size="8" dy="-4.5">4+</tspan></text>
<line x1="331.2" y1="39" x2="291" y2="47.8" stroke="#3cb043" stroke-width="0.9" />
<line x1="333.8" y1="39.4" x2="327.2" y2="45.6" stroke="#3cb043" stroke-width="0.9" />
<text x="269" y="73.1" font-size="11.6" fill="#2a70c8" text-anchor="start" >W<tspan font-size="8" dy="-4.5">5+</tspan></text>
<line x1="278.2" y1="74.4" x2="277.7" y2="94" stroke="#2a70c8" stroke-width="1.0" />
<path d="M275.3,92.5 L277.6,97.5 L279.9,92.5Z" fill="#2a70c8"/>
<line x1="282.1" y1="71" x2="309" y2="99.8" stroke="#2a70c8" stroke-width="1.0" />
<path d="M306.6,100.2 L311.5,102.6 L309.9,97.3Z" fill="#2a70c8"/>
<text x="268.1" y="170.7" font-size="11.2" fill="#f07828" text-anchor="start" >W<tspan font-size="8" dy="-4.5">6+</tspan></text>
<line x1="268.1" y1="169.4" x2="265.3" y2="175.5" stroke="#f07828" stroke-width="1.0" /><path d="M263,174.5 L264.5,178.2 L267.5,175.8Z" fill="#f07828"/>
<line x1="276.5" y1="170.7" x2="288.5" y2="178.8" stroke="#f07828" stroke-width="1.0" /><path d="M286.5,180 L291,180.5 L288.7,176.6Z" fill="#f07828"/>
<rect x="456.9" y="38.7" width="12.9" height="157.9" fill="#ddecf7" />
<rect x="492.8" y="38.7" width="20.2" height="151.7" fill="#ddecf7" />
<rect x="560.2" y="36.3" width="28.9" height="161.2" fill="#ddecf7" />
<rect x="591.9" y="36.3" width="56.5" height="160.6" fill="#ddecf7" />
<rect x="473.9" y="33.8" width="6.4" height="152.5" fill="#f6bfc0" />
<polyline points="421.6,39.6 422.6,39.8 423.6,40 424.6,40.1 425.6,40.3 426.6,40 427.7,40.2 428.7,38.8 429.7,39.5 430.7,40.3 431.7,39.8 432.7,40.2 433.7,38.9 434.7,39.5 435.7,39.1 436.7,39.6 437.7,39.6 438.7,38.7 439.8,39.1 440.8,39.2 441.8,40.2 442.8,39.9 443.8,39 444.8,40 445.8,38.9 446.8,39.7 447.8,38.9 448.8,38.7 449.8,40.1 450.9,39 451.9,39 452.9,40.2 453.9,40.1 454.9,39.1 455.9,40.2 456.9,39.5 457.9,39.7 458.9,39 459.9,40.1 460.9,39.7 461.9,40.2 463,40.1 464,39.1 465,39.2 466,38.9 467,38.8 468,39.4 680.5,39.4" fill="none" stroke="#333" stroke-width="1.3" stroke-linejoin="round" />
<polyline points="421.6,64.2 422.3,63.9 423,64.2 423.7,64.1 424.4,64 425.1,63.8 425.8,64.1 426.5,64.1 427.2,63.8 427.9,63.8 428.6,63.5 429.3,63.3 430,63.6 430.7,63.6 431.4,63.8 432.1,63.5 432.9,64.1 433.6,63.8 434.3,63.8 435,63.8 435.7,64.5 436.4,64.4 437.1,64.6 437.9,64.5 438.6,64.1 439.3,64.4 440,64.6 440.7,64.7 441.4,64.5 442.1,65.1 442.8,64.8 443.5,64.7 444.2,65.2 444.9,64.8 445.6,65.5 446.3,65.2 447,65.3 447.7,65.2 448.3,64.9 449,64.9 449.7,64.5 450.3,64.3 451,64.5 451.8,64.4 452.5,63.6 453.3,63.6 454,62.8 454.8,62.6 455.6,63.6 456.5,64 457.2,67.3 458,70 458.8,74.2 459.5,78 460.2,80.7 461,83 462,85.5 463,79 464,84.5 464.8,82.3 465.5,80 466.2,76.2 467,72 467.8,68.7 468.5,66 469.2,65.1 469.8,64.5 470.5,63.4 471.1,63.7 471.8,64.7 472.4,65.2 473,65.5 473.8,65.2 474.5,64.9 475.2,64.6 476,64.4 476.7,64.4 477.4,64.8 478.1,64.5 478.8,64.3 479.5,64.3 480.2,64.8 480.8,65.1 481.5,64.8 482.2,64.8 482.9,64.9 483.6,65.1 484.3,64.8 485,65 485.7,65.3 486.4,65.5 487.1,65.8 487.8,65.7 488.5,65.9 489.2,66.3 489.9,66.9 490.6,66.7 491.3,67.1 492,67.3 492.7,67.4 493.4,67.5 494.1,67.6 494.9,68.4 495.6,68.6 496.3,68.5 497,68.8 497.7,68.7 498.3,68.5 499,68.5 499.7,68.3 500.3,67.7 501,67.9 501.7,67.7 502.3,67.3 503,67 503.7,67.1 504.4,66.7 505.1,66.5 505.8,66.3 506.5,66.6 507.2,65.9 507.9,65.7 508.6,66.1 509.3,65.9 510,65.6 510.7,65.3 511.4,65.3 512.1,64.5 512.9,64.4 513.6,64.2 514.3,64 515,63.6 515.7,63.2 516.4,63.2 517.1,63.3 517.9,63.1 518.6,62.7 519.3,62.2 520,62 520.7,61.7 521.4,62 522.1,61.6 522.8,61.6 523.5,61 524.1,61 524.8,61.3 525.5,61.1 526.2,61 526.9,60.6 527.6,60.8 528.2,60.8 528.9,61.1 529.6,61.4 530.3,61.2 531,61.5 531.6,61.4 532.3,61.9 533,61.5 533.6,62.1 534.3,62.5 535,62.3 535.7,62 536.4,62.5 537,62.6 537.7,62.7 538.4,62.6 539.1,62.4 539.8,62.6 540.5,63 541.1,63 541.8,62.5 542.5,62.6 543.2,62.6 543.9,62.6 544.6,63 545.2,62.8 545.9,63.4 546.6,63.3 547.3,63.2 547.3,64 548,63.8 548.7,64.1 549.4,63.9 550.1,64.1 550.7,63.9 551.4,63.9 552.1,63.9 552.8,64 553.5,64.3 554.2,64.2 554.9,63.9 555.6,64.3 556.3,64.5 557,64.4 557.6,64.4 558.3,63.9 559,64.2 559.7,64 560.4,64.3 561,65.2 561.7,65.4 562.4,66.5 563,67 563.7,68.2 564.3,69.8 565,71 565.8,72 566.5,73.3 567.2,72.7 568,72.8 568.8,73.1 569.5,73.5 570.2,74.4 571,74.5 571.7,74.9 572.3,75.7 573,76.3 573.7,77.1 574.3,77.1 575,78 575.6,78.3 576.2,78.4 576.9,78.8 577.5,78.8 578.1,78.8 578.8,78 579.4,78 580,77.5 580.7,76.6 581.3,75.7 582,74.4 582.7,74.1 583.3,73.3 584,72 584.7,71.1 585.4,70.3 586.1,69.9 586.9,68.5 587.6,67.7 588.3,66.9 589,66.6 589.7,65.6 590.4,65.7 591.1,65.4 591.8,65.4 592.4,64.9 593.1,65.3 593.8,65 594.5,65 595.2,64.8 595.9,64.8 596.6,64.5 597.3,64.3 597.9,64.5 598.6,64.3 599.3,64.5 600,64.3 600.7,64.5 601.4,64.4 602.1,64.2 602.8,64 603.4,64.1 604.1,64.2 604.8,64.2 605.5,64.5 606.2,63.8 606.9,64.1 607.6,64.1 608.3,64.2 609,64.3 609.7,64.2 610.3,64.1 611,64.1 611.7,64.1 612.4,64.2 613.1,64 613.8,64 614.5,63.7 615.2,64.1 615.9,63.7 616.6,63.9 617.2,64 617.9,64.1 618.6,64.1 619.3,63.4 620,63.7 620.7,63.6 621.4,63.5 622.1,63.6 622.8,63.4 623.4,63.7 624.1,63.3 624.8,63.5 625.5,63.9 626.2,63.7 626.9,63.5 627.6,63.3 628.3,63.9 629,63.7 629.7,63.3 630.3,63.4 631,63.6 631.7,63.6 632.4,63.3 633.1,63.8 633.8,63.3 634.5,63.2 635.2,63.6 635.9,63.1 636.6,63.5 637.2,63.1 637.9,63.4 638.6,63.2 639.3,63.2 640,63.3 640.7,63.6 641.4,63.3 642.2,63.3 642.9,63.4 643.6,63.1 644.3,63.1 645,63.2 645.8,63.1 646.5,63.1 647.2,63.6 647.9,63 648.6,63.5 649.3,63.6 650.1,63.4 650.8,63 651.5,63.3 652.2,64.4 652.8,65.1 653.5,66.5 654.2,67.2 654.8,68 655.5,68.5 656.2,67.8 656.8,67.2 657.5,67 658.1,66.2 658.8,65 659.4,64.3 660,63.6 660.7,63.6 661.4,63.9 662.1,63.5 662.8,63.3 663.5,63.8 664.2,63.8 664.9,63.5 665.7,63.2 666.4,63.3 667.1,63.4 667.8,63.5 668.5,63.3 669.2,63.7 669.9,63.7 670.6,63.7 671.3,63.7 672,63.1 672.7,63.5 673.4,63.1 674.1,63.7 674.8,63.6 675.6,63.6 676.3,63.1 677,63 677.7,63.6 678.4,63.4 679.1,63.4 679.8,63.3 680.5,63.3" fill="none" stroke="#2f5f80" stroke-width="1.25" stroke-linejoin="round" />
<polyline points="421.6,96.9 422.3,97.1 423,96.6 423.6,96.4 424.3,97 425,96.4 425.6,96.3 426.3,96.6 427,96.4 427.7,96.2 428.4,96.3 429.1,95.8 429.8,96.1 430.5,95.5 431.2,95.5 431.9,95.6 432.6,95.2 433.3,95.2 434,94.8 434.8,95.2 435.5,95.1 436.2,95.9 437,96 437.8,96.6 438.5,97.1 439.2,97.6 440,98.4 440.7,98.6 441.4,98.4 442.1,98.6 442.8,98.4 443.5,98.5 444.2,98.2 444.9,98.3 445.6,98.2 446.3,97.9 447,98 447.7,97.6 448.3,96.5 449,96 449.8,92.8 450.5,89.3 451.1,88.9 451.8,88 452.4,86.9 453,86.5 453.6,85.9 454.2,85.1 454.9,84.1 455.5,83.6 456.2,84.6 456.8,86.2 457.5,87.4 458.2,90.4 459,94.1 459.8,98.6 460.5,102.6 461.5,99.8 462.5,109.2 463.5,101.7 464.5,105.5 465.2,101.2 466,96.9 466.7,95 467.3,93 468,91.2 468.8,90.8 469.5,90.2 470.2,92.1 470.8,93.3 471.5,95 472.1,95.4 472.8,96 473.4,96.3 474,96.9 474.7,97.3 475.3,97.7 476,98 476.7,97.9 477.3,98 478,97.9 478.7,97.5 479.3,98 480,97.7 480.7,97.7 481.4,97.8 482.1,97.8 482.9,98.2 483.6,98.3 484.3,98.2 485,98.2 485.7,98.1 486.4,98.6 487.1,98.3 487.9,98.6 488.6,98.5 489.3,98.6 490,98.8 490.7,98.8 491.4,98.8 492.1,98.7 492.9,99.1 493.6,99.3 494.3,99.3 495,99.1 495.7,99.5 496.4,99.1 497.1,99.4 497.9,99.7 498.6,99.9 499.3,99.7 500,99.8 500.7,99.8 501.4,99.5 502.1,99.4 502.9,99.4 503.6,99.5 504.3,99.2 505,99 505.7,99 506.4,98.8 507.1,98.6 507.9,98.7 508.6,98.6 509.3,98.4 510,98.2 510.7,98.3 511.5,97.6 512.2,97.7 512.9,97.6 513.6,97.3 514.4,97 515.1,97.2 515.8,96.9 516.5,96.6 517.3,96.3 518,96.4 518.7,96.6 519.4,96.1 520.1,95.9 520.8,95.9 521.5,95.8 522.2,96.1 522.8,95.6 523.5,95.5 524.2,95.3 524.9,95.5 525.6,95.2 526.3,95.2 527,95.2 527.7,95.4 528.5,95.5 529.2,95.5 529.9,95.1 530.6,95.3 531.4,95.6 532.1,95.2 532.8,95.3 533.5,95.5 534.3,95.5 535,95.6 535.7,95.8 536.4,95.7 537,95.6 537.7,95.5 538.4,95.5 539.1,95.5 539.8,95.4 540.5,95.7 541.1,95.4 541.8,95.9 542.5,95.7 543.2,95.4 543.9,95.7 544.6,95.7 545.2,95.4 545.9,95.7 546.6,95.4 547.3,95.7 547.3,99.7 548,100 548.8,99.7 549.5,100.2 550.2,100.5 550.9,100.5 551.6,100.3 552.4,100.6 553.1,100.5 553.8,100.7 554.5,101.2 555.3,101.3 556,101.2 556.7,101.2 557.4,101.8 558.1,102.3 558.8,102.3 559.5,103 560.2,103.4 560.8,103.5 561.5,103.7 562.2,104.3 562.9,104.4 563.6,104.6 564.3,104.9 565,105.4 565.7,104.8 566.3,104.8 567,104.2 567.7,104.5 568.4,104.9 569.1,105.2 569.9,105.6 570.6,105.4 571.3,105.9 572,106.2 572.7,106.5 573.4,106.5 574.1,106.3 574.9,106.5 575.6,106.3 576.3,106.3 577,106.6 577.7,106.2 578.3,106.2 579,106 579.7,106 580.3,106.1 581,105.5 581.7,105.5 582.3,105.6 583,105.2 583.7,105.2 584.4,105.1 585.1,105.1 585.8,104.6 586.5,105.1 587.2,104.8 587.9,104.8 588.6,104.8 589.3,104.2 590,104.4 590.7,104.2 591.4,104.3 592.1,104.6 592.9,104.9 593.6,104.9 594.3,104.7 595,104.9 595.7,105 596.4,104.8 597.1,105.3 597.9,105.3 598.6,105.2 599.3,105.4 600,105.2 600.7,105.5 601.4,105.5 602.1,105.4 602.8,105.4 603.5,105.5 604.2,105.5 604.9,106.1 605.6,105.8 606.4,105.8 607.1,106 607.8,106 608.5,106.3 609.2,106.3 609.9,106.3 610.6,106.6 611.3,106.7 612,106.8 612.7,106.8 613.4,107.1 614.1,106.9 614.9,107.1 615.6,107.3 616.3,107.4 617,107.1 617.7,107 618.4,107.6 619.1,107.4 619.9,107.3 620.6,107.3 621.3,107.4 622,107.6 622.7,107.4 623.4,107.3 624.1,107.2 624.7,107.7 625.4,107.5 626.1,107 626.8,107.2 627.5,107.3 628.2,107.1 628.8,106.8 629.5,106.9 630.2,106.8 630.9,107.1 631.6,106.8 632.3,106.7 632.9,106.8 633.6,106.3 634.3,106.7 635,106.5 635.7,106.5 636.4,106.3 637.1,106 637.9,105.8 638.6,105.5 639.3,105.4 640,105.3 640.7,105.4 641.4,105.4 642.1,105 642.9,105 643.6,105 644.3,104.8 645,104.6 645.7,104.1 646.4,104.5 647.1,104.1 647.8,103.8 648.5,103.5 649.2,103.6 649.9,103.6 650.6,103.1 651.3,102.9 652,102.8 652.7,102.7 653.5,102.2 654.2,102.2 654.9,102.3 655.6,101.9 656.4,101.9 657.1,101.4 657.8,101.6 658.5,101.3 659.3,100.8 660,100.8 660.7,100.7 661.4,100.7 662.1,100.6 662.9,100.5 663.6,100.2 664.3,100.3 665,100.1 665.7,100.3 666.4,100 667.1,100.2 667.9,99.9 668.6,99.6 669.3,99.6 670,99.6 670.7,99.3 671.4,99.6 672.1,99.2 672.8,99.5 673.5,99.3 674.2,99.5 674.9,99 675.6,99.3 676.3,99.3 677,99 677.7,98.9 678.4,99 679.1,99.1 679.8,98.8 680.5,98.9" fill="none" stroke="#23708f" stroke-width="1.25" stroke-linejoin="round" />
<polyline points="421.6,124.3 422.3,124.2 423,124.4 423.6,123.8 424.3,123.9 425,124.3 425.6,124 426.3,123.6 427,123.8 427.7,123.5 428.4,123.7 429.1,123.3 429.8,122.8 430.5,123.2 431.2,122.6 431.9,122.7 432.6,122.5 433.3,122.2 434,122.1 434.8,122.7 435.5,122.5 436.2,123.1 437,123.3 437.8,123.7 438.5,124.9 439.2,125 440,125.9 440.7,125.9 441.4,126 442.1,126 442.8,125.5 443.5,125.9 444.2,125.9 444.9,125.5 445.6,125.7 446.3,125.4 447,125.5 447.7,124.6 448.3,123.8 449,123.3 449.8,119.7 450.5,116.3 451.1,115.7 451.8,114.8 452.4,114.3 453,113.3 453.6,112.8 454.2,111.6 454.9,111 455.5,110.3 456.2,111.4 456.8,113 457.5,114.3 458.2,117.9 459,121.3 459.8,125.9 460.5,130.3 461.5,127.3 462.5,137.3 463.5,129.3 464.5,133.3 465.2,128.6 466,124.3 466.7,122.4 467.3,120.1 468,118.3 468.8,118 469.5,117.3 470.2,118.9 470.8,120.4 471.5,122.3 472.1,123.1 472.8,123.6 473.4,123.7 474,124.3 474.7,125 475.3,125 476,125.5 476.7,125.5 477.3,125.4 478,125.5 478.7,125 479.3,124.9 480,125.1 480.7,125 481.4,125.2 482.1,125.5 482.9,125.6 483.6,125.3 484.3,125.8 485,125.5 485.7,125.5 486.4,125.9 487.1,126.2 487.9,126.3 488.6,126.1 489.3,126.4 490,126.3 490.7,126.2 491.4,126.2 492.1,126.8 492.9,126.7 493.6,126.5 494.3,126.6 495,127 495.7,126.6 496.4,126.8 497.1,127.2 497.9,126.9 498.6,127.1 499.3,127.2 500,127.3 500.7,127.3 501.4,127.1 502.1,127.1 502.9,127.4 503.6,127.3 504.3,127.4 505,126.8 505.7,126.9 506.4,127.3 507.1,126.9 507.9,127.2 508.6,126.8 509.3,126.9 510,126.9 510.7,126.8 511.5,126.5 512.2,126.3 512.9,125.9 513.6,126.2 514.4,125.8 515.1,125.4 515.8,125.4 516.5,125.3 517.3,125.3 518,124.8 518.7,124.4 519.4,124.9 520.1,124.6 520.8,124.2 521.5,124.3 522.2,124.5 522.8,124 523.5,124.2 524.2,124.1 524.9,124.1 525.6,123.7 526.3,123.6 527,123.8 527.7,124.4 528.5,124.1 529.2,124.4 529.9,124.9 530.6,124.9 531.4,125.6 532.1,125.9 532.8,125.9 533.5,126.3 534.3,126.5 535,126.8 535.7,127.1 536.4,127 537.1,127.1 537.8,127.4 538.5,128.1 539.2,128.3 539.9,128.1 540.6,128.5 541.3,128.4 542,128.8 542.7,129 543.3,129.1 544,129.4 544.6,129.7 545.3,129.9 546,130.1 546.6,130.2 547.3,130.2 547.3,133.5 548,133.6 548.8,133.6 549.5,134.1 550.2,134.2 550.9,134 551.6,134.3 552.4,134.2 553.1,134.8 553.8,135 554.5,134.6 555.3,135.1 556,135.2 556.7,135.7 557.4,136 558.1,136.2 558.8,136.1 559.5,136.7 560.2,136.9 560.8,137.3 561.5,137.5 562.2,137.7 562.9,138.2 563.6,138.2 564.3,138.5 565,139 565.7,138.7 566.3,138.5 567,138 567.7,138.2 568.4,138.6 569.1,139.2 569.9,139.5 570.6,140.4 571.3,140.4 572,141 572.7,140.8 573.4,141.2 574.1,141.3 574.8,141.4 575.4,141.5 576.1,141.3 576.8,141.5 577.5,141.8 578.2,141.6 578.9,141 579.6,141 580.2,140.6 580.9,140.7 581.6,140.3 582.3,140.1 583,139.8 583.7,139.2 584.5,138.9 585.2,138.5 585.9,138 586.6,137.7 587.4,137.2 588.1,136.9 588.8,136.3 589.5,135.7 590.3,135.2 591,135 591.7,134.8 592.4,134.8 593.1,134.8 593.8,135.2 594.5,135.2 595.2,135 595.8,135.4 596.5,135 597.2,135.1 597.9,135.3 598.6,135.1 599.3,135.2 600,135.3 600.7,135.3 601.4,135.6 602.1,135.3 602.8,135.6 603.4,135.8 604.1,135.9 604.8,136.1 605.5,135.9 606.2,136.1 606.9,135.9 607.6,136.1 608.3,136.4 609,136.6 609.7,136.3 610.3,136.3 611,136.7 611.7,136.4 612.4,136.6 613.1,136.5 613.8,137 614.5,137.1 615.2,136.8 615.9,137.3 616.6,137.1 617.2,137.2 617.9,137.4 618.6,137.4 619.3,137.6 620,137.6 620.7,137.4 621.4,137.5 622.1,137.7 622.8,137.2 623.4,137.3 624.1,137.2 624.8,137.2 625.5,137 626.2,137.3 626.9,137.1 627.6,136.8 628.3,137.2 629,136.9 629.7,136.7 630.3,136.9 631,136.6 631.7,136.8 632.4,136.9 633.1,136.6 633.8,136.5 634.5,136.5 635.2,136.3 635.9,136.6 636.6,136.3 637.2,136.2 637.9,136.6 638.6,136.5 639.3,136.1 640,136.2 640.7,136.2 641.4,135.7 642.1,135.7 642.9,135.6 643.6,135.3 644.3,135.1 645,135.5 645.7,135.1 646.4,134.9 647.1,134.7 647.9,135 648.6,134.8 649.3,134.3 650,134.4 650.8,134.9 651.5,134.7 652.2,134.9 653,135.4 653.8,135.6 654.5,136.1 655.2,136 656,136.6 656.8,136 657.5,135.5 658.2,135.2 659,134.8 659.7,134.6 660.4,134.8 661.1,134.8 661.8,134.8 662.5,134.3 663.2,134.5 663.9,134.7 664.5,134.4 665.2,134.4 665.9,134.6 666.6,134.4 667.3,134.1 668,134 668.7,134.4 669.4,134 670.1,134.1 670.8,134.1 671.5,133.9 672.2,134 672.9,134.1 673.6,133.9 674.3,133.8 675,133.6 675.6,133.8 676.3,133.5 677,133.8 677.7,133.7 678.4,133.7 679.1,133.5 679.8,133.7 680.5,133.4" fill="none" stroke="#46a2bf" stroke-width="1.2" stroke-linejoin="round" />
<polyline points="421.6,150.4 422.3,150.2 423,150.3 423.6,150 424.3,150.1 425,149.8 425.6,149.8 426.3,149.9 427,149.9 427.7,149.5 428.4,149.5 429.1,149.6 429.8,149 430.5,149.2 431.2,148.7 431.9,149 432.6,148.8 433.3,148.3 434,148.3 434.8,148.8 435.5,149 436.2,148.9 437,149.5 437.8,150 438.5,150.8 439.2,151.6 440,151.9 440.7,151.7 441.4,151.7 442.1,152 442.8,152 443.5,151.5 444.2,151.4 444.9,151.8 445.6,151.5 446.3,151.5 447,151.5 447.7,151.1 448.3,150.3 449,149.5 449.8,146.2 450.5,142.8 451.1,142.3 451.8,141.5 452.4,140.8 453,140 453.6,139.3 454.2,138.6 454.9,137.5 455.5,137.1 456.2,138.6 456.8,139.9 457.5,140.9 458.2,144.1 459,147.6 459.8,151.9 460.5,156.1 461.5,153.2 462.5,162.8 463.5,155.2 464.5,159 465.2,154.4 466,150.4 466.7,148.5 467.3,146.7 468,144.7 468.8,144.1 469.5,143.8 470.2,145.3 470.8,147.1 471.5,148.5 472.1,148.8 472.8,149.4 473.4,149.7 474,150.4 474.7,150.7 475.3,151.4 476,151.5 476.7,151.5 477.3,151.1 478,151.6 478.7,151.4 479.3,151.2 480,151.2 480.7,151.1 481.4,151.2 482.1,151.2 482.9,151.6 483.6,151.3 484.3,151.9 485,151.5 485.7,151.9 486.4,151.9 487.1,151.9 487.9,151.9 488.6,152.1 489.3,152.1 490,152.3 490.7,152.7 491.4,152.5 492.1,152.5 492.9,152.7 493.6,152.6 494.3,152.5 495,152.5 495.7,153.1 496.4,153.1 497.1,152.7 497.9,153.1 498.6,153.3 499.3,153.4 500,153.2 500.7,153 501.4,153 502.1,153.1 502.9,153.2 503.6,152.9 504.3,153.2 505,153.2 505.7,153 506.4,153.2 507.1,152.9 507.9,153.2 508.6,152.9 509.3,152.8 510,152.9 510.7,152.6 511.5,152.6 512.2,152.6 512.9,151.9 513.6,152 514.4,152 515.1,151.7 515.8,151.3 516.5,151.2 517.3,151.3 518,150.9 518.7,150.6 519.4,151 520.1,150.6 520.8,150.6 521.5,150.6 522.2,150.5 522.8,150.4 523.5,150.5 524.2,150.3 524.9,150.4 525.6,150.2 526.3,150.1 527,149.9 527.7,149.9 528.5,150.7 529.2,150.5 529.9,150.8 530.6,150.9 531.4,151.6 532.1,151.7 532.8,152.1 533.5,152.4 534.3,152.8 535,152.8 535.7,153.1 536.4,153.4 537.1,153.3 537.8,153.3 538.5,153.9 539.2,154.2 539.9,154.1 540.6,154.5 541.3,154.5 542,154.7 542.7,155.1 543.3,156 544,156 544.6,156.8 545.3,157.5 546,157.7 546.6,158.5 547.3,159 547.3,161.6 548,161.6 548.8,161.7 549.5,161.9 550.2,162.2 550.9,162.3 551.6,162.4 552.4,162.6 553.1,162.5 553.8,162.7 554.5,162.5 555.3,163 556,163 556.7,163.3 557.4,163.6 558.1,163.9 558.8,164.3 559.5,164.4 560.2,164.8 560.8,164.8 561.5,164.8 562.2,165.4 562.9,165.6 563.6,165.8 564.3,165.7 565,166.2 565.7,166 566.3,165.6 567,165.4 567.7,165.9 568.4,166.5 569.1,166.7 569.9,166.9 570.6,167.4 571.3,168.1 572,168.5 572.7,168.8 573.4,168.5 574.1,168.9 574.8,169 575.4,169.2 576.1,169.4 576.8,169.5 577.5,169.6 578.2,169.2 578.9,169.3 579.6,169 580.2,168.8 580.9,168.1 581.6,168 582.3,167.6 583,167.5 583.7,166.8 584.5,166.8 585.2,166.2 585.9,165.7 586.6,165.4 587.4,165 588.1,164.3 588.8,163.6 589.5,163.6 590.3,163 591,162.5 591.7,162.4 592.4,162.3 593.1,162.4 593.8,162.6 594.5,162.6 595.2,162.1 595.8,162.1 596.5,162.6 597.2,162.3 597.9,162.3 598.6,162.4 599.3,162.2 600,162.2 600.7,162.1 601.4,162.4 602.1,162.3 602.8,161.9 603.4,162 604.1,162.4 604.8,162.3 605.5,162.4 606.2,162.3 606.9,162.4 607.6,162.2 608.3,162.2 609,162.2 609.7,162.2 610.3,162.6 611,162.5 611.7,162.3 612.4,162 613.1,162.6 613.8,162.5 614.5,162.4 615.2,162.6 615.9,162.5 616.6,162.4 617.2,162.3 617.9,162.5 618.6,162.3 619.3,162.2 620,162.4 620.7,162.2 621.4,162.1 622.1,162.5 622.8,162.3 623.4,162.6 624.1,162.6 624.8,162.2 625.5,162.1 626.2,162.5 626.9,162.5 627.6,162.2 628.3,162.4 629,162.5 629.7,162.2 630.3,162.2 631,162.2 631.7,162.4 632.4,162.3 633.1,162.4 633.8,161.9 634.5,161.9 635.2,161.9 635.9,162.3 636.6,161.9 637.2,161.8 637.9,161.8 638.6,161.7 639.3,162 640,162 640.7,162.1 641.4,161.8 642.1,161.7 642.9,161.7 643.6,162 644.3,161.6 645,161.7 645.7,161.9 646.4,161.8 647.1,162.1 647.9,162.1 648.6,161.8 649.3,161.9 650,161.8 650.8,162.1 651.5,162.6 652.2,162.6 653,163.2 653.8,163.2 654.5,163.8 655.2,163.8 656,164 656.8,163.6 657.5,163.4 658.2,162.9 659,162.4 659.7,162.2 660.4,162.4 661.1,162.6 661.8,162.3 662.5,162.7 663.2,162.2 663.9,162.3 664.5,162.2 665.2,162.2 665.9,162.2 666.6,162.5 667.3,162.5 668,162.6 668.7,162.1 669.4,162.6 670.1,162.5 670.8,162.2 671.5,162.4 672.2,162.4 672.9,162.2 673.6,162.2 674.3,162.1 675,162.2 675.6,162.5 676.3,162.2 677,162.4 677.7,162.3 678.4,162.2 679.1,162.3 679.8,162.1 680.5,162.3" fill="none" stroke="#6cb6cc" stroke-width="1.2" stroke-linejoin="round" />
<polyline points="421.6,176.3 422.3,176.2 423,176 423.6,176.2 424.3,175.9 425,176 425.6,176.2 426.3,175.6 427,175.8 427.7,175.6 428.4,175.6 429.1,175.1 429.8,175 430.5,175.2 431.2,175.1 431.9,174.6 432.6,174.3 433.3,174.7 434,174.2 434.8,174.4 435.5,174.8 436.2,175.1 437,175.4 437.8,176 438.5,176.8 439.2,177.5 440,177.8 440.7,177.9 441.4,177.9 442.1,177.9 442.8,177.8 443.5,177.6 444.2,177.4 444.9,177.4 445.6,177.8 446.3,177.6 447,177.4 447.7,176.5 448.3,176.3 449,175.4 449.8,171.9 450.5,168.7 451.1,168.1 451.8,167.3 452.4,166.4 453,165.9 453.6,165 454.2,164.5 454.9,163.7 455.5,163 456.2,164.3 456.8,165.7 457.5,166.8 458.2,170.3 459,173.5 459.8,177.9 460.5,182 461.5,179.2 462.5,188.7 463.5,181.1 464.5,184.9 465.2,180.7 466,176.3 466.7,174.7 467.3,172.5 468,170.6 468.8,170.4 469.5,169.7 470.2,171.4 470.8,173 471.5,174.4 472.1,174.7 472.8,175.4 473.4,175.8 474,176.3 474.7,176.4 475.3,177 476,177.4 476.7,177.4 477.3,177 478,177 478.7,177.2 479.3,177.1 480,177.1 480.7,177.4 481.4,177.4 482.1,177.5 482.9,177.6 483.6,177.3 484.3,177.7 485,177.4 485.7,177.5 486.4,177.7 487.1,177.7 487.9,177.7 488.6,178 489.3,178.4 490,178.2 490.7,178 491.4,178.2 492.1,178.7 492.9,178.5 493.6,178.5 494.3,178.6 495,178.9 495.7,178.7 496.4,178.8 497.1,178.8 497.9,179.1 498.6,178.7 499.3,179 500,179.2 500.7,179.2 501.4,178.8 502.1,179 502.9,178.9 503.6,179.1 504.3,179 505,179 505.7,178.8 506.4,178.9 507.1,179.1 507.9,178.6 508.6,178.6 509.3,178.6 510,178.8 510.7,178.3 511.5,178.2 512.2,178.1 512.9,178.2 513.6,178.1 514.4,177.4 515.1,177.5 515.8,177.2 516.5,177.4 517.3,177.3 518,176.8 518.7,176.8 519.4,176.3 520.1,176.6 520.8,176.4 521.5,176.4 522.2,176.2 522.8,176 523.5,176.3 524.2,176.3 524.9,175.9 525.6,175.9 526.3,175.6 527,175.8 527.7,176.1 528.5,176.5 529.2,176.6 529.9,176.6 530.6,176.9 531.4,177.6 532.1,177.8 532.8,177.8 533.5,178.2 534.3,178.2 535,178.7 535.7,178.9 536.4,178.8 537.1,179.1 537.8,179.4 538.5,179.6 539.2,179.7 539.9,180.1 540.6,180 541.3,180.6 542,180.6 542.7,181.1 543.3,181.3 544,181.9 544.6,181.8 545.3,182.6 546,182.4 546.6,183.1 547.3,183.4 547.3,187.8 548,187.7 548.8,187.8 549.5,188 550.2,188.1 550.9,188 551.6,188.3 552.4,188.8 553.1,188.8 553.8,188.8 554.5,189.1 555.3,188.9 556,189 556.7,189.4 557.4,189.7 558.1,189.8 558.8,190 559.5,190.1 560.2,190.8 560.8,190.7 561.5,190.8 562.2,191.1 562.9,191.7 563.6,191.7 564.3,192.2 565,192.3 565.7,192.1 566.3,192.1 567,191.6 567.7,192.2 568.4,192.7 569.1,192.7 569.9,193 570.6,193.4 571.3,193.9 572,194.5 572.7,194.4 573.4,194.5 574.1,195 574.8,194.9 575.4,194.9 576.1,195.2 576.8,195.1 577.5,195.4 578.2,195.1 578.9,194.9 579.6,194.4 580.2,194.7 580.9,194.4 581.6,193.9 582.3,193.8 583,193.5 583.7,192.7 584.5,192.4 585.2,192 585.9,191.4 586.6,190.7 587.4,190.4 588.1,189.7 588.8,189.4 589.5,189 590.3,188.3 591,187.8 591.7,188 592.4,187.9 593.1,187.5 593.8,187.9 594.5,187.7 595.2,187.6 595.8,187.5 596.5,187.7 597.2,187.3 597.9,187.5 598.6,187.3 599.3,187.4 600,187.3 600.7,187.4 601.4,187.3 602.1,187.4 602.8,187 603.4,187.1 604.1,187.2 604.8,187.2 605.5,187.2 606.2,187.2 606.9,187.2 607.6,187.3 608.3,187.1 609,187.1 609.7,187.5 610.3,187.4 611,187.5 611.7,187.2 612.4,187.5 613.1,187.3 613.8,187.3 614.5,187 615.2,187.1 615.9,187.4 616.6,187.5 617.2,187.2 617.9,187.5 618.6,187.4 619.3,187 620,187.3 620.7,187.1 621.4,187.6 622.1,187.3 622.8,187 623.4,187.4 624.1,187.2 624.8,187.1 625.5,187.6 626.2,187.2 626.9,187.4 627.6,187.2 628.3,187.5 629,187.4 629.7,187.2 630.3,187.2 631,187.6 631.7,187.4 632.4,187.6 633.1,187.1 633.8,187.3 634.5,187.4 635.2,187.6 635.9,187.5 636.6,187.3 637.2,187.5 637.9,187.5 638.6,187.2 639.3,187.2 640,187.3 640.7,187.3 641.4,187.6 642.1,187.4 642.9,187.2 643.6,187.4 644.3,187 645,187.3 645.7,187.3 646.4,187.4 647.1,187.5 647.9,187 648.6,187.3 649.3,187.2 650,187.2 650.8,187.4 651.5,187.9 652.2,188.1 653,188.6 653.8,188.6 654.5,189.2 655.2,189.3 656,189.4 656.8,188.8 657.5,188.5 658.2,187.9 659,187.8 659.7,187.7 660.4,187.7 661.1,187.5 661.8,187.6 662.5,187.8 663.2,188.1 663.9,187.7 664.5,188.1 665.2,187.6 665.9,188 666.6,187.6 667.3,187.9 668,187.6 668.7,188.1 669.4,188.1 670.1,187.7 670.8,188.1 671.5,188 672.2,187.6 672.9,188.1 673.6,187.8 674.3,187.8 675,187.8 675.6,187.7 676.3,188.1 677,188 677.7,188 678.4,188.1 679.1,187.7 679.8,188 680.5,187.9" fill="none" stroke="#92cad9" stroke-width="1.2" stroke-linejoin="round" />
<text x="425.4" y="16.4" font-size="11" fill="#111" text-anchor="start" textLength="61.8" lengthAdjust="spacingAndGlyphs" >Ni<tspan font-size="7.8" dy="3">0.66</tspan><tspan dy="-3">-W</tspan><tspan font-size="7.8" dy="3">18</tspan><tspan dy="-3">O</tspan><tspan font-size="7.8" dy="3">49</tspan></text>
<text x="467.6" y="30.5" font-size="12" fill="#ef4b4f" text-anchor="start" >v<tspan font-size="8.5" dy="3.6">C-O-C</tspan></text>
<text x="523.7" y="35.6" font-size="10.6" fill="#111" text-anchor="start" >Dark</text>
<text x="564.6" y="30.5" font-size="12" fill="#111" text-anchor="start" >v<tspan font-size="8.5" dy="3.6">CH</tspan><tspan font-size="6.5" dy="2">3</tspan></text>
<text x="608.7" y="30.3" font-size="12" fill="#111" text-anchor="start" >v<tspan font-size="8" dy="3.6">O-H</tspan></text>
<text x="522.3" y="55.4" font-size="10.6" fill="#111" text-anchor="start" textLength="102" lengthAdjust="spacingAndGlyphs" >Adsorption for 30 min</text>
<text x="526" y="90.6" font-size="10.6" fill="#111" text-anchor="start" >UV-Vis-NIR light for 5 min</text>
<text x="526.3" y="119" font-size="10.6" fill="#111" text-anchor="start" >10 min</text>
<text x="526.3" y="147.8" font-size="10.6" fill="#111" text-anchor="start" >15 min</text>
<text x="527.9" y="174" font-size="10.6" fill="#111" text-anchor="start" >20 min</text>
<text x="449.7" y="202.7" font-size="12" fill="#111" text-anchor="start" >v<tspan font-size="8.5" dy="3">C-O</tspan></text>
<text x="491.6" y="202.7" font-size="12" fill="#111" text-anchor="start" >δ<tspan font-size="8.5" dy="3">CH</tspan><tspan font-size="6.5" dy="2">3</tspan></text>
<rect x="63.1" y="286" width="13.2" height="153.3" fill="#ddecf7" />
<rect x="100.4" y="286" width="20.3" height="151.1" fill="#ddecf7" />
<rect x="168.5" y="284.1" width="29.4" height="160.4" fill="#ddecf7" />
<rect x="200.3" y="284.1" width="57.7" height="160.4" fill="#ddecf7" />
<rect x="80.8" y="281.6" width="6.1" height="145" fill="#f6bfc0" />
<polyline points="27.2,287.9 28.2,288.4 29.2,288.4 30.2,287.9 31.2,287.5 32.2,287.1 33.2,288.1 34.2,287.8 35.2,288.3 36.2,287.6 37.2,288.3 38.2,287.5 39.1,288.3 40.1,288.2 41.1,287.7 42.1,287.9 43.1,288.1 44.1,287.3 45.1,287.9 46.1,288.3 47.1,287.4 48.1,288.3 49.1,288.1 50.1,288.3 51.1,287.5 52.1,287.1 53.1,288.2 54.1,288.2 55.1,287.6 56.1,287.1 57.1,287.2 58.1,287.9 59.1,287.4 60.1,288.4 61.1,287.8 62.1,287.2 63,287.9 64,287.4 65,288.4 66,288.3 67,287.7 68,287.9 69,288 70,288.1 71,288.4 72,286.9 73,287.4 74,287.8 75,287.6 289,287.8" fill="none" stroke="#333" stroke-width="1.3" stroke-linejoin="round" />
<polyline points="27.2,311.7 27.9,311.6 28.6,311.4 29.3,311.3 30,311.8 30.7,311.5 31.5,311.6 32.2,311.4 32.9,311.3 33.6,311.5 34.3,311.3 35,311.2 35.7,311.5 36.4,311.5 37.1,311.7 37.9,311.5 38.6,311.4 39.3,311.5 40,312 40.7,311.7 41.4,312.1 42.1,312.1 42.9,311.8 43.6,312.4 44.3,312 45,312.4 45.7,312.6 46.4,312.5 47.1,312 47.9,312.3 48.6,312.2 49.3,311.7 50,312 50.7,311.6 51.4,312 52.1,311.8 52.9,312 53.6,311.2 54.3,311.3 55,311.4 55.7,311.4 56.4,311.4 57.1,311 57.9,311.4 58.6,311.4 59.3,310.9 60,311 60.7,310.2 61.4,309.9 62.1,309.1 62.8,308.6 63.6,310.4 64.5,312 65.2,315.3 65.8,318.6 66.5,322 67.2,324.7 68,328 69,331 70,327 71,330 71.8,325.7 72.5,322 73.2,316.8 74,311.7 74.7,312.2 75.3,312.2 76,312.6 76.7,313 77.4,313 78.1,313.4 78.8,313.4 79.5,313.4 80.2,313.7 80.9,313.3 81.6,313.2 82.3,313.1 83,313.6 83.7,313.5 84.5,313.3 85.2,312.7 85.9,313 86.6,312.5 87.3,313 88,312.6 88.7,312.6 89.4,312.5 90,312.2 90.7,312 91.4,312.1 92.1,312.1 92.8,311.4 93.5,311.4 94.1,311.5 94.8,311.3 95.5,311 96.2,311.3 97,311.7 97.8,312.4 98.5,312.3 99.2,312.6 100,313.2 100.7,313.8 101.4,313.9 102.1,314.8 102.8,314.9 103.6,315.7 104.3,315.8 105,316.6 105.7,316.8 106.4,316.7 107.1,316.5 107.8,315.9 108.6,315.6 109.3,315.3 110,315.4 110.7,315.3 111.3,315.8 112,315.6 112.7,315.8 113.3,316.2 114,316.1 114.7,316.4 115.3,316.5 116,316.8 116.7,316.6 117.4,315.8 118.1,316 118.8,315.4 119.5,315.1 120.2,314.6 120.8,314.2 121.5,314.2 122.2,313.8 122.9,313.3 123.6,312.4 124.3,312.4 125,312 125.7,312 126.4,311.4 127.1,311 127.9,310.8 128.6,310.1 129.3,310.1 130,309.8 130.7,309 131.4,309 132.2,308.7 132.9,308.2 133.6,308.1 134.3,307.6 135,308.1 135.7,308.4 136.4,308.2 137.2,308.4 137.9,309.1 138.6,309.2 139.3,309.6 140,309.6 140.7,309.9 141.4,309.6 142.1,309.9 142.8,309.8 143.5,310.2 144.3,310.2 145,310 145.7,310.2 146.4,310.4 147.1,310.2 147.8,310.3 148.5,310.6 149.2,310.4 149.9,310.7 150.6,311.1 151.4,311.1 152.1,310.7 152.8,311.3 153.5,311.3 154.2,311.4 154.9,311.3 154.9,311 155.6,310.9 156.3,311.6 157,311.4 157.7,312 158.5,311.8 159.2,312.1 159.9,312.1 160.6,312.8 161.3,312.6 162,313.2 162.7,313.2 163.4,313.1 164.1,313.6 164.8,313.7 165.6,313.6 166.3,314.3 167,314.2 167.7,314.2 168.4,314.7 169.1,315.4 169.8,316 170.6,316.3 171.3,316.7 172,317.5 172.6,318.4 173.2,319.3 173.9,320.2 174.5,320.9 175.2,320.4 175.8,320 176.5,319.5 177.2,320.3 177.9,320.5 178.6,321.1 179.3,321.9 180,322.5 180.7,323.1 181.4,323.6 182.2,324.1 182.9,324.2 183.6,324.8 184.4,324.8 185.1,325.5 185.8,326 186.5,325.1 187.2,325.1 187.9,324.6 188.6,323.8 189.3,323.3 190,322.5 190.7,321.7 191.4,321.4 192.1,320.2 192.8,319.7 193.5,319 194.2,318.7 194.8,317.5 195.5,316.8 196.2,316.1 196.9,316 197.6,314.9 198.3,314.7 199,313.7 199.7,313.6 200.4,314 201.1,313.6 201.8,314.2 202.5,314.3 203.2,314.3 203.9,314.2 204.6,314.4 205.3,314.4 206,314.5 206.7,314.1 207.3,314.5 208,314.5 208.7,314.3 209.4,314.2 210.1,314.7 210.8,314.5 211.5,314.6 212.2,314.9 212.9,314.6 213.6,314.5 214.3,314.9 215,314.8 215.7,314.8 216.4,314.6 217.1,314.9 217.8,315 218.5,314.5 219.2,314.9 219.9,314.8 220.6,314.6 221.3,314.4 222,314.7 222.7,314.4 223.3,314.4 224,314.8 224.7,314.3 225.4,314.2 226.1,314.7 226.8,314.8 227.5,314.3 228.2,314.3 228.9,314.4 229.6,314.5 230.3,314 231,314.4 231.7,314.3 232.4,314 233.1,314.4 233.8,313.9 234.5,314.2 235.2,313.8 235.9,313.8 236.6,313.3 237.3,313.3 238,313.3 238.7,313.2 239.4,313 240.1,313 240.8,312.7 241.5,312.9 242.2,313.1 242.9,313 243.6,312.7 244.3,312.8 245,312.4 245.7,312.5 246.4,312.3 247.1,312.1 247.8,311.8 248.5,312.3 249.2,312.2 249.9,312.1 250.6,311.9 251.3,312 252,312 252.7,311.9 253.4,311.7 254.1,311.1 254.8,311.7 255.5,311.3 256.2,311.2 256.9,311.1 257.6,310.9 258.3,311 259,310.9 259.8,311.6 260.5,311.9 261.3,311.8 262,312.3 262.6,313.3 263.2,313.9 263.9,314.6 264.5,315 265.2,315.3 265.8,315.5 266.5,315.8 267.2,315.3 267.8,314.8 268.5,314.5 269.2,314.2 269.9,313.6 270.6,313 271.2,312.2 271.9,311.6 272.6,311 273.3,311.1 274,310.8 274.7,310.8 275.5,311.3 276.2,310.8 276.9,310.8 277.6,310.9 278.3,310.6 279,310.9 279.7,310.7 280.4,311.1 281.2,310.6 281.9,311.1 282.6,310.7 283.3,311.1 284,311.1 284.7,311.2 285.4,310.6 286.1,311.2 286.9,310.6 287.6,310.7 288.3,310.5 289,310.8" fill="none" stroke="#1f4a6e" stroke-width="1.25" stroke-linejoin="round" />
<polyline points="27.2,345.6 27.9,345.6 28.6,345.1 29.4,345.1 30.1,344.9 30.8,345.1 31.6,345 32.3,345 33,344.6 33.7,344.1 34.4,344.1 35.1,343.7 35.8,343.5 36.5,343.5 37.2,343 37.9,342.9 38.6,342.9 39.3,342.6 40,343.1 40.8,343.4 41.5,344.2 42.3,344.8 43,345.1 43.7,345.1 44.3,346 45,346.2 45.7,346.3 46.3,346.6 47,347.1 47.7,347.4 48.3,347.1 49,347 49.6,347 50.3,347.5 50.9,347.4 51.6,347.4 52.4,346.3 53.2,345 54,343.6 54.6,341.6 55.2,339.9 55.9,337.5 56.5,335.6 57.2,334.4 58,333.3 58.8,331.9 59.5,330.6 60.3,328 61,325 61.8,322.1 62.5,324.4 63.3,326.2 64,328.6 64.7,332.8 65.3,337.1 66,341.6 66.8,346.3 67.5,351.6 68.5,347.6 69.5,354.6 70.5,349.6 71.2,345.4 72,341.6 72.7,339.4 73.3,337.5 74,335.6 74.7,336.7 75.3,337.5 76,338.6 76.6,339.3 77.2,339.9 77.9,340.7 78.5,341.6 79.2,342.2 79.9,342.3 80.6,342.6 81.3,342.6 82,343.1 82.7,343.5 83.5,343.5 84.2,343.9 84.9,344.6 85.6,344.7 86.4,344.9 87.1,345.3 87.8,345.7 88.5,346 89.3,345.9 90,346.4 90.7,346.2 91.4,346.5 92.1,346.5 92.9,346.6 93.6,347.1 94.3,347.1 95,346.9 95.7,347.2 96.4,347.1 97.1,347.5 97.9,347.3 98.6,347.3 99.3,347.4 100,347.6 100.7,347.8 101.5,347.7 102.2,348.1 102.9,348.4 103.6,348.2 104.4,348.2 105.1,348.9 105.8,348.7 106.5,348.6 107.3,348.7 108,349.1 108.7,349 109.5,349.4 110.2,349.7 110.9,349.6 111.6,349.5 112.4,349.8 113.1,350.4 113.8,350.2 114.5,350.6 115.3,350.7 116,350.6 116.7,350.2 117.4,350.4 118.1,350.2 118.8,350 119.5,349.7 120.2,349.8 120.8,349.3 121.5,349.3 122.2,349.2 122.9,349.3 123.6,349.1 124.3,348.6 125,348.6 125.7,348.3 126.4,347.9 127.1,348 127.8,347.7 128.5,347.1 129.2,347.1 129.8,346.8 130.5,346.2 131.2,346.3 131.9,345.9 132.6,345.8 133.3,345.4 134,345.1 134.7,345.1 135.4,345.5 136.1,345.6 136.8,346.4 137.4,346.6 138.1,346.8 138.8,346.7 139.5,346.8 140.2,347.6 140.9,347.9 141.6,347.6 142.2,348.1 142.9,348.1 143.6,348.8 144.3,349 145,349.1 145.7,348.9 146.4,349.2 147.1,349.3 147.8,349.2 148.5,349.6 149.2,349.4 149.9,349.3 150.7,349.5 151.4,349.7 152.1,349.4 152.8,349.5 153.5,350 154.2,349.8 154.9,349.8 154.9,352.5 155.6,352.6 156.3,352.8 157.1,352.7 157.8,352.9 158.5,353.1 159.2,353.4 159.9,353.3 160.7,353.5 161.4,353.5 162.1,354 162.8,353.9 163.6,354.5 164.3,354.6 165,354.5 165.7,354.5 166.4,354.9 167.1,355.4 167.8,355.4 168.5,355.6 169.2,356.4 169.9,356.4 170.6,356.6 171.3,357.1 172,357.2 172.7,357.2 173.3,356.5 174,356.5 174.7,356.6 175.3,357.1 176,357.4 176.7,357.7 177.3,358.2 178,358.5 178.7,359 179.3,358.7 180,359.3 180.7,359.4 181.4,359.6 182.2,360 182.9,359.8 183.6,360 184.4,360.3 185.1,360.5 185.8,360.7 186.5,360.3 187.2,360.1 187.9,360.3 188.6,359.7 189.2,359.8 189.9,359.3 190.6,358.8 191.3,359.1 192,358.6 192.7,358.5 193.4,358.4 194.1,358.1 194.8,357.8 195.5,357.1 196.2,357 196.9,356.6 197.6,356.5 198.3,356 199,356 199.7,356 200.4,356.4 201.1,356.1 201.8,356.5 202.5,356.4 203.2,356.4 203.9,356.8 204.6,356.9 205.3,356.7 206,356.9 206.7,356.7 207.3,356.8 208,357.3 208.7,357.1 209.4,357.2 210.1,357.4 210.8,357.1 211.5,357.5 212.2,357.5 212.9,357.8 213.6,357.4 214.3,358 215,357.8 215.7,357.6 216.4,357.7 217.1,358 217.8,358.1 218.5,357.8 219.2,357.8 219.9,358.3 220.6,357.9 221.3,358.2 222,358.2 222.7,358.2 223.3,358.3 224,358.3 224.7,358.6 225.4,358.2 226.1,358.5 226.8,358.3 227.5,358.4 228.2,358.6 228.9,358.4 229.6,358.5 230.3,358.8 231,358.4 231.7,358.7 232.4,358.6 233.1,358.8 233.8,358.6 234.5,358 235.2,357.9 235.9,357.8 236.6,358.1 237.3,358 238,357.8 238.7,357.4 239.4,357.2 240.1,357.4 240.8,357.2 241.5,357.1 242.2,357.2 242.9,356.9 243.6,356.3 244.3,356.7 245,356.4 245.7,356.1 246.4,356.2 247.1,356.2 247.8,355.6 248.5,355.4 249.2,355.3 249.9,355.4 250.6,355.1 251.3,355.1 252,355.1 252.7,354.6 253.4,354.7 254.1,354.3 254.8,354.3 255.5,354.4 256.2,354.2 256.9,353.7 257.6,353.7 258.3,353.6 259,353.6 259.8,353.6 260.5,354.2 261.3,354.3 262,354.4 262.7,354.5 263.3,354.9 264,355 264.7,355.2 265.3,355.1 266,355.6 266.7,354.9 267.3,355 268,354.6 268.7,354 269.3,353.8 270,353.2 270.7,353.2 271.4,352.9 272.1,352.9 272.8,353 273.5,353.3 274.2,353.2 274.9,353.2 275.6,353.2 276.3,352.8 277,352.8 277.7,352.7 278.4,353.1 279.1,353.1 279.9,352.8 280.6,352.9 281.3,352.6 282,353 282.7,353 283.4,353 284.1,352.9 284.8,352.9 285.5,352.3 286.2,352.7 286.9,352.5 287.6,352.8 288.3,352.7 289,352.5" fill="none" stroke="#255a86" stroke-width="1.25" stroke-linejoin="round" />
<polyline points="27.2,369.6 27.9,369.4 28.6,369.4 29.4,369.1 30.1,369.3 30.8,369 31.6,368.7 32.3,369 33,368.6 33.7,368.6 34.4,368.4 35.1,368 35.8,367.5 36.5,367.4 37.2,367.1 37.9,367.2 38.6,366.5 39.3,366.6 40,367.3 40.8,367.4 41.5,368 42.3,368.7 43,369.1 43.7,369.5 44.3,369.8 45,370.1 45.7,370.5 46.3,370.8 47,371.1 47.7,370.9 48.3,371.1 49,370.9 49.6,371.3 50.3,371.2 50.9,371.2 51.6,371.4 52.4,370 53.2,369.1 54,367.6 54.6,365.4 55.2,363.8 55.9,361.8 56.5,359.6 57.2,358.2 58,357.3 58.8,355.7 59.5,354.6 60.3,351.9 61,348.7 61.8,346.1 62.5,348.2 63.3,350.4 64,352.6 64.7,356.9 65.3,361.5 66,365.6 66.8,370.7 67.5,375.6 68.5,371.6 69.5,378.6 70.5,373.6 71.2,369.3 72,365.6 72.7,363.6 73.3,361.4 74,359.6 74.7,360.4 75.3,361.5 76,362.6 76.6,363.2 77.2,364.1 77.9,365.1 78.5,365.6 79.2,366.1 79.9,366.2 80.6,366.7 81.3,366.6 82,367.1 82.7,367.5 83.5,368 84.2,368.3 84.9,368.3 85.6,368.7 86.4,368.8 87.1,369.2 87.8,369.8 88.5,369.6 89.3,370.3 90,370.4 90.7,370.3 91.4,370.6 92.1,370.7 92.9,370.5 93.6,370.8 94.3,370.6 95,371.3 95.7,371.3 96.4,371.2 97.1,371.4 97.9,371.5 98.6,371.3 99.3,371.3 100,371.6 100.7,371.7 101.5,371.8 102.2,372 102.9,372.2 103.6,372.4 104.4,372.5 105.1,372.3 105.8,372.6 106.5,372.9 107.3,373.2 108,373.1 108.7,372.9 109.5,373.5 110.2,373.5 110.9,373.5 111.6,374 112.4,373.8 113.1,373.9 113.8,374.2 114.5,374.4 115.3,374.3 116,374.6 116.7,374.5 117.4,374.2 118.1,374.3 118.8,373.7 119.5,374 120.2,373.7 120.8,373.3 121.5,373.3 122.2,373.3 122.9,373.1 123.6,372.7 124.3,372.5 125,372.6 125.7,372.1 126.4,372.1 127.1,371.9 127.8,371.3 128.5,371.5 129.2,371 129.8,370.9 130.5,370.3 131.2,370 131.9,369.9 132.6,369.9 133.3,369.3 134,369.1 134.7,369.3 135.4,369.6 136.1,369.6 136.8,369.9 137.4,370.3 138.1,370.8 138.8,370.8 139.5,371.2 140.2,371.3 140.9,371.7 141.6,371.9 142.2,371.8 142.9,372.4 143.6,372.6 144.3,373 145,373.1 145.7,373.2 146.4,373.2 147.1,373.4 147.8,373.8 148.5,374.1 149.2,374.3 149.9,374.1 150.7,374.2 151.4,374.4 152.1,375.1 152.8,375 153.5,374.9 154.2,375.5 154.9,375.5 154.9,379.6 155.6,379.8 156.3,380.1 157.1,379.9 157.8,380.5 158.5,380.4 159.2,380.7 159.9,380.5 160.7,381.1 161.4,381.3 162.1,381.2 162.8,381.4 163.6,381.2 164.3,381.7 165,381.8 165.7,382.2 166.4,382.6 167.1,382.8 167.8,382.8 168.5,383.4 169.2,383.5 169.9,383.5 170.6,383.8 171.3,384.1 172,384.6 172.7,384.1 173.3,384.1 174,383.8 174.7,384.1 175.3,384.5 176,384.7 176.7,385 177.3,385.3 178,385.3 178.7,385.9 179.3,386.2 180,386.5 180.7,386.5 181.4,386.7 182.2,387.3 182.9,387.1 183.6,387.1 184.4,387.2 185.1,387.7 185.8,387.8 186.5,387.8 187.2,387.1 187.9,387.1 188.6,386.8 189.2,386.5 189.9,386.2 190.6,385.8 191.3,385.6 192,385.5 192.7,385 193.4,385 194.1,384.6 194.8,384.5 195.5,384.1 196.2,383.6 196.9,383.6 197.6,383.1 198.3,382.8 199,382.3 199.7,382.5 200.4,382.3 201.1,382.8 201.8,382.6 202.5,382.4 203.2,382.6 203.9,383 204.6,383.1 205.3,382.9 206,382.8 206.7,383.1 207.3,383.3 208,382.9 208.7,383.3 209.4,383.5 210.1,383.4 210.8,383.7 211.5,383.5 212.2,383.5 212.9,383.9 213.6,383.9 214.3,383.6 215,383.8 215.7,383.6 216.4,384 217.1,384 217.8,383.8 218.5,383.7 219.2,384.1 219.9,383.8 220.6,384.1 221.3,384 222,384.1 222.7,384.3 223.3,384.3 224,384.2 224.7,384.1 225.4,384.3 226.1,384.3 226.8,384 227.5,384.4 228.2,384 228.9,384.4 229.6,384.2 230.3,384.1 231,384.2 231.7,384.3 232.4,384.1 233.1,384.1 233.8,383.8 234.5,383.7 235.2,383.7 235.9,383.9 236.6,383.7 237.3,383.6 238,383.2 238.7,383.4 239.4,383.4 240.1,383.2 240.8,383.1 241.5,382.7 242.2,383.2 242.9,382.8 243.6,382.9 244.3,382.6 245,382.5 245.7,382.5 246.4,382.5 247.1,382 247.8,381.9 248.5,381.9 249.2,382 249.9,381.8 250.6,381.8 251.3,382 252,381.7 252.7,381.7 253.4,381.6 254.1,381.2 254.8,381.5 255.5,381 256.2,381.4 256.9,381.3 257.6,381 258.3,381 259,381.2 259.8,381.4 260.5,381.6 261.3,381.4 262,381.8 262.7,381.9 263.3,382.4 264,382.6 264.7,382.4 265.3,382.8 266,383 266.7,382.6 267.3,382.1 268,381.6 268.7,381.3 269.3,381.2 270,380.8 270.7,380.8 271.4,380.8 272.1,380.5 272.8,380.5 273.5,380.6 274.2,380.7 274.9,380.3 275.6,380.4 276.3,380.5 277,380.2 277.7,380.5 278.4,380.5 279.1,380.1 279.9,380.1 280.6,380.1 281.3,380.3 282,380.1 282.7,380 283.4,379.8 284.1,380.2 284.8,380 285.5,379.7 286.2,379.7 286.9,379.5 287.6,379.7 288.3,379.6 289,379.6" fill="none" stroke="#4a98dc" stroke-width="1.2" stroke-linejoin="round" />
<polyline points="27.2,399 27.9,398.8 28.6,398.6 29.4,398.8 30.1,398.4 30.8,398.4 31.6,398.2 32.3,398 33,397.9 33.7,397.8 34.4,397.7 35.1,397 35.8,397.1 36.5,396.6 37.2,396.6 37.9,396.4 38.6,395.8 39.3,395.9 40,396.1 40.8,396.9 41.5,397.6 42.3,398.1 43,398.5 43.7,399 44.3,399 45,399.4 45.7,399.9 46.3,400.1 47,400.6 47.7,400.5 48.3,400.9 49,400.8 49.6,400.7 50.3,400.8 50.9,401 51.6,400.9 52.4,399.7 53.2,398.4 54,396.9 54.6,394.7 55.2,393 55.9,390.8 56.5,388.5 57.2,387 58,385.7 58.8,384.5 59.5,383.2 60.3,380.1 61,377.5 61.8,374.3 62.5,376.3 63.3,379.1 64,381.1 64.7,385.5 65.3,390.4 66,394.8 66.8,400 67.5,405.3 68.5,401.1 69.5,408.4 70.5,403.2 71.2,398.8 72,394.8 72.7,393 73.3,390.6 74,388.5 74.7,389.8 75.3,390.5 76,391.6 76.6,392.3 77.2,393.3 77.9,393.8 78.5,394.8 79.2,395.2 79.9,395.6 80.6,395.8 81.3,395.8 82,396.4 82.7,396.8 83.5,396.9 84.2,397.3 84.9,397.8 85.6,398.2 86.4,398 87.1,398.3 87.8,399 88.5,399.2 89.3,399.6 90,399.8 90.7,400 91.4,400.3 92.1,400.3 92.9,400.5 93.6,400.5 94.3,400.4 95,400.4 95.7,400.4 96.4,400.9 97.1,400.7 97.9,400.8 98.6,400.8 99.3,400.9 100,401.1 100.7,401.2 101.5,401.5 102.2,401.4 102.9,401.5 103.6,401.9 104.4,402.2 105.1,402.1 105.8,402.5 106.5,402.2 107.3,402.7 108,402.7 108.7,402.8 109.5,402.7 110.2,402.9 110.9,403.4 111.6,403.6 112.4,403.3 113.1,403.8 113.8,404.1 114.5,403.8 115.3,404.3 116,404.2 116.7,403.9 117.4,403.7 118.1,403.9 118.8,403.8 119.5,403.6 120.2,403.3 120.8,403.2 121.5,403 122.2,402.9 122.9,402.9 123.6,402.5 124.3,402.2 125,402.1 125.7,401.7 126.4,401.6 127.1,401.5 127.8,401 128.5,400.6 129.2,400.3 129.8,400.3 130.5,399.6 131.2,399.5 131.9,399.1 132.6,399.2 133.3,398.9 134,398.5 134.7,398.8 135.4,398.8 136.1,399.1 136.8,399.4 137.4,400 138.1,400.3 138.8,400.5 139.5,400.6 140.2,400.8 140.9,401.2 141.6,401.4 142.2,401.5 142.9,401.7 143.6,401.9 144.3,402.3 145,402.7 145.7,402.5 146.4,402.8 147.1,402.9 147.8,402.5 148.5,402.9 149.2,402.8 149.9,402.6 150.7,402.8 151.4,402.7 152.1,402.8 152.8,402.8 153.5,403 154.2,402.7 154.9,402.7 154.9,407.2 155.6,407.1 156.3,407.5 157.1,407.6 157.8,407.7 158.5,407.7 159.2,408.2 159.9,408.3 160.7,408.3 161.4,408.2 162.1,408.4 162.8,408.3 163.6,408.3 164.3,408.5 165,408.8 165.7,409.1 166.4,409.5 167.1,409.6 167.8,409.8 168.5,409.7 169.2,410.3 169.9,410.1 170.6,410.4 171.3,410.8 172,411 172.7,411 173.3,410.3 174,410.4 174.7,410.8 175.3,411 176,411.3 176.7,411.5 177.3,412 178,412.2 178.7,412 179.3,412.8 180,412.8 180.7,413 181.4,413.2 182.2,413.3 182.9,413 183.6,413 184.4,413.5 185.1,413 185.8,413.4 186.5,413 187.2,412.9 187.9,413.1 188.6,412.5 189.2,412.6 189.9,412.2 190.6,412.2 191.3,411.9 192,411.8 192.7,411.8 193.4,411.6 194.1,411.6 194.8,411 195.5,410.8 196.2,411 196.9,410.9 197.6,410.9 198.3,410.2 199,410.3 199.7,410.6 200.4,410.3 201.1,410.7 201.8,410.2 202.5,410.4 203.2,410.6 203.9,410.7 204.6,410.8 205.3,410.4 206,410.7 206.7,410.5 207.3,410.9 208,410.6 208.7,411.1 209.4,410.8 210.1,411 210.8,411.1 211.5,410.8 212.2,411.3 212.9,411.1 213.6,411.1 214.3,411.3 215,411.2 215.7,411.2 216.4,411.5 217.1,411 217.8,411 218.5,411.4 219.2,411.5 219.9,411.5 220.6,411.1 221.3,411.2 222,411.3 222.7,411.7 223.3,411.5 224,411.3 224.7,411.3 225.4,411.6 226.1,411.4 226.8,411.4 227.5,411.7 228.2,411.4 228.9,411.5 229.6,411.4 230.3,411.5 231,411.8 231.7,411.7 232.4,411.4 233.1,411.5 233.8,411.4 234.5,411.4 235.2,411.2 235.9,411.1 236.6,411.1 237.3,411.3 238,410.9 238.7,410.8 239.4,410.7 240.1,410.8 240.8,410.8 241.5,410.9 242.2,410.8 242.9,410.5 243.6,410.5 244.3,410 245,410.2 245.7,410.1 246.4,410.1 247.1,409.9 247.8,410.2 248.5,409.9 249.2,409.5 249.9,409.8 250.6,409.5 251.3,409.4 252,409.3 252.7,409.5 253.4,409.1 254.1,409.2 254.8,409.4 255.5,409.4 256.2,408.9 256.9,409.1 257.6,409.1 258.3,408.9 259,408.7 259.8,409.1 260.5,409.3 261.3,409.5 262,409.5 262.7,409.7 263.3,409.8 264,409.9 264.7,410.1 265.3,410.2 266,410.4 266.7,409.8 267.3,409.8 268,409.5 268.7,409.2 269.3,408.9 270,408.5 270.7,408.2 271.4,408.4 272.1,408.3 272.8,408.4 273.5,408.5 274.2,408.4 274.9,408.1 275.6,408.4 276.3,408.5 277,408.1 277.7,408 278.4,408.3 279.1,408 279.9,408.1 280.6,407.9 281.3,408 282,407.8 282.7,407.7 283.4,408.1 284.1,407.8 284.8,408 285.5,407.5 286.2,407.7 286.9,407.6 287.6,407.5 288.3,407.6 289,407.6" fill="none" stroke="#78b6e8" stroke-width="1.2" stroke-linejoin="round" />
<polyline points="27.2,424.6 27.9,424.7 28.6,424.2 29.4,424.2 30.1,423.9 30.8,424.2 31.6,423.6 32.3,423.8 33,423.6 33.7,423.4 34.4,423.2 35.1,422.8 35.8,422.5 36.5,422.3 37.2,421.9 37.9,421.8 38.6,421.5 39.3,421.5 40,422.1 40.8,422.5 41.5,422.8 42.3,423.3 43,424.1 43.7,424.3 44.3,425.1 45,424.8 45.7,425.4 46.3,426 47,426.2 47.7,426 48.3,426.4 49,426.5 49.6,426.6 50.3,426.2 50.9,426.7 51.6,426.5 52.4,425 53.2,424 54,422.5 54.6,420.6 55.2,418.3 55.9,416.4 56.5,414.1 57.2,413 58,411.7 58.8,410 59.5,408.9 60.3,406.2 61,403 61.8,399.9 62.5,402.1 63.3,404.2 64,406.8 64.7,411.5 65.3,416.1 66,420.4 66.8,425.9 67.5,430.9 68.5,426.7 69.5,434.1 70.5,428.8 71.2,424.7 72,420.4 72.7,418.4 73.3,416.1 74,414.1 74.7,414.9 75.3,416.5 76,417.2 76.6,418.2 77.2,418.9 77.9,419.8 78.5,420.4 79.2,420.5 79.9,420.8 80.6,421.2 81.3,421.9 82,422 82.7,422.2 83.5,422.4 84.2,422.7 84.9,423 85.6,423.8 86.4,424.1 87.1,423.9 87.8,424.6 88.5,424.6 89.3,425.3 90,425.4 90.7,425.4 91.4,425.8 92.1,425.4 92.9,425.8 93.6,425.8 94.3,425.8 95,426.3 95.7,426.1 96.4,426.4 97.1,426.2 97.9,426.3 98.6,426.7 99.3,426.6 100,426.7 100.7,427.1 101.5,427.1 102.2,427.4 102.9,427.2 103.6,427.4 104.4,427.8 105.1,427.4 105.8,427.9 106.5,427.7 107.3,428 108,428.3 108.7,428.4 109.5,428.4 110.2,428.4 110.9,428.6 111.6,429.1 112.4,429.4 113.1,429.3 113.8,429.3 114.5,429.7 115.3,429.4 116,429.9 116.7,429.9 117.4,429.6 118.1,429.4 118.8,429.3 119.5,428.8 120.2,428.9 120.8,428.7 121.5,428.5 122.2,428.4 122.9,428.2 123.6,428.1 124.3,427.8 125,427.8 125.7,427.7 126.4,427 127.1,427.1 127.8,426.6 128.5,426.6 129.2,426.2 129.8,425.8 130.5,425.8 131.2,425.4 131.9,424.7 132.6,424.5 133.3,424.2 134,424.1 134.7,424.3 135.4,424.6 136.1,424.9 136.8,425.4 137.4,425.3 138.1,425.9 138.8,425.9 139.5,426.3 140.2,426.2 140.9,426.8 141.6,426.8 142.2,427.4 142.9,427.4 143.6,427.9 144.3,428.2 145,428.3 145.7,428.1 146.4,428.5 147.1,428.4 147.8,428.2 148.5,428.6 149.2,428.4 149.9,428.8 150.7,428.6 151.4,428.4 152.1,428.6 152.8,428.4 153.5,428.5 154.2,428.4 154.9,428.7 154.9,432.8 155.6,432.7 156.3,433 157.1,433.5 157.8,433.3 158.5,433.3 159.2,433.2 159.9,433.6 160.7,433.7 161.4,433.7 162.1,434.2 162.8,434.3 163.6,434 164.3,434.4 165,434.5 165.7,434.7 166.4,435.2 167.1,435 167.8,435.3 168.5,435.9 169.2,435.8 169.9,436.2 170.6,436.3 171.3,436.6 172,437 172.7,437 173.3,436.4 174,436.4 174.7,436.9 175.3,436.8 176,437.4 176.7,437.6 177.3,438 178,438.3 178.7,438.5 179.3,439 180,439 180.7,439.1 181.4,439.1 182.2,439.5 182.9,439.3 183.6,439.5 184.4,439.5 185.1,439.9 185.8,440 186.5,439.8 187.2,439.6 187.9,439.4 188.6,439.2 189.2,439 189.9,438.9 190.6,438.8 191.3,438.8 192,438.4 192.7,438 193.4,438.2 194.1,437.9 194.8,438.1 195.5,437.8 196.2,437.5 196.9,437.6 197.6,437 198.3,437 199,436.9 199.7,437.1 200.4,437.3 201.1,437 201.8,437.3 202.5,437.3 203.2,437.3 203.9,437.1 204.6,437.1 205.3,437.4 206,437.5 206.7,437.2 207.3,437.2 208,437.3 208.7,437.3 209.4,437.3 210.1,437.7 210.8,437.7 211.5,437.5 212.2,437.9 212.9,437.8 213.6,437.9 214.3,437.6 215,437.8 215.7,437.5 216.4,437.7 217.1,437.6 217.8,438.1 218.5,437.6 219.2,438.1 219.9,438.2 220.6,438 221.3,438.3 222,438.2 222.7,437.8 223.3,438.2 224,438.2 224.7,437.9 225.4,437.8 226.1,437.9 226.8,438 227.5,438.5 228.2,438 228.9,438.1 229.6,438.4 230.3,438.3 231,438 231.7,438.3 232.4,438 233.1,438.1 233.8,437.8 234.5,437.7 235.2,437.7 235.9,437.7 236.6,437.7 237.3,437.5 238,437.1 238.7,437.4 239.4,437.2 240.1,437 240.8,436.8 241.5,436.6 242.2,436.7 242.9,436.1 243.6,436.4 244.3,436.2 245,436 245.7,435.7 246.4,436.1 247.1,435.9 247.8,435.6 248.5,435.6 249.2,435.2 249.9,435.3 250.6,435.3 251.3,435.3 252,434.8 252.7,434.8 253.4,435.1 254.1,434.6 254.8,434.8 255.5,434.8 256.2,434.5 256.9,434.1 257.6,434.3 258.3,434.2 259,434.3 259.8,434.6 260.5,434.5 261.3,434.7 262,434.8 262.7,435 263.3,435.2 264,435.4 264.7,435.5 265.3,435.6 266,435.6 266.7,435.4 267.3,435.2 268,434.8 268.7,434.4 269.3,434.4 270,433.9 270.7,433.7 271.4,433.7 272.1,434.1 272.8,433.9 273.5,433.7 274.2,433.8 274.9,433.7 275.6,433.8 276.3,433.6 277,434 277.7,433.9 278.4,433.6 279.1,433.4 279.9,433.4 280.6,433.5 281.3,433.9 282,433.5 282.7,433.4 283.4,433.4 284.1,433.6 284.8,433.7 285.5,433.6 286.2,433.4 286.9,433.5 287.6,433.4 288.3,433.4 289,433.4" fill="none" stroke="#a9d0f0" stroke-width="1.2" stroke-linejoin="round" />
<text x="31.1" y="263.9" font-size="11" fill="#111" text-anchor="start" textLength="34.5" lengthAdjust="spacingAndGlyphs" >W<tspan font-size="7.8" dy="3">18</tspan><tspan dy="-3">O</tspan><tspan font-size="7.8" dy="3">49</tspan></text>
<text x="69" y="276.2" font-size="12" fill="#ef4b4f" text-anchor="start" >v<tspan font-size="8.5" dy="3.6">C-O-C</tspan></text>
<text x="133.5" y="284.2" font-size="10.6" fill="#111" text-anchor="start" >Dark</text>
<text x="172.5" y="279.5" font-size="12" fill="#111" text-anchor="start" >v<tspan font-size="8.5" dy="3.6">CH</tspan><tspan font-size="6.5" dy="2">3</tspan></text>
<text x="216" y="279.2" font-size="12" fill="#111" text-anchor="start" >v<tspan font-size="8" dy="3.6">O-H</tspan></text>
<text x="132.4" y="304.5" font-size="10.6" fill="#111" text-anchor="start" >Adsorption for 30 min</text>
<text x="133.7" y="342.3" font-size="10.6" fill="#111" text-anchor="start" >UV-Vis-NIR light for 5 min</text>
<text x="135.4" y="367.4" font-size="10.6" fill="#111" text-anchor="start" >10 min</text>
<text x="135.4" y="395.4" font-size="10.6" fill="#111" text-anchor="start" >15 min</text>
<text x="135.4" y="422.6" font-size="10.6" fill="#111" text-anchor="start" >20 min</text>
<text x="57.2" y="448.5" font-size="12" fill="#111" text-anchor="start" >v<tspan font-size="8.5" dy="3">C-O</tspan></text>
<text x="98.8" y="448.5" font-size="12" fill="#111" text-anchor="start" >δ<tspan font-size="8.5" dy="3">CH</tspan><tspan font-size="6.5" dy="2">3</tspan></text>
<line x1="392.2" y1="291.5" x2="392.2" y2="402" stroke="#ec3434" stroke-width="1.1" stroke-dasharray="3,2"/>
<line x1="448.1" y1="289.5" x2="448.1" y2="401" stroke="#ec3434" stroke-width="1.1" stroke-dasharray="3,2"/>
<line x1="422" y1="258.5" x2="422" y2="283" stroke="#ec3434" stroke-width="1.1" stroke-dasharray="3,2"/>
<line x1="411.3" y1="368" x2="411.3" y2="390" stroke="#ec3434" stroke-width="1.1" stroke-dasharray="3,2"/>
<polyline points="348,353.3 348.5,353.3 349,353.3 349.7,353.6 350.5,353.6 351.3,353.3 352.2,353.3 353.1,353.4 354.1,353.4 355.1,353.4 356,353.4 357,353.4 358,353.6 358.9,353.6 359.8,353.6 360.6,353.6 361.3,353.5 362,353.4 363.2,353.4 364.3,353.4 365.2,353.3 366,353.4 366.7,353.3 367.5,353.5 368.2,353.3 368.9,352.8 369.9,352 370.8,351 371.7,349.9 372.5,346.7 373.3,344.9 374.2,344.1 375.1,340.8 375.9,338.6 376.8,336.1 377.7,333.5 378.5,330.7 379.4,327.8 380.3,324.1 381.2,320 382.1,315.9 383,311 383.9,307.3 384.7,303.8 385.8,299.6 386.7,296 387.7,293.5 388.6,291.2 389.6,289.6 390.5,290.2 391.5,289.5 392.5,289.2 393.3,288.8 394,288.7 394.8,288.7 395.6,288.8 396.5,289.6 397.3,289.8 398.1,289 399,289.1 399.9,289.5 400.8,289.7 401.7,290.5 402.6,288.9 403.5,288.4 404.3,288.1 405.2,287.3 406.1,286.4 407,286.2 407.9,284.9 408.7,283.5 409.6,282.4 410.4,280.8 411.3,279.1 412.3,277.5 413.1,275.7 413.9,274.5 414.8,273.3 415.7,272.1 416.6,270.5 417.4,269.4 418.1,268.5 418.8,267.8 420.1,267.8 420.9,267.5 422,267.6 422.8,267.9 423.7,268.4 424.6,269.3 425.6,268.5 426.7,269.6 427.4,270.1 428.2,271 429,272 429.9,273.6 430.7,274.6 431.6,275.7 432.5,276.7 433.3,276.5 434.1,277.4 434.9,278.2 435.7,279 436.5,280.2 437.3,281 438.1,281.8 438.9,283.3 439.8,284.2 440.6,284.9 441.5,285.7 442.3,285.9 443.2,286.5 444.1,287.2 445,288 445.9,289.2 446.8,290 447.7,291.4 448.6,292.3 449.5,293.2 450.3,293.5 451.2,293.8 452.1,295.4 453,296.3 453.8,297.4 454.7,297.9 455.6,299 456.5,300.2 457.4,302.3 458.2,303.8 459.1,305.2 460,306.5 460.9,307.9 461.7,308.2 462.6,309.6 463.5,311 464.4,312.5 465.3,314.4 466.1,315.9 467,317.4 467.9,318.8 468.8,319.2 469.6,320.7 470.5,322.1 471.4,324.4 472.3,325.7 473.2,327.1 474,328.4 474.9,329.4 475.8,330.7 476.7,331.9 477.6,333 478.4,334.3 479.3,335.3 480.2,335 481,335.9 481.8,336.7 482.6,337.5 483.5,338.6 484.3,339.4 485.2,340 486.1,337.7 487.1,338.4 487.8,341.7 488.5,344 489.3,342.3 490,342.8 490.8,343.2 491.6,343.6 492.4,344.2 493.2,344.6 494.1,345 494.9,346.4 495.8,347.1 496.7,347.4 497.6,347.8 498.3,346.9 499.1,347.1 499.9,347.4 500.7,347.6 501.5,348 502.3,348.3 503.1,348.5 504,348.9 504.8,349.1 505.7,349.2 506.5,348.2 507.4,348.4 508.2,349.6 509.1,349.8 509.9,349.9 510.8,349.8 511.6,349.9 512.3,350 513,350.1 513.6,351.1 514.3,351.1 514.9,351 515.5,351 516.2,351.1 516.9,351.1 517.6,351.2 518.4,351.2 519.3,351.3 520.2,352.1 521.2,352.2 522.4,352.2 523.6,351.2 525,351.3 525.6,351.3 526.1,351.3 526.7,352.2 527.2,350.6 527.7,350.3 528.2,350.8 528.7,352.3 529.2,352.4 529.7,351.5 530.2,351.5 530.7,351.7 531.2,351.7 531.8,351.7 532.3,351.7 532.8,351.1 533.4,351.1 533.9,351.1 534.5,351.2 535.1,350.5 535.7,352.1 536.4,352.1 537,352.1 537.7,351 538.4,351 539.2,351 540,351 540.8,351.7 541.6,351.7 542.5,351.7 543.5,351.9 544.4,351.9 545.4,351 546.5,351 547.6,351 548.8,350.9 550,350.9 551.2,350.9 552.5,350.9 553.9,352.3 555.3,352.3 556.8,352.3 558.4,352.3 560,348.8 560.5,348.8 561.1,348.8 561.7,352.4 562.2,352.4 562.8,352.4 563.5,352.4 564.1,352.4 564.7,351.2 565.4,351.2 566,351.2 566.7,350.6 567.4,350.6 568.1,350.6 568.8,352 569.5,351.5 570.2,352.8 570.9,353 571.7,353.7 572.4,352.9 573.2,352.9 574,352.9 574.8,352.9 575.6,351.3 576.4,351.3 577.2,351.3 578,351.3 578.8,353.3 579.7,353.3 580.5,353.3 581.4,351.5 582.2,352 583.1,353.4 584,353.4 584.9,353.4 585.7,353.4 586.6,353.6 587.5,353.6 588.4,352.6 589.4,352.6 590.3,354 591.2,354 592.1,352.2 593,352.2 594,352 594.9,353.7 595.9,353.7 596.8,353.2 597.8,352.2 598.7,352.2 599.7,352.6 600.6,352.8 601.6,352.8 602.6,352.8 603.5,353.5 604.5,351.9 605.5,352.3 606.4,352.3 607.4,352 608.4,352 609.4,354 610.3,354 611.3,354 612.3,354 613.3,354 614.2,352.7 615.2,352.7 616.2,353.5 617.1,353.5 618.1,353.5 619.1,353.5 620.1,352.2 621,352.2 622,352.2 622.9,352.2 623.9,352.7 624.9,352.7 625.8,352.5 626.8,352.9 627.7,352.9 628.6,352.9 629.6,352.8 630.5,352.8 631.4,352.8 632.4,352.8 633.3,353.4 634.2,353.4 635.1,353.4 636,353.5 636.9,353.5 637.8,352.4 638.7,353.6 639.5,351.9 640.4,352.1 641.3,352.1 642.1,353.9 643,353.9 643.8,353 644.6,354 645.5,354 646.3,354 647.1,354 647.9,353.7 648.7,353.7 649.5,353.7 650.2,353.7 651,352.1 651.7,352.1 652.5,352.1 653.2,352.1 653.9,353.4 654.6,353.4 655.3,353.4 656,353.4 656.7,353.3 657.4,353.3 658,353.3 658.7,352.8 659.3,352.8 659.9,353 660.5,353 661.1,353 661.6,353 662.2,350.1 662.8,350.1 663.3,350.1 663.8,351.9 664.3,351.9 664.8,351.9 665.3,351.9 665.7,352.5 666.2,352.5 666.6,352.9 667,352.9" fill="none" stroke="#505050" stroke-width="1.15" stroke-linejoin="round" />
<polyline points="348,353.4 348.5,353.4 349,353.4 349.7,353.4 350.5,353.4 351.3,353.4 352.2,353.4 353.1,353.4 354.1,353.4 355.1,353.4 356,353.4 357,353.4 358,353.4 358.9,353.4 359.8,353.4 360.6,353.3 361.3,353.3 362,353.3 363.2,353.3 364.3,353.3 365.2,353.4 366,353.4 366.7,353.4 367.5,353.3 368.2,353 368.9,352.6 369.9,351.8 370.8,350.9 371.7,349.7 372.5,348.3 373.3,346.8 374.2,345 375.1,343 375.9,340.9 376.8,338.5 377.7,335.9 378.5,333.1 379.4,330 380.3,326.4 381.2,322.3 382.1,317.9 383,313.5 383.9,309.5 384.7,306 385.8,301.7 386.7,298.2 387.7,295.3 388.6,293 389.6,291.4 390.5,290.5 391.5,290.1 392.5,289.7 393.3,289.4 394,289.3 394.8,289.4 395.6,289.5 396.5,289.6 397.3,289.8 398.1,290.3 399,290.7 399.9,291.1 400.8,291.3 401.7,291.3 402.6,291 403.5,290.5 404.3,289.8 405.2,289 406.1,288.1 407,287 407.9,285.8 408.7,284.3 409.6,282.8 410.4,281.1 411.3,279.5 412.3,278 413.1,276.9 413.9,275.7 414.8,274.5 415.7,273.3 416.6,272.2 417.4,271.1 418.1,270.2 418.8,269.5 420.1,268.3 420.9,267.9 422,268 422.8,268.3 423.7,268.8 424.6,269.4 425.6,270.3 426.7,271.3 427.4,272.1 428.2,272.9 429,273.9 429.9,275 430.7,276 431.6,277.1 432.5,278.1 433.3,279 434.1,279.9 434.9,280.7 435.7,281.5 436.5,282.3 437.3,283.1 438.1,283.9 438.9,284.7 439.8,285.5 440.6,286.2 441.5,287 442.3,287.7 443.2,288.4 444.1,289.1 445,289.9 445.9,290.7 446.8,291.5 447.7,292.3 448.6,293.2 449.5,294 450.3,294.9 451.2,295.9 452.1,296.8 453,297.8 453.8,298.8 454.7,299.9 455.6,301 456.5,302.2 457.4,303.4 458.2,304.7 459.1,306.1 460,307.4 460.9,308.8 461.7,310.2 462.6,311.6 463.5,313 464.4,314.4 465.3,315.9 466.1,317.3 467,318.8 467.9,320.3 468.8,321.8 469.6,323.2 470.5,324.6 471.4,326 472.3,327.3 473.2,328.7 474,330 474.9,331.2 475.8,332.5 476.7,333.7 477.6,334.9 478.4,336 479.3,337 480.2,338 481,338.9 481.8,339.7 482.6,340.5 483.5,341.2 484.3,341.9 485.2,342.6 486.1,343.3 487.1,344 487.8,344.5 488.5,344.9 489.3,345.4 490,345.8 490.8,346.3 491.6,346.7 492.4,347.1 493.2,347.5 494.1,347.9 494.9,348.3 495.8,348.6 496.7,349 497.6,349.3 498.3,349.6 499.1,349.8 499.9,350 500.7,350.3 501.5,350.5 502.3,350.7 503.1,350.9 504,351.1 504.8,351.3 505.7,351.5 506.5,351.7 507.4,351.8 508.2,352 509.1,352.1 509.9,352.3 510.8,352.4 511.6,352.5 512.3,352.6 513,352.7 513.6,352.8 514.3,352.8 514.9,352.9 515.5,353 516.2,353 516.9,353 517.6,353.1 518.4,353.1 519.3,353.1 520.2,353.2 521.2,353.2 522.4,353.2 523.6,353.3 525,353.3 525.6,353.3 526.1,353.3 526.7,353.3 527.2,353.4 527.7,353.4 528.2,353.4 528.7,353.4 529.2,353.4 529.7,353.4 530.2,353.4 530.7,353.4 531.2,353.4 531.8,353.4 532.3,353.5 532.8,353.5 533.4,353.5 533.9,353.5 534.5,353.5 535.1,353.5 535.7,353.5 536.4,353.5 537,353.5 537.7,353.5 538.4,353.5 539.2,353.5 540,353.5 540.8,353.5 541.6,353.5 542.5,353.5 543.5,353.6 544.4,353.6 545.4,353.6 546.5,353.6 547.6,353.6 548.8,353.6 550,353.6 551.2,353.6 552.5,353.6 553.9,353.6 555.3,353.6 556.8,353.6 558.4,353.6 560,353.6 560.5,353.6 561.1,353.6 561.7,353.6 562.2,353.6 562.8,353.6 563.5,353.6 564.1,353.6 564.7,353.6 565.4,353.6 566,353.6 566.7,353.6 567.4,353.6 568.1,353.6 568.8,353.6 569.5,353.6 570.2,353.6 570.9,353.6 571.7,353.6 572.4,353.6 573.2,353.6 574,353.6 574.8,353.6 575.6,353.6 576.4,353.6 577.2,353.6 578,353.6 578.8,353.6 579.7,353.6 580.5,353.6 581.4,353.6 582.2,353.6 583.1,353.6 584,353.6 584.9,353.6 585.7,353.6 586.6,353.6 587.5,353.6 588.4,353.6 589.4,353.6 590.3,353.6 591.2,353.6 592.1,353.6 593,353.6 594,353.6 594.9,353.6 595.9,353.6 596.8,353.6 597.8,353.6 598.7,353.6 599.7,353.6 600.6,353.6 601.6,353.6 602.6,353.6 603.5,353.6 604.5,353.6 605.5,353.6 606.4,353.6 607.4,353.6 608.4,353.6 609.4,353.6 610.3,353.6 611.3,353.6 612.3,353.6 613.3,353.6 614.2,353.6 615.2,353.6 616.2,353.6 617.1,353.6 618.1,353.6 619.1,353.6 620.1,353.6 621,353.6 622,353.6 622.9,353.6 623.9,353.6 624.9,353.6 625.8,353.6 626.8,353.6 627.7,353.6 628.6,353.6 629.6,353.6 630.5,353.6 631.4,353.6 632.4,353.6 633.3,353.6 634.2,353.6 635.1,353.6 636,353.6 636.9,353.6 637.8,353.6 638.7,353.6 639.5,353.6 640.4,353.6 641.3,353.6 642.1,353.6 643,353.6 643.8,353.6 644.6,353.6 645.5,353.6 646.3,353.6 647.1,353.6 647.9,353.6 648.7,353.6 649.5,353.6 650.2,353.6 651,353.6 651.7,353.6 652.5,353.6 653.2,353.6 653.9,353.6 654.6,353.6 655.3,353.6 656,353.6 656.7,353.6 657.4,353.6 658,353.6 658.7,353.6 659.3,353.6 659.9,353.6 660.5,353.6 661.1,353.6 661.6,353.6 662.2,353.6 662.8,353.6 663.3,353.6 663.8,353.6 664.3,353.6 664.8,353.6 665.3,353.6 665.7,353.6 666.2,353.6 666.6,353.6 667,353.6" fill="none" stroke="#2f7cbf" stroke-width="1.7" stroke-linejoin="round" />
<polyline points="347.6,446.4 348.1,446.4 348.7,446.5 349.4,446.5 350.2,446.5 351,446.5 352,446.5 352.9,446.8 353.9,446.8 354.9,446.8 356,446.5 357,446.5 357.9,446.7 358.9,446.6 359.8,446.5 360.6,446.5 361.3,446.5 362,446.5 363.3,446.2 364.4,446.2 365.3,446.2 366,446.4 366.7,446.3 367.3,446.1 368,445.7 368.9,445.2 369.7,444.5 370.5,443.6 371.2,441.9 372,440.2 372.8,436.2 373.6,433.4 374.4,430.3 375.2,427.1 376,424.4 376.8,421.3 377.6,418 378.4,414.6 379.2,411.3 380,407.8 380.8,405.1 381.6,402.4 382.4,399.9 383.2,398.8 384,396.9 384.9,395.1 385.7,392.4 386.6,391.4 387.5,390.4 388.3,389.9 389.2,389.5 390,391.8 391,391.6 392,391.5 392.8,391.3 393.6,390.7 394.4,390.6 395.3,391 396.2,390.9 397.1,390.8 398,390.6 398.8,389.6 399.7,389.3 400.6,389 401.5,388.7 402.5,388.4 403.3,388.1 404.2,387.8 405,387.5 406,386.5 406.9,386 407.7,385.6 408.6,385.2 409.4,385.5 410.3,385 411.1,385.2 411.9,385.5 412.7,387.3 413.5,386.3 414.3,386.9 415.2,387.5 416,389.1 416.8,389.7 417.7,390.8 418.5,391.3 419.4,391.5 420.2,393.2 421.1,393.7 422,394.3 422.9,394.6 423.8,394.7 424.7,395 425.6,393.6 426.5,393.8 427.5,394.2 428.4,392.6 429.2,392.6 430,392.5 430.8,392.3 431.7,392.4 432.5,392.4 433.3,392.2 434.2,391.6 435,391.3 435.9,391 436.7,390.7 437.6,390.6 438.5,390.2 439.3,390.8 440.2,390.4 441.1,390.1 442,389.9 442.9,389.9 443.8,389.7 444.7,389.5 445.7,389.4 446.6,389.2 447.5,389.2 448.4,389.2 449.2,389 450.1,389.1 450.9,389.3 451.7,390.3 452.5,390.7 453.3,390.9 454.1,391.5 455,392.2 455.8,392.9 456.6,393.8 457.5,393.2 458.4,394.3 459.2,395.4 460.2,396.5 461.1,398.1 462,399.1 462.8,401.3 463.5,402.2 464.3,403.1 465.1,404 465.9,403.6 466.8,404.9 467.6,405.8 468.4,406.9 469.2,407.8 470,408.7 470.8,409.7 471.6,409.3 472.4,409.9 473.2,410.7 474,411.6 474.8,414.2 475.6,414.3 476.4,414.3 477.2,416.1 478,416.8 478.8,417.6 479.6,417.2 480.4,417.3 481.2,419.2 482,419.3 482.8,420.9 483.6,421.5 484.5,422.2 485.4,422.9 486.1,421.5 486.9,422.1 487.6,422.7 488.4,423.3 489.2,425 490,425.6 490.9,426.2 491.7,427 492.5,427.6 493.4,429 494.2,427.7 495,428.3 495.8,428.9 496.6,429.5 497.5,430.4 498.3,431 499.1,431.5 500,433.5 500.8,434.1 501.7,434.6 502.5,435.1 503.3,435.3 504.2,435.8 505,435.5 505.8,436.6 506.7,437 507.6,437.4 508.4,436.7 509.3,437.1 510.2,437.4 511,437.7 511.9,437.8 512.7,439.8 513.5,440.1 514.3,440.3 515,439.3 515.9,439.4 516.7,439.7 517.4,439.9 518,441.7 518.7,441.9 519.5,441.2 520.6,441.4 522,441.6 522.6,441.7 523.2,440.9 523.9,441 524.6,441.1 525.3,441.2 526.1,441.3 526.8,441.4 527.7,442.3 528.5,442.4 529.3,442.5 530.2,442.7 531.1,442.8 531.9,442.9 532.8,443.1 533.7,442.7 534.6,442.7 535.6,442.8 536.5,442.9 537.4,443.6 538.2,443.6 539.1,443.7 540,443.5 540.7,443.5 541.3,444.2 541.8,444.2 542.2,444.4 542.5,444.4 542.8,444.5 543,444.5 543.2,443.8 543.4,443.8 543.7,443.9 543.9,443.9 544.3,444.4 544.6,444.8 545.1,443 545.6,443.1 546.3,443.1 547.1,443.1 548,443.8 549.1,443.9 550.4,444.2 551.9,443.3 553.5,443.3 555.4,443.4 557.6,443.4 560,445.2 560.5,445.2 561,445.1 561.5,445.1 562,445.1 562.6,445.1 563.1,445 563.7,445 564.3,445 564.9,443.8 565.5,443.8 566.2,443.2 566.8,443.2 567.5,443.2 568.1,443.6 568.8,443.6 569.5,443.6 570.2,446.6 570.9,446.6 571.7,446.6 572.4,445.7 573.1,445.7 573.9,445.7 574.7,445.7 575.5,445 576.3,445 577.1,445 577.9,445.9 578.7,445.9 579.5,445.9 580.4,445.8 581.2,445.8 582.1,445.8 582.9,445.8 583.8,445.9 584.7,445.9 585.6,444.7 586.5,444.7 587.3,444.7 588.3,444.7 589.2,445.4 590.1,445.4 591,446.2 591.9,443.1 592.9,443.1 593.8,446.7 594.8,446.7 595.7,446.7 596.7,446.4 597.6,446.4 598.6,446.4 599.5,445.3 600.5,445.3 601.5,445.6 602.5,445.6 603.4,445.6 604.4,445.6 605.4,443.3 606.4,443.3 607.4,443.3 608.3,443.3 609.3,444.8 610.3,444.8 611.3,444.8 612.3,444.8 613.3,445.7 614.3,445.7 615.2,445.7 616.2,445.7 617.2,446.2 618.2,446.2 619.2,446.2 620.2,446.2 621.1,444.7 622.1,444.7 623.1,444.7 624.1,444.6 625,446.3 626,445.9 627,445.9 627.9,445.9 628.9,444.9 629.8,444.9 630.8,444.9 631.7,444.9 632.6,444.6 633.6,446.2 634.5,446.2 635.4,445.5 636.3,445.5 637.2,445.5 638.2,446.8 639,446.8 639.9,446.8 640.8,444.9 641.7,444.9 642.6,446.2 643.4,446.2 644.3,446.2 645.1,445.6 645.9,445.6 646.8,445.6 647.6,445.6 648.4,446.3 649.2,446.3 650,446.3 650.7,444.4 651.5,444.4 652.3,444.4 653,446.4 653.7,446.4 654.5,444.8 655.2,444.8 655.9,444.8 656.6,444.8 657.2,446.6 657.9,446.6 658.6,446.6 659.2,446.6 659.8,445 660.4,445 661,445 661.6,445.5 662.2,445.5 662.7,445.5 663.3,445.5 663.8,444.6 664.3,445.3 664.8,445.3 665.3,445.3 665.7,445.3 666.2,445 666.6,445 667,445" fill="none" stroke="#505050" stroke-width="1.15" stroke-linejoin="round" />
<polyline points="347.6,446.6 348.1,446.6 348.7,446.6 349.4,446.6 350.2,446.6 351,446.6 352,446.6 352.9,446.6 353.9,446.6 354.9,446.6 356,446.6 357,446.6 357.9,446.6 358.9,446.6 359.8,446.6 360.6,446.5 361.3,446.5 362,446.5 363.3,446.5 364.4,446.4 365.3,446.4 366,446.3 366.7,446.2 367.3,446 368,445.6 368.9,445 369.7,444.3 370.5,443.4 371.2,442.2 372,440.5 372.8,438.2 373.6,435.4 374.4,432.4 375.2,429.1 376,426 376.8,422.8 377.6,419.5 378.4,416.2 379.2,413 380,410 380.8,407.2 381.6,404.6 382.4,402.1 383.2,399.9 384,398 384.9,396.2 385.7,394.8 386.6,393.8 387.5,393 388.3,392.5 389.2,392.1 390,391.9 391,391.8 392,391.6 392.8,391.5 393.6,391.4 394.4,391.4 395.3,391.3 396.2,391.3 397.1,391.2 398,391 398.8,390.8 399.7,390.5 400.6,390.2 401.5,389.9 402.5,389.5 403.3,389.2 404.2,388.9 405,388.6 406,388.2 406.9,387.7 407.7,387.2 408.6,386.9 409.4,386.6 410.3,386.6 411.1,386.8 411.9,387.2 412.7,387.7 413.5,388.2 414.3,388.9 415.2,389.5 416,390 416.8,390.5 417.7,391.1 418.5,391.6 419.4,392.2 420.2,392.7 421.1,393.2 422,393.6 422.9,393.9 423.8,394.2 424.7,394.5 425.6,394.7 426.5,394.9 427.5,395 428.4,395 429.2,395 430,394.9 430.8,394.7 431.7,394.6 432.5,394.3 433.3,394.1 434.2,393.9 435,393.6 435.9,393.3 436.7,393 437.6,392.6 438.5,392.3 439.3,391.9 440.2,391.6 441.1,391.2 442,391 442.9,390.8 443.8,390.6 444.7,390.4 445.7,390.3 446.6,390.2 447.5,390.1 448.4,390.1 449.2,390.2 450.1,390.4 450.9,390.6 451.7,390.9 452.5,391.2 453.3,391.7 454.1,392.3 455,393 455.8,393.7 456.6,394.6 457.5,395.6 458.4,396.6 459.2,397.7 460.2,398.8 461.1,399.9 462,401 462.8,401.9 463.5,402.8 464.3,403.7 465.1,404.6 465.9,405.5 466.8,406.4 467.6,407.3 468.4,408.2 469.2,409.1 470,410 470.8,410.9 471.6,411.7 472.4,412.5 473.2,413.4 474,414.2 474.8,415 475.6,415.8 476.4,416.6 477.2,417.3 478,418 478.8,418.7 479.6,419.4 480.4,420 481.2,420.6 482,421.2 482.8,421.8 483.6,422.4 484.5,423.1 485.4,423.8 486.1,424.4 486.9,425 487.6,425.6 488.4,426.2 489.2,426.8 490,427.5 490.9,428.1 491.7,428.8 492.5,429.4 493.4,430 494.2,430.6 495,431.2 495.8,431.8 496.6,432.3 497.5,432.9 498.3,433.5 499.1,434 500,434.6 500.8,435.1 501.7,435.6 502.5,436.1 503.3,436.6 504.2,437.1 505,437.5 505.8,437.9 506.7,438.3 507.6,438.7 508.4,439.1 509.3,439.5 510.2,439.8 511,440.2 511.9,440.5 512.7,440.8 513.5,441.1 514.3,441.3 515,441.6 515.9,442 516.7,442.3 517.4,442.5 518,442.7 518.7,443 519.5,443.2 520.6,443.4 522,443.6 522.6,443.7 523.2,443.8 523.9,443.9 524.6,444 525.3,444 526.1,444.1 526.8,444.2 527.7,444.3 528.5,444.4 529.3,444.5 530.2,444.6 531.1,444.7 531.9,444.7 532.8,444.8 533.7,444.9 534.6,445 535.6,445.1 536.5,445.1 537.4,445.2 538.2,445.3 539.1,445.3 540,445.4 540.7,445.5 541.3,445.5 541.8,445.5 542.2,445.6 542.5,445.6 542.8,445.7 543,445.7 543.2,445.8 543.4,445.8 543.7,445.8 543.9,445.9 544.3,445.9 544.6,445.9 545.1,445.9 545.6,446 546.3,446 547.1,446 548,446 549.1,446.1 550.4,446.1 551.9,446.1 553.5,446.1 555.4,446.2 557.6,446.2 560,446.2 560.5,446.2 561,446.2 561.5,446.2 562,446.2 562.6,446.2 563.1,446.2 563.7,446.2 564.3,446.2 564.9,446.2 565.5,446.2 566.2,446.2 566.8,446.2 567.5,446.2 568.1,446.2 568.8,446.3 569.5,446.3 570.2,446.3 570.9,446.3 571.7,446.3 572.4,446.3 573.1,446.3 573.9,446.3 574.7,446.3 575.5,446.3 576.3,446.3 577.1,446.3 577.9,446.3 578.7,446.3 579.5,446.3 580.4,446.3 581.2,446.3 582.1,446.3 582.9,446.3 583.8,446.3 584.7,446.3 585.6,446.3 586.5,446.3 587.3,446.3 588.3,446.3 589.2,446.3 590.1,446.3 591,446.3 591.9,446.3 592.9,446.3 593.8,446.3 594.8,446.3 595.7,446.3 596.7,446.3 597.6,446.3 598.6,446.3 599.5,446.3 600.5,446.3 601.5,446.3 602.5,446.3 603.4,446.3 604.4,446.3 605.4,446.3 606.4,446.3 607.4,446.3 608.3,446.3 609.3,446.3 610.3,446.3 611.3,446.3 612.3,446.3 613.3,446.3 614.3,446.3 615.2,446.4 616.2,446.4 617.2,446.4 618.2,446.4 619.2,446.4 620.2,446.4 621.1,446.4 622.1,446.4 623.1,446.4 624.1,446.4 625,446.4 626,446.4 627,446.4 627.9,446.4 628.9,446.4 629.8,446.4 630.8,446.4 631.7,446.4 632.6,446.4 633.6,446.4 634.5,446.4 635.4,446.4 636.3,446.4 637.2,446.4 638.2,446.4 639,446.4 639.9,446.4 640.8,446.4 641.7,446.4 642.6,446.4 643.4,446.4 644.3,446.4 645.1,446.4 645.9,446.4 646.8,446.4 647.6,446.4 648.4,446.4 649.2,446.4 650,446.4 650.7,446.4 651.5,446.4 652.3,446.4 653,446.4 653.7,446.4 654.5,446.4 655.2,446.4 655.9,446.4 656.6,446.4 657.2,446.4 657.9,446.4 658.6,446.4 659.2,446.4 659.8,446.4 660.4,446.4 661,446.4 661.6,446.4 662.2,446.4 662.7,446.4 663.3,446.4 663.8,446.4 664.3,446.4 664.8,446.4 665.3,446.4 665.7,446.4 666.2,446.4 666.6,446.4 667,446.4" fill="none" stroke="#2f7cbf" stroke-width="1.7" stroke-linejoin="round" />
<text x="627.3" y="267.7" font-size="12.5" fill="#111" text-anchor="start" >CH<tspan font-size="8.5" dy="3">3</tspan><tspan dy="-3">OH</tspan></text>
<text x="573.5" y="335.5" font-size="12.5" fill="#111" text-anchor="start" >Ni<tspan font-size="8.5" dy="3">0.66</tspan><tspan dy="-3">-W</tspan><tspan font-size="8.5" dy="3">18</tspan><tspan dy="-3">O</tspan><tspan font-size="8.5" dy="3">49</tspan></text>
<text x="606.2" y="430.4" font-size="12.5" fill="#111" text-anchor="start" >W<tspan font-size="8.5" dy="3">18</tspan><tspan dy="-3">O</tspan><tspan font-size="8.5" dy="3">49</tspan></text>
<text x="362.7" y="283" font-size="10.5" fill="#111" text-anchor="start" >112 <tspan font-size="7.5" dy="-4">o</tspan><tspan dy="4">C</tspan></text>
<text x="398.6" y="263.1" font-size="10.5" fill="#111" text-anchor="start" >188 <tspan font-size="7.5" dy="-4">o</tspan><tspan dy="4">C</tspan></text>
<text x="449.7" y="283" font-size="10.5" fill="#111" text-anchor="start" >251 <tspan font-size="7.5" dy="-4">o</tspan><tspan dy="4">C</tspan></text>
<text x="397.4" y="364" font-size="10.5" fill="#111" text-anchor="start" >158 <tspan font-size="7.5" dy="-4">o</tspan><tspan dy="4">C</tspan></text>
<text x="0" y="19" font-size="21" fill="#111" text-anchor="start" >a</text>
<line x1="26.5" y1="4" x2="387.4" y2="4" stroke="#7a7a7a" stroke-width="1.4" />
<line x1="26.5" y1="3.5" x2="26.5" y2="213" stroke="#4a4a4a" stroke-width="1.2" />
<line x1="387.4" y1="3.5" x2="387.4" y2="214.5" stroke="#4a4a4a" stroke-width="1.2" />
<line x1="26.5" y1="211.8" x2="387.4" y2="211.8" stroke="#8a8a8a" stroke-width="0.8" />
<line x1="26" y1="212.6" x2="200.5" y2="212.6" stroke="#333" stroke-width="1.7" />
<line x1="212.4" y1="214.1" x2="387.4" y2="214.1" stroke="#666" stroke-width="0.9" />
<line x1="212.4" y1="211.8" x2="212.4" y2="214.1" stroke="#666" stroke-width="0.9" />
<line x1="47.7" y1="212" x2="47.7" y2="208.8" stroke="#333" stroke-width="1.0" />
<line x1="69.6" y1="212" x2="69.6" y2="210" stroke="#333" stroke-width="0.9" />
<text x="47.7" y="225" font-size="12" fill="#1a1a1a" text-anchor="middle" >288</text>
<line x1="91.5" y1="212" x2="91.5" y2="208.8" stroke="#333" stroke-width="1.0" />
<line x1="113.4" y1="212" x2="113.4" y2="210" stroke="#333" stroke-width="0.9" />
<text x="91.5" y="225" font-size="12" fill="#1a1a1a" text-anchor="middle" >286</text>
<line x1="135.3" y1="212" x2="135.3" y2="208.8" stroke="#333" stroke-width="1.0" />
<line x1="157.2" y1="212" x2="157.2" y2="210" stroke="#333" stroke-width="0.9" />
<text x="135.3" y="225" font-size="12" fill="#1a1a1a" text-anchor="middle" >284</text>
<line x1="179.1" y1="212" x2="179.1" y2="208.8" stroke="#333" stroke-width="1.0" />
<text x="179.1" y="225" font-size="12" fill="#1a1a1a" text-anchor="middle" >282</text>
<line x1="212.9" y1="211.8" x2="212.9" y2="214" stroke="#555" stroke-width="1.0" />
<line x1="230.3" y1="211.8" x2="230.3" y2="214" stroke="#555" stroke-width="1.0" />
<line x1="247.6" y1="211.8" x2="247.6" y2="214" stroke="#555" stroke-width="1.0" />
<line x1="265" y1="211.8" x2="265" y2="214" stroke="#555" stroke-width="1.0" />
<line x1="282.4" y1="211.8" x2="282.4" y2="214" stroke="#555" stroke-width="1.0" />
<line x1="299.7" y1="211.8" x2="299.7" y2="214" stroke="#555" stroke-width="1.0" />
<line x1="317.1" y1="211.8" x2="317.1" y2="214" stroke="#555" stroke-width="1.0" />
<line x1="334.4" y1="211.8" x2="334.4" y2="214" stroke="#555" stroke-width="1.0" />
<line x1="351.8" y1="211.8" x2="351.8" y2="214" stroke="#555" stroke-width="1.0" />
<line x1="369.1" y1="211.8" x2="369.1" y2="214" stroke="#555" stroke-width="1.0" />
<text x="230.3" y="226" font-size="11.5" fill="#1a1a1a" text-anchor="middle" >40</text>
<text x="265" y="226" font-size="11.5" fill="#1a1a1a" text-anchor="middle" >38</text>
<text x="299.7" y="226" font-size="11.5" fill="#1a1a1a" text-anchor="middle" >36</text>
<text x="334.4" y="226" font-size="11.5" fill="#1a1a1a" text-anchor="middle" >34</text>
<text x="369.1" y="226" font-size="11.5" fill="#1a1a1a" text-anchor="middle" >32</text>
<text x="148.6" y="239.1" font-size="13.2" fill="#1a1a1a" text-anchor="start" textLength="120.6" lengthAdjust="spacingAndGlyphs" >Bonding energy (eV)</text>
<text x="20.2" y="119.6" font-size="15.5" fill="#1a1a1a" text-anchor="middle" textLength="98.8" lengthAdjust="spacingAndGlyphs" transform="rotate(-90 20.2 119.6)" >Intensity (a.u.)</text>
<text x="400" y="18.6" font-size="21" fill="#111" text-anchor="start" >b</text>
<line x1="421.6" y1="4.4" x2="681.3" y2="4.4" stroke="#1a1a1a" stroke-width="1.3" />
<line x1="421.6" y1="3.8" x2="421.6" y2="212.9" stroke="#1a1a1a" stroke-width="1.3" />
<line x1="681.3" y1="3.8" x2="681.3" y2="212.9" stroke="#1a1a1a" stroke-width="1.3" />
<line x1="421" y1="212.3" x2="681.9" y2="212.3" stroke="#1a1a1a" stroke-width="1.4" />
<rect x="544.5" y="2.9" width="6.5" height="3" fill="#fff" /><line x1="543.6" y1="8.6" x2="547.4" y2="0.2" stroke="#111" stroke-width="1.1" /><line x1="548.1" y1="8.6" x2="551.9" y2="0.2" stroke="#111" stroke-width="1.1" />
<rect x="544.5" y="210.8" width="6.5" height="3" fill="#fff" /><line x1="543.6" y1="216.5" x2="547.4" y2="208.1" stroke="#111" stroke-width="1.1" /><line x1="548.1" y1="216.5" x2="551.9" y2="208.1" stroke="#111" stroke-width="1.1" />
<line x1="431.2" y1="212.3" x2="431.2" y2="210.3" stroke="#1a1a1a" stroke-width="1.0" />
<line x1="458.5" y1="212.3" x2="458.5" y2="209.3" stroke="#1a1a1a" stroke-width="1.0" />
<text x="458.5" y="226.3" font-size="12" fill="#1a1a1a" text-anchor="middle" >1000</text>
<line x1="485.8" y1="212.3" x2="485.8" y2="210.3" stroke="#1a1a1a" stroke-width="1.0" />
<line x1="513.1" y1="212.3" x2="513.1" y2="209.3" stroke="#1a1a1a" stroke-width="1.0" />
<text x="513.1" y="226.3" font-size="12" fill="#1a1a1a" text-anchor="middle" >1500</text>
<line x1="555.3" y1="212.3" x2="555.3" y2="210.3" stroke="#1a1a1a" stroke-width="1.0" />
<line x1="582.3" y1="212.3" x2="582.3" y2="209.3" stroke="#1a1a1a" stroke-width="1.0" />
<text x="582.3" y="226.3" font-size="12" fill="#1a1a1a" text-anchor="middle" >3000</text>
<line x1="609.3" y1="212.3" x2="609.3" y2="210.3" stroke="#1a1a1a" stroke-width="1.0" />
<line x1="636.3" y1="212.3" x2="636.3" y2="209.3" stroke="#1a1a1a" stroke-width="1.0" />
<text x="636.3" y="226.3" font-size="12" fill="#1a1a1a" text-anchor="middle" >3500</text>
<line x1="663.3" y1="212.3" x2="663.3" y2="210.3" stroke="#1a1a1a" stroke-width="1.0" />
<text x="486" y="239.5" font-size="14.7" fill="#1a1a1a" text-anchor="start" textLength="129" lengthAdjust="spacingAndGlyphs" >Wavenumber (cm<tspan font-size="9.5" dy="-5.5">-1</tspan><tspan dy="5.5">)</tspan></text>
<text x="406.6" y="108.7" font-size="14.8" fill="#1a1a1a" text-anchor="middle" textLength="125.8" lengthAdjust="spacingAndGlyphs" transform="rotate(-90 406.6 108.7)" >Transmission (a.u.)</text>
<text x="0.5" y="262" font-size="21" fill="#111" text-anchor="start" >c</text>
<line x1="27.2" y1="252" x2="289.5" y2="252" stroke="#1a1a1a" stroke-width="1.3" />
<line x1="27.2" y1="251.4" x2="27.2" y2="460.7" stroke="#1a1a1a" stroke-width="1.3" />
<line x1="289.5" y1="251.4" x2="289.5" y2="460.7" stroke="#1a1a1a" stroke-width="1.3" />
<line x1="26.6" y1="460.1" x2="290.1" y2="460.1" stroke="#1a1a1a" stroke-width="1.4" />
<rect x="151.7" y="250.5" width="6.5" height="3" fill="#fff" /><line x1="150.8" y1="256.2" x2="154.6" y2="247.8" stroke="#111" stroke-width="1.1" /><line x1="155.2" y1="256.2" x2="159.1" y2="247.8" stroke="#111" stroke-width="1.1" />
<rect x="151.7" y="458.6" width="6.5" height="3" fill="#fff" /><line x1="150.8" y1="464.3" x2="154.6" y2="455.9" stroke="#111" stroke-width="1.1" /><line x1="155.2" y1="464.3" x2="159.1" y2="455.9" stroke="#111" stroke-width="1.1" />
<line x1="37.8" y1="460.1" x2="37.8" y2="458.1" stroke="#1a1a1a" stroke-width="1.0" />
<line x1="65.3" y1="460.1" x2="65.3" y2="457.1" stroke="#1a1a1a" stroke-width="1.0" />
<text x="65.3" y="473.8" font-size="12" fill="#1a1a1a" text-anchor="middle" >1000</text>
<line x1="92.8" y1="460.1" x2="92.8" y2="458.1" stroke="#1a1a1a" stroke-width="1.0" />
<line x1="120.3" y1="460.1" x2="120.3" y2="457.1" stroke="#1a1a1a" stroke-width="1.0" />
<text x="120.3" y="473.8" font-size="12" fill="#1a1a1a" text-anchor="middle" >1500</text>
<line x1="147.8" y1="460.1" x2="147.8" y2="458.1" stroke="#1a1a1a" stroke-width="1.0" />
<line x1="163.5" y1="460.1" x2="163.5" y2="458.1" stroke="#1a1a1a" stroke-width="1.0" />
<line x1="190.9" y1="460.1" x2="190.9" y2="457.1" stroke="#1a1a1a" stroke-width="1.0" />
<text x="190.9" y="473.8" font-size="12" fill="#1a1a1a" text-anchor="middle" >3000</text>
<line x1="218.3" y1="460.1" x2="218.3" y2="458.1" stroke="#1a1a1a" stroke-width="1.0" />
<line x1="245.8" y1="460.1" x2="245.8" y2="457.1" stroke="#1a1a1a" stroke-width="1.0" />
<text x="245.8" y="473.8" font-size="12" fill="#1a1a1a" text-anchor="middle" >3500</text>
<line x1="273.2" y1="460.1" x2="273.2" y2="458.1" stroke="#1a1a1a" stroke-width="1.0" />
<text x="94.2" y="487" font-size="14.7" fill="#1a1a1a" text-anchor="start" textLength="129" lengthAdjust="spacingAndGlyphs" >Wavenumber (cm<tspan font-size="9.5" dy="-5.5">-1</tspan><tspan dy="5.5">)</tspan></text>
<text x="13.6" y="354.8" font-size="14.8" fill="#1a1a1a" text-anchor="middle" transform="rotate(-90 13.6 354.8)" >Transmission (a.u.)</text>
<text x="306" y="261.8" font-size="21" fill="#111" text-anchor="start" >d</text>
<line x1="328.1" y1="249.4" x2="684.3" y2="249.4" stroke="#1a1a1a" stroke-width="1.3" />
<line x1="328.1" y1="248.8" x2="328.1" y2="458.9" stroke="#1a1a1a" stroke-width="1.3" />
<line x1="684.3" y1="248.8" x2="684.3" y2="458.9" stroke="#1a1a1a" stroke-width="1.3" />
<line x1="327.5" y1="458.3" x2="684.9" y2="458.3" stroke="#1a1a1a" stroke-width="1.4" />
<line x1="347.7" y1="458.3" x2="347.7" y2="455.3" stroke="#1a1a1a" stroke-width="1.0" />
<text x="347.7" y="473.2" font-size="11.2" fill="#1a1a1a" text-anchor="middle" >0</text>
<line x1="387.3" y1="458.3" x2="387.3" y2="456.3" stroke="#1a1a1a" stroke-width="1.0" />
<line x1="427" y1="458.3" x2="427" y2="455.3" stroke="#1a1a1a" stroke-width="1.0" />
<text x="427" y="473.2" font-size="11.2" fill="#1a1a1a" text-anchor="middle" >200</text>
<line x1="466.6" y1="458.3" x2="466.6" y2="456.3" stroke="#1a1a1a" stroke-width="1.0" />
<line x1="506.2" y1="458.3" x2="506.2" y2="455.3" stroke="#1a1a1a" stroke-width="1.0" />
<text x="506.2" y="473.2" font-size="11.2" fill="#1a1a1a" text-anchor="middle" >400</text>
<line x1="545.9" y1="458.3" x2="545.9" y2="456.3" stroke="#1a1a1a" stroke-width="1.0" />
<line x1="585.5" y1="458.3" x2="585.5" y2="455.3" stroke="#1a1a1a" stroke-width="1.0" />
<text x="585.5" y="473.2" font-size="11.2" fill="#1a1a1a" text-anchor="middle" >600</text>
<line x1="625.1" y1="458.3" x2="625.1" y2="456.3" stroke="#1a1a1a" stroke-width="1.0" />
<line x1="664.7" y1="458.3" x2="664.7" y2="455.3" stroke="#1a1a1a" stroke-width="1.0" />
<text x="664.7" y="473.2" font-size="11.2" fill="#1a1a1a" text-anchor="middle" >800</text>
<text x="451.9" y="489.7" font-size="14.3" fill="#1a1a1a" text-anchor="start" textLength="109.9" lengthAdjust="spacingAndGlyphs" >Temperature (<tspan font-size="9" dy="-5">o</tspan><tspan dy="5">C)</tspan></text>
<text x="322" y="361.4" font-size="14.5" fill="#1a1a1a" text-anchor="middle" textLength="90.2" lengthAdjust="spacingAndGlyphs" transform="rotate(-90 322 361.4)" >Intensity (a.u.)</text>
<defs>
<radialGradient id="aW" cx="0.45" cy="0.45" r="0.6" fx="0.42" fy="0.42"><stop offset="0" stop-color="#c5e0f7"/><stop offset="0.45" stop-color="#5b9bd5"/><stop offset="1" stop-color="#2d6bab"/></radialGradient>
<radialGradient id="aNi" cx="0.45" cy="0.45" r="0.6" fx="0.45" fy="0.45"><stop offset="0" stop-color="#ffffff"/><stop offset="0.4" stop-color="#cfa8e2"/><stop offset="1" stop-color="#9b66bb"/></radialGradient>
<radialGradient id="aO" cx="0.45" cy="0.45" r="0.6" fx="0.4" fy="0.4"><stop offset="0" stop-color="#ff6a6a"/><stop offset="0.5" stop-color="#d81b26"/><stop offset="1" stop-color="#a80d16"/></radialGradient>
<radialGradient id="aC" cx="0.45" cy="0.45" r="0.6" fx="0.4" fy="0.4"><stop offset="0" stop-color="#777"/><stop offset="0.5" stop-color="#3a3a3a"/><stop offset="1" stop-color="#1c1c1c"/></radialGradient>
<radialGradient id="aH" cx="0.45" cy="0.45" r="0.6" fx="0.4" fy="0.4"><stop offset="0" stop-color="#f4f4f4"/><stop offset="0.6" stop-color="#bdbdbd"/><stop offset="1" stop-color="#8a8a8a"/></radialGradient>
<linearGradient id="yel" x1="0" y1="0" x2="0" y2="1"><stop offset="0" stop-color="#fdd67a"/><stop offset="0.45" stop-color="#fff1d0"/><stop offset="1" stop-color="#fdd26e"/></linearGradient>
<linearGradient id="plas" x1="0" y1="0" x2="1" y2="0"><stop offset="0" stop-color="#f6a800"/><stop offset="1" stop-color="#fbbd20"/></linearGradient>
<linearGradient id="wave" gradientUnits="userSpaceOnUse" x1="0" y1="557" x2="0" y2="598"><stop offset="0" stop-color="#ff1010"/><stop offset="0.45" stop-color="#ff9a10"/><stop offset="0.8" stop-color="#f6f030"/><stop offset="1" stop-color="#6ccc3a"/></linearGradient>
</defs>
<defs><linearGradient id="cn" x1="0" y1="0" x2="0" y2="1"><stop offset="0" stop-color="#e03030"/><stop offset="0.5" stop-color="#ffffff"/><stop offset="1" stop-color="#a8cdef"/></linearGradient></defs>
<rect x="14" y="498.2" width="665.2" height="359" rx="58" ry="58" fill="none" stroke="#5b9bd5" stroke-width="1.7"/>
<text x="0" y="507.5" font-size="21" fill="#111" text-anchor="start" >e</text>
<rect x="494.2" y="525.9" width="155.6" height="317.6" rx="23" ry="23" fill="none" stroke="#f7b600" stroke-width="1.6"/>
<rect x="34.5" y="658.8" width="101.1" height="48.8" fill="#9dc3e6" />
<rect x="175.2" y="566.1" width="101.3" height="49.2" fill="#9dc3e6" />
<rect x="334.4" y="565.9" width="101.2" height="48.7" fill="#9dc3e6" />
<rect x="339.3" y="757.1" width="101.5" height="49.4" fill="#9dc3e6" />
<rect x="175.2" y="757.3" width="101.5" height="49.4" fill="#9dc3e6" />
<rect x="514.2" y="556.4" width="101.9" height="54.8" fill="url(#yel)" />
<rect x="514.2" y="611.1" width="101.9" height="49.7" fill="#9dc3e6" />
<rect x="513.2" y="699" width="101.6" height="41.8" fill="url(#yel)" />
<rect x="513.2" y="740.8" width="101.6" height="49.2" fill="#9dc3e6" />
<text x="50.6" y="696.7" font-size="15.5" fill="#f4f8fd" text-anchor="start" textLength="72" lengthAdjust="spacingAndGlyphs" >Ni-W<tspan font-size="11.5" dy="3.4">18</tspan><tspan dy="-3.4">O</tspan><tspan font-size="11.5" dy="3.4">49</tspan></text>
<text x="199.7" y="597.9" font-size="14.5" fill="#f4f8fd" text-anchor="start" >*CH<tspan font-size="11" dy="2.6">3</tspan><tspan dy="-2.6">OH</tspan></text>
<text x="385.2" y="592.3" font-size="14.5" fill="#f4f8fd" text-anchor="middle" >*H, *CH<tspan font-size="11" dy="2.6">3</tspan><tspan dy="-2.6">O,</tspan></text>
<text x="385.2" y="609.6" font-size="14.5" fill="#f4f8fd" text-anchor="middle" >*CH<tspan font-size="11" dy="2.6">3</tspan><tspan dy="-2.6">OH</tspan></text>
<text x="390" y="784.3" font-size="14.5" fill="#f4f8fd" text-anchor="middle" >*DME</text>
<text x="390" y="801.8" font-size="14.5" fill="#f4f8fd" text-anchor="middle" >*OH, *OH</text>
<text x="209.9" y="787" font-size="14.5" fill="#f4f8fd" text-anchor="start" >*H<tspan font-size="11" dy="2.6">2</tspan><tspan dy="-2.6">O</tspan></text>
<clipPath id="spc"><rect x="514" y="611" width="102.1" height="50"/></clipPath><text x="517.8" y="641.4" font-size="16.1" fill="#f4f8fd" text-anchor="start" clip-path="url(#spc)">SPR excitation</text>
<text x="519.2" y="769.2" font-size="15.5" fill="#f4f8fd" text-anchor="start" textLength="91.3" lengthAdjust="spacingAndGlyphs" >C-O cleavage</text>
<text x="81.9" y="585.2" font-size="14.5" fill="#111" text-anchor="start" textLength="60.7" lengthAdjust="spacingAndGlyphs" >Methanol</text>
<text x="127.7" y="528.9" font-size="14.5" fill="#111" text-anchor="start" textLength="85.7" lengthAdjust="spacingAndGlyphs" >*methanol(2)</text>
<text x="229.5" y="519.9" font-size="14.5" fill="#111" text-anchor="start" textLength="86" lengthAdjust="spacingAndGlyphs" >*methanol(1)</text>
<text x="180.5" y="667.8" font-size="16.5" fill="#111" text-anchor="start" textLength="285.9" lengthAdjust="spacingAndGlyphs" font-style="italic">Semiconductor-plasmon photocatalytic</text>
<text x="243.6" y="688.2" font-size="16.5" fill="#111" text-anchor="start" textLength="159.4" lengthAdjust="spacingAndGlyphs" font-style="italic">methanol dehydration</text>
<text x="86.2" y="781.2" font-size="14.5" fill="#111" text-anchor="start" >H<tspan font-size="10" dy="3.5">2</tspan><tspan dy="-3.5">O</tspan></text>
<text x="315.8" y="835.2" font-size="14.5" fill="#111" text-anchor="start" textLength="31.3" lengthAdjust="spacingAndGlyphs" >DME</text>
<text x="515.7" y="816.6" font-size="15" fill="#111" text-anchor="start" textLength="104.2" lengthAdjust="spacingAndGlyphs" >Transition State</text>
<text x="567.8" y="833.4" font-size="15" fill="#111" text-anchor="middle" >(TS)</text>
<text x="523" y="549.2" font-size="14.6" fill="#c8601c" text-anchor="start" textLength="99.2" lengthAdjust="spacingAndGlyphs" >Plasmonic field</text>
<path d="M119.3,643.2 Q128,612 152.5,601.5 L150.2,598 L159.8,604 L157.2,614.5 L155.6,609.5 Q135,618 126.9,644.3 Z" fill="#a9d18e"/>
<path d="M285,585 L314.8,585 L314.8,581.4 L322.4,589 L314.8,596.6 L314.8,593 L285,593 Z" fill="#a9d18e"/>
<path d="M444.7,585.3 Q468,582 484.5,592.5 L492.2,591.3 L493.6,603.6 L481.2,606.4 L485,600 Q468,590.5 446.2,593.5 Z" fill="#a9d18e"/>
<path d="M555.1,664.2 L565.1,664.2 L565.1,685.2 L570.1,685.2 L560,695.2 L549.9,685.2 L555.1,685.2 Z" fill="#a9d18e"/>
<path d="M489.6,762.7 Q470,771.5 451.8,770.4 L452,764.5 L443.4,772.2 L447.5,782.1 L449.8,778.5 Q472,780 493.7,769 Z" fill="#a9d18e"/>
<path d="M324.6,771.5 L294.5,771.5 L294.5,767.9 L286.9,775 L294.5,783.2 L294.5,779.6 L311,779.6 Q296,790 289,803 L283.3,801 L288.4,809.5 L299.1,806.2 L294.6,805.6 Q306,789 325.9,780.1 Z" fill="#a9d18e"/>
<path d="M166.9,759.3 C154.3,757.4 143,751.7 135.4,745.1 C131.5,741.5 130,739.5 129.2,737.5 L132.5,734.5 L120.7,733.2 L116.9,743.7 L121.6,741.3 C126.8,747.9 131,752 136.3,756.9 C128.7,758.2 119.2,760.3 113.5,762.6 L111.2,759.6 L109.8,769.5 L121,772.8 L118.8,768.8 C128.7,765.5 143,764.1 154.3,765.5 L166.7,766.9 Z" fill="#a9d18e"/>
<rect x="58.7" y="644" width="2.8" height="7.5" fill="url(#cn)" />
<circle cx="59.6" cy="658.3" r="7.5" fill="url(#aW)"/><text x="59.6" y="662.6" font-size="11.5" fill="#000" text-anchor="middle" font-weight="bold">W</text>
<circle cx="89" cy="657.9" r="6.1" fill="url(#aNi)"/><text x="89" y="661.6" font-size="10.3" fill="#111" text-anchor="middle" font-weight="bold">Ni</text>
<circle cx="116.3" cy="658.3" r="7.5" fill="url(#aW)"/><text x="116.3" y="662.6" font-size="11.5" fill="#000" text-anchor="middle" font-weight="bold">W</text>
<circle cx="60.1" cy="640.5" r="3.2" fill="url(#aO)"/>
<text x="60.2" y="644.2" font-size="10.5" fill="#000" text-anchor="middle" font-weight="bold">O</text>
<line x1="109.3" y1="613.3" x2="115.8" y2="602.2" stroke="#b03030" stroke-width="2.4" stroke-linecap="round"/><line x1="101.2" y1="609.8" x2="109.3" y2="613.3" stroke="#aaa" stroke-width="2" stroke-linecap="round"/>
<line x1="115.8" y1="602.2" x2="108.8" y2="596.4" stroke="#999" stroke-width="2" stroke-linecap="round"/>
<line x1="115.8" y1="602.2" x2="117.5" y2="594.6" stroke="#999" stroke-width="2" stroke-linecap="round"/>
<line x1="115.8" y1="602.2" x2="124.5" y2="603.9" stroke="#999" stroke-width="2" stroke-linecap="round"/>
<circle cx="108.8" cy="596.4" r="3.2" fill="url(#aH)"/>
<circle cx="117.5" cy="594.6" r="3.2" fill="url(#aH)"/>
<circle cx="124.5" cy="603.9" r="3.2" fill="url(#aH)"/>
<circle cx="115.8" cy="602.2" r="4.8" fill="url(#aC)"/>
<circle cx="101.2" cy="609.8" r="3.2" fill="url(#aH)"/>
<circle cx="109.3" cy="613.3" r="4.4" fill="url(#aO)"/>
<rect x="201.8" y="551" width="2.8" height="7" fill="url(#cn)" />
<line x1="224.5" y1="549" x2="224.8" y2="559.5" stroke="#d01020" stroke-width="2.2" stroke-dasharray="2,1.8"/>
<line x1="255" y1="546.5" x2="255.5" y2="557" stroke="#d01020" stroke-width="2.2" stroke-dasharray="2,1.8"/>
<line x1="208" y1="545.2" x2="213.5" y2="544.2" stroke="#d01020" stroke-width="2.2" stroke-dasharray="2,1.8"/>
<circle cx="198.4" cy="564.6" r="7.5" fill="url(#aW)"/>
<circle cx="225" cy="566.1" r="6.1" fill="url(#aNi)"/>
<circle cx="256" cy="565" r="7.5" fill="url(#aW)"/>
<circle cx="204.6" cy="547.4" r="3.1" fill="#fde6e6" stroke="#d8222a" stroke-width="1.7"/>
<line x1="224.5" y1="544.5" x2="227.4" y2="535.2" stroke="#c03030" stroke-width="2.2" stroke-linecap="round"/>
<line x1="227.4" y1="535.2" x2="220.6" y2="531.7" stroke="#9a9a9a" stroke-width="1.6" stroke-linecap="round"/><line x1="227.4" y1="535.2" x2="227.4" y2="528.8" stroke="#9a9a9a" stroke-width="1.6" stroke-linecap="round"/><line x1="227.4" y1="535.2" x2="235" y2="534.6" stroke="#9a9a9a" stroke-width="1.6" stroke-linecap="round"/><circle cx="220.6" cy="531.7" r="2.8" fill="url(#aH)"/><circle cx="227.4" cy="528.8" r="2.8" fill="url(#aH)"/><circle cx="235" cy="534.6" r="2.8" fill="url(#aH)"/><circle cx="227.4" cy="535.2" r="4.2" fill="url(#aC)"/>
<circle cx="216.3" cy="544" r="2.8" fill="url(#aH)"/>
<circle cx="224.5" cy="544.5" r="3.8" fill="url(#aO)"/>
<line x1="254.8" y1="542.2" x2="253.1" y2="531.7" stroke="#c03030" stroke-width="2.2" stroke-linecap="round"/>
<line x1="253.1" y1="531.7" x2="245.5" y2="531.4" stroke="#9a9a9a" stroke-width="1.6" stroke-linecap="round"/><line x1="253.1" y1="531.7" x2="253.1" y2="525.3" stroke="#9a9a9a" stroke-width="1.6" stroke-linecap="round"/><line x1="253.1" y1="531.7" x2="259.5" y2="528.8" stroke="#9a9a9a" stroke-width="1.6" stroke-linecap="round"/><circle cx="245.5" cy="531.4" r="2.8" fill="url(#aH)"/><circle cx="253.1" cy="525.3" r="2.8" fill="url(#aH)"/><circle cx="259.5" cy="528.8" r="2.8" fill="url(#aH)"/><circle cx="253.1" cy="531.7" r="4.2" fill="url(#aC)"/>
<circle cx="262.4" cy="541.6" r="2.8" fill="url(#aH)"/>
<circle cx="254.8" cy="542.2" r="3.8" fill="url(#aO)"/>
<rect x="358.9" y="555.5" width="2.8" height="6.5" fill="url(#cn)" />
<line x1="371.5" y1="547.6" x2="379" y2="547.6" stroke="#d01020" stroke-width="2.2" stroke-dasharray="2,1.8"/>
<line x1="385" y1="552" x2="385.5" y2="563.5" stroke="#d01020" stroke-width="2.2" stroke-dasharray="2,1.8"/>
<line x1="415.5" y1="553" x2="416.2" y2="561.5" stroke="#d01020" stroke-width="2.2" stroke-dasharray="2,1.8"/>
<circle cx="359.6" cy="568.8" r="7.5" fill="url(#aW)"/>
<circle cx="386" cy="570" r="6.1" fill="url(#aNi)"/>
<circle cx="416.8" cy="569.1" r="7.5" fill="url(#aW)"/>
<circle cx="366.4" cy="547.8" r="2.8" fill="url(#aH)"/>
<circle cx="360.3" cy="552.1" r="3.1" fill="#fde6e6" stroke="#d8222a" stroke-width="1.7"/>
<line x1="384.8" y1="547.8" x2="384.5" y2="537.3" stroke="#c03030" stroke-width="2.2" stroke-linecap="round"/>
<line x1="384.5" y1="537.3" x2="376.9" y2="535.5" stroke="#9a9a9a" stroke-width="1.6" stroke-linecap="round"/><line x1="384.5" y1="537.3" x2="385.3" y2="530.8" stroke="#9a9a9a" stroke-width="1.6" stroke-linecap="round"/><line x1="384.5" y1="537.3" x2="391.5" y2="535.5" stroke="#9a9a9a" stroke-width="1.6" stroke-linecap="round"/><circle cx="376.9" cy="535.5" r="2.8" fill="url(#aH)"/><circle cx="385.3" cy="530.8" r="2.8" fill="url(#aH)"/><circle cx="391.5" cy="535.5" r="2.8" fill="url(#aH)"/><circle cx="384.5" cy="537.3" r="4.2" fill="url(#aC)"/>
<circle cx="384.8" cy="547.8" r="3.8" fill="url(#aO)"/>
<line x1="414.8" y1="548.4" x2="413.1" y2="537.8" stroke="#c03030" stroke-width="2.2" stroke-linecap="round"/>
<line x1="413.1" y1="537.8" x2="405.5" y2="537.3" stroke="#9a9a9a" stroke-width="1.6" stroke-linecap="round"/><line x1="413.1" y1="537.8" x2="413.1" y2="532" stroke="#9a9a9a" stroke-width="1.6" stroke-linecap="round"/><line x1="413.1" y1="537.8" x2="419.5" y2="535.3" stroke="#9a9a9a" stroke-width="1.6" stroke-linecap="round"/><circle cx="405.5" cy="537.3" r="2.8" fill="url(#aH)"/><circle cx="413.1" cy="532" r="2.8" fill="url(#aH)"/><circle cx="419.5" cy="535.3" r="2.8" fill="url(#aH)"/><circle cx="413.1" cy="537.8" r="4.2" fill="url(#aC)"/>
<circle cx="422.4" cy="548.1" r="2.8" fill="url(#aH)"/>
<circle cx="414.8" cy="548.4" r="3.8" fill="url(#aO)"/>
<path d="M514,537 C514.5,548 515.5,553 518,555 C522,558.5 530,561.5 532.5,565.5 C534.5,569.5 531,574 527.5,580 C523,588 518,598 514,611 Z" fill="#fbb60a"/>
<path d="M514,537 C514.5,548 515.5,553 518,555 C522,558.5 530,561.5 532.5,565.5 C534.5,569.5 531,574 527.5,580 C523,588 518,598 514,611" fill="none" stroke="#f0702a" stroke-width="1"/>
<line x1="510.9" y1="613.1" x2="510.9" y2="561" stroke="#44546a" stroke-width="1.7" />
<path d="M507.2,562.4 L510.9,554.9 L514.6,562.4 Z" fill="#44546a"/>
<text x="507.3" y="587.6" font-size="8.3" font-weight="bold" fill="#111" text-anchor="middle" textLength="47.7" lengthAdjust="spacingAndGlyphs" transform="rotate(-90 507.3 587.6)">High energy</text>
<line x1="526.4" y1="610.7" x2="526.4" y2="595" stroke="#c00000" stroke-width="2.3" />
<path d="M522.3,595.8 L526.4,587.1 L530.6,595.8 Z" fill="#c00000"/>
<text x="527.1" y="573.2" font-size="12.5" fill="#d02020" text-anchor="start" >e<tspan font-size="8" dy="-5">-</tspan></text>
<text x="545.8" y="569.1" font-size="12.5" fill="#d02020" text-anchor="start" >e<tspan font-size="8" dy="-5">-</tspan></text>
<text x="564" y="569.1" font-size="12.5" fill="#d02020" text-anchor="start" >e<tspan font-size="8" dy="-5">-</tspan></text>
<text x="584.7" y="568.2" font-size="12.5" fill="#d02020" text-anchor="start" >e<tspan font-size="8" dy="-5">-</tspan></text>
<text x="603.8" y="568.2" font-size="12.5" fill="#d02020" text-anchor="start" >e<tspan font-size="8" dy="-5">-</tspan></text>
<text x="515.5" y="616.4" font-size="12.5" fill="#4472c4" text-anchor="start" >e<tspan font-size="8" dy="-5">-</tspan></text>
<text x="576.8" y="615.5" font-size="12.5" fill="#4472c4" text-anchor="start" >e<tspan font-size="8" dy="-5">-</tspan></text>
<text x="605.7" y="615.5" font-size="12.5" fill="#4472c4" text-anchor="start" >e<tspan font-size="8" dy="-5">-</tspan></text>
<rect x="537.4" y="597" width="2.8" height="7" fill="url(#cn)" />
<line x1="549.5" y1="590.2" x2="556.5" y2="590.2" stroke="#d01020" stroke-width="2.2" stroke-dasharray="2,1.8"/>
<line x1="563.5" y1="595" x2="564" y2="605.5" stroke="#d01020" stroke-width="2.2" stroke-dasharray="2,1.8"/>
<line x1="594" y1="596" x2="594.5" y2="604" stroke="#d01020" stroke-width="2.2" stroke-dasharray="2,1.8"/>
<circle cx="538.2" cy="610.9" r="7.5" fill="url(#aW)"/>
<circle cx="564.5" cy="612.3" r="6.1" fill="url(#aNi)"/>
<circle cx="595.2" cy="611.6" r="7.5" fill="url(#aW)"/>
<circle cx="545.2" cy="590.1" r="2.8" fill="url(#aH)"/>
<circle cx="538.8" cy="593.6" r="3.1" fill="#fde6e6" stroke="#d8222a" stroke-width="1.7"/>
<line x1="563.3" y1="590.1" x2="562.5" y2="579" stroke="#c03030" stroke-width="2.2" stroke-linecap="round"/>
<line x1="562.5" y1="579" x2="555.1" y2="577.3" stroke="#9a9a9a" stroke-width="1.6" stroke-linecap="round"/><line x1="562.5" y1="579" x2="563.9" y2="573.2" stroke="#9a9a9a" stroke-width="1.6" stroke-linecap="round"/><line x1="562.5" y1="579" x2="569.7" y2="577.3" stroke="#9a9a9a" stroke-width="1.6" stroke-linecap="round"/><circle cx="555.1" cy="577.3" r="2.8" fill="url(#aH)"/><circle cx="563.9" cy="573.2" r="2.8" fill="url(#aH)"/><circle cx="569.7" cy="577.3" r="2.8" fill="url(#aH)"/><circle cx="562.5" cy="579" r="4.2" fill="url(#aC)"/>
<circle cx="563.3" cy="590.1" r="3.8" fill="url(#aO)"/>
<line x1="593.9" y1="590.6" x2="591.9" y2="580.1" stroke="#c03030" stroke-width="2.2" stroke-linecap="round"/>
<line x1="591.9" y1="580.1" x2="584" y2="579.4" stroke="#9a9a9a" stroke-width="1.6" stroke-linecap="round"/><line x1="591.9" y1="580.1" x2="591.3" y2="573.9" stroke="#9a9a9a" stroke-width="1.6" stroke-linecap="round"/><line x1="591.9" y1="580.1" x2="597.8" y2="578.1" stroke="#9a9a9a" stroke-width="1.6" stroke-linecap="round"/><circle cx="584" cy="579.4" r="2.8" fill="url(#aH)"/><circle cx="591.3" cy="573.9" r="2.8" fill="url(#aH)"/><circle cx="597.8" cy="578.1" r="2.8" fill="url(#aH)"/><circle cx="591.9" cy="580.1" r="4.2" fill="url(#aC)"/>
<circle cx="601.1" cy="590.6" r="2.8" fill="url(#aH)"/>
<circle cx="593.9" cy="590.6" r="3.8" fill="url(#aO)"/>
<path d="M642.8,557.2 C644.5,565 644.5,573 641.5,577.5 C638,580 632,574 627,572.8 C623,572 622.5,576 622.7,580 L622.3,589 C622,594 618,594.5 614.3,593.2 C611,592.5 608,594.5 605,596.5" fill="none" stroke="url(#wave)" stroke-width="2.9"/>
<path d="M602.2,598.4 L606.2,590.8 L611.9,597.4 Z" fill="#6ccc3a"/>
<rect x="538" y="727" width="2.8" height="6" fill="url(#cn)" />
<line x1="550" y1="719.4" x2="557" y2="719.4" stroke="#d01020" stroke-width="2.2" stroke-dasharray="2,1.8"/>
<line x1="564.3" y1="724.5" x2="564.8" y2="734" stroke="#d01020" stroke-width="2.2" stroke-dasharray="2,1.8"/>
<line x1="595.2" y1="726" x2="595.6" y2="733.5" stroke="#d01020" stroke-width="2.2" stroke-dasharray="2,1.8"/>
<circle cx="539.4" cy="739.9" r="7.5" fill="url(#aW)"/>
<circle cx="565.2" cy="741.7" r="6.1" fill="url(#aNi)"/>
<circle cx="596.2" cy="740.5" r="7.5" fill="url(#aW)"/>
<circle cx="545.9" cy="719.4" r="2.8" fill="url(#aH)"/>
<circle cx="539.4" cy="723.3" r="3.1" fill="#fde6e6" stroke="#d8222a" stroke-width="1.7"/>
<line x1="564" y1="718.9" x2="563.4" y2="707.5" stroke="#c03030" stroke-width="2.2" stroke-linecap="round"/>
<line x1="563.4" y1="707.5" x2="555.9" y2="707.2" stroke="#9a9a9a" stroke-width="1.6" stroke-linecap="round"/><line x1="563.4" y1="707.5" x2="564.7" y2="702.3" stroke="#9a9a9a" stroke-width="1.6" stroke-linecap="round"/><line x1="563.4" y1="707.5" x2="571" y2="707.2" stroke="#9a9a9a" stroke-width="1.6" stroke-linecap="round"/><circle cx="555.9" cy="707.2" r="2.8" fill="url(#aH)"/><circle cx="564.7" cy="702.3" r="2.8" fill="url(#aH)"/><circle cx="571" cy="707.2" r="2.8" fill="url(#aH)"/><circle cx="563.4" cy="707.5" r="4.2" fill="url(#aC)"/>
<circle cx="564" cy="718.9" r="3.8" fill="url(#aO)"/>
<line x1="592.7" y1="708.9" x2="585.3" y2="708.9" stroke="#9a9a9a" stroke-width="1.6" stroke-linecap="round"/><line x1="592.7" y1="708.9" x2="592.3" y2="703.7" stroke="#9a9a9a" stroke-width="1.6" stroke-linecap="round"/><line x1="592.7" y1="708.9" x2="599.3" y2="707.2" stroke="#9a9a9a" stroke-width="1.6" stroke-linecap="round"/><circle cx="585.3" cy="708.9" r="2.8" fill="url(#aH)"/><circle cx="592.3" cy="703.7" r="2.8" fill="url(#aH)"/><circle cx="599.3" cy="707.2" r="2.8" fill="url(#aH)"/><circle cx="592.7" cy="708.9" r="4.2" fill="url(#aC)"/>
<circle cx="602" cy="719.8" r="2.8" fill="url(#aH)"/>
<circle cx="595" cy="719.8" r="3.8" fill="url(#aO)"/>
<line x1="591.5" y1="713.5" x2="598.5" y2="713.5" stroke="#e02020" stroke-width="1.2" stroke-dasharray="1.5,1"/>
<path d="M590,712.5 Q584,724 572.5,721.8" fill="none" stroke="#c00000" stroke-width="1.6"/>
<path d="M568.8,721.2 L575.2,717.4 L574.4,725.2 Z" fill="#c00000"/>
<text x="576.6" y="721.5" font-size="11.5" fill="#111" text-anchor="start" font-weight="bold">e<tspan font-size="7.5" dy="-5">-</tspan></text>
<path d="M610.5,709.3 L598.5,709.9 M610.5,709.3 L600.3,716.9" stroke="#808080" stroke-width="1" fill="none"/>
<path d="M610.5,709.3 C607,704 609,697 614.5,695.2 C619.5,693.8 621.5,698 620,700.5 C617.5,704 613.5,706.5 610.5,709.3 Z M610.5,709.3 C615,709 621,708.5 624,710 C627.5,712 625,717.5 619.5,717.3 C614,717 611.5,713 610.5,709.3 Z" fill="none" stroke="#c41a1a" stroke-width="1.9"/>
<rect x="361.3" y="741" width="2.8" height="7.5" fill="url(#cn)" />
<line x1="362.7" y1="726" x2="362.7" y2="731" stroke="#d01020" stroke-width="2.2" stroke-dasharray="2,1.8"/>
<line x1="420.1" y1="738.5" x2="420.1" y2="748" stroke="#d01020" stroke-width="2.2" stroke-dasharray="2,1.8"/>
<circle cx="362.7" cy="756.2" r="7.5" fill="url(#aW)"/>
<circle cx="389.2" cy="757.3" r="6.1" fill="url(#aNi)"/>
<circle cx="420.1" cy="756.2" r="7.5" fill="url(#aW)"/>
<circle cx="362.7" cy="722.7" r="2.8" fill="url(#aH)"/>
<circle cx="362.7" cy="735.8" r="3.2" fill="#fde6e6" stroke="#d8222a" stroke-width="1.7"/>
<circle cx="420.1" cy="726" r="2.8" fill="url(#aH)"/>
<circle cx="420.1" cy="733.8" r="3.6" fill="url(#aO)"/>
<line x1="382.7" y1="723.3" x2="390.4" y2="730.2" stroke="#c03030" stroke-width="2" stroke-linecap="round"/><line x1="398.2" y1="723.3" x2="390.4" y2="730.2" stroke="#c03030" stroke-width="2" stroke-linecap="round"/>
<line x1="382.7" y1="723.3" x2="375.5" y2="728" stroke="#9a9a9a" stroke-width="1.6" stroke-linecap="round"/><line x1="382.7" y1="723.3" x2="383" y2="717.5" stroke="#9a9a9a" stroke-width="1.6" stroke-linecap="round"/><circle cx="375.5" cy="728" r="2.8" fill="url(#aH)"/><circle cx="383" cy="717.5" r="2.8" fill="url(#aH)"/><circle cx="382.7" cy="723.3" r="4.2" fill="url(#aC)"/>
<line x1="398.2" y1="723.3" x2="405.5" y2="728" stroke="#9a9a9a" stroke-width="1.6" stroke-linecap="round"/><line x1="398.2" y1="723.3" x2="398" y2="717.5" stroke="#9a9a9a" stroke-width="1.6" stroke-linecap="round"/><circle cx="405.5" cy="728" r="2.8" fill="url(#aH)"/><circle cx="398" cy="717.5" r="2.8" fill="url(#aH)"/><circle cx="398.2" cy="723.3" r="4.2" fill="url(#aC)"/>
<circle cx="390.4" cy="730.2" r="3.6" fill="url(#aO)"/>
<rect x="197.2" y="740.5" width="2.8" height="8" fill="url(#cn)" />
<line x1="255.9" y1="743" x2="255.9" y2="749" stroke="#d01020" stroke-width="2.2" stroke-dasharray="2,1.8"/>
<circle cx="198.6" cy="756.3" r="7.5" fill="url(#aW)"/>
<circle cx="224.9" cy="757.3" r="6.1" fill="url(#aNi)"/>
<circle cx="255.9" cy="756.3" r="7.5" fill="url(#aW)"/>
<circle cx="198.6" cy="736.3" r="3.2" fill="#fde6e6" stroke="#d8222a" stroke-width="1.7"/>
<circle cx="249.3" cy="733.1" r="2.8" fill="url(#aH)"/>
<circle cx="261.5" cy="733.1" r="2.8" fill="url(#aH)"/>
<circle cx="255.9" cy="738.9" r="3.7" fill="url(#aO)"/>
<circle cx="88" cy="752.8" r="2.8" fill="url(#aH)"/>
<circle cx="99.3" cy="752.8" r="2.8" fill="url(#aH)"/>
<circle cx="93.3" cy="757.8" r="3.1" fill="#fde6e6" stroke="#d8222a" stroke-width="1.7"/>
<line x1="276.2" y1="826.8" x2="285.4" y2="822.4" stroke="#c03030" stroke-width="2.4" stroke-linecap="round"/><line x1="293" y1="829" x2="285.4" y2="822.4" stroke="#c03030" stroke-width="2.4" stroke-linecap="round"/>
<line x1="276.2" y1="826.8" x2="268.9" y2="820.6" stroke="#999" stroke-width="2" stroke-linecap="round"/>
<line x1="276.2" y1="826.8" x2="275.5" y2="833.4" stroke="#999" stroke-width="2" stroke-linecap="round"/>
<line x1="293" y1="829" x2="301.4" y2="825.3" stroke="#999" stroke-width="2" stroke-linecap="round"/>
<line x1="293" y1="829" x2="291.9" y2="835.5" stroke="#999" stroke-width="2" stroke-linecap="round"/>
<circle cx="268.9" cy="820.6" r="3.3" fill="url(#aH)"/>
<circle cx="275.5" cy="833.4" r="3.3" fill="url(#aH)"/>
<circle cx="301.4" cy="825.3" r="3.3" fill="url(#aH)"/>
<circle cx="291.9" cy="835.5" r="3.3" fill="url(#aH)"/>
<circle cx="276.2" cy="826.8" r="4.8" fill="url(#aC)"/>
<circle cx="293" cy="829" r="4.8" fill="url(#aC)"/>
<circle cx="285.4" cy="822.4" r="3.9" fill="url(#aO)"/>
</svg>
</body></html>
